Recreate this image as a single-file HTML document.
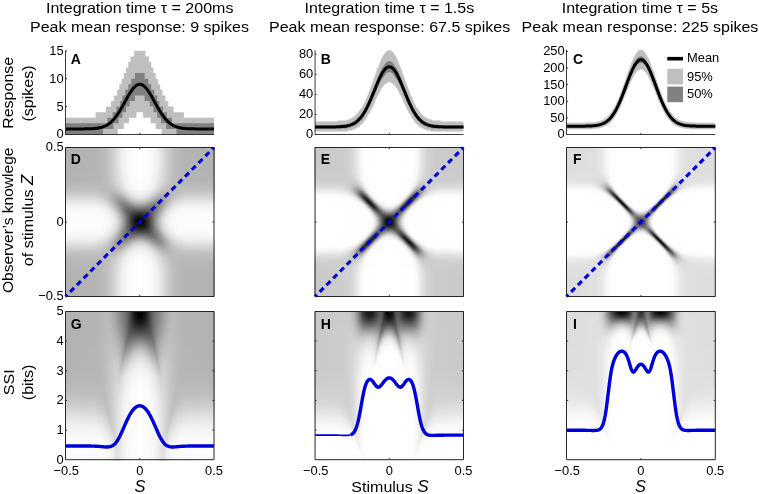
<!DOCTYPE html>
<html><head><meta charset="utf-8"><style>
html,body{margin:0;padding:0;background:#fff;width:759px;height:494px;overflow:hidden}
#root{position:relative;width:759px;height:494px;overflow:hidden}
i{position:absolute;left:0;width:100%;display:block;background:linear-gradient(90deg,var(--g)) left top/var(--hw) 100% no-repeat,linear-gradient(270deg,var(--g)) right top/var(--hw) 100% no-repeat}
svg{position:absolute;left:0;top:0;will-change:transform}
text{font-family:"Liberation Sans",sans-serif;fill:#000}
.m0_0{--g:#b2b2b2 0px,#b4b4b4 31.5px,#bcbcbc 40.5px,#cacaca 46.5px,#efefef 57.5px,#f9f9f9 63.5px,#fdfdfd 75px}
.m0_1{--g:#b3b3b3 0px,#b5b5b5 32.5px,#bcbcbc 40.5px,#c9c9c9 46.5px,#f0f0f0 58.5px,#fafafa 64.5px,#fdfdfd 75px}
.m0_2{--g:#b4b4b4 0px,#b6b6b6 33.5px,#bdbdbd 41.5px,#cbcbcb 47.5px,#efefef 58.5px,#f9f9f9 64.5px,#fdfdfd 75px}
.m0_3{--g:#b4b4b4 0px,#b6b6b6 33.5px,#bdbdbd 41.5px,#cacaca 47.5px,#eeeeee 58.5px,#f9f9f9 64.5px,#fdfdfd 75px}
.m0_4{--g:#b5b5b5 0px,#b7b7b7 34.5px,#bebebe 42.5px,#cccccc 48.5px,#eeeeee 58.5px,#f9f9f9 64.5px,#fdfdfd 75px}
.m0_5{--g:#b6b6b6 0px,#b8b8b8 35.5px,#bfbfbf 43.5px,#cecece 49.5px,#efefef 59.5px,#f9f9f9 65.5px,#fcfcfc 75px}
.m0_6{--g:#b7b7b7 0px,#b9b9b9 36.5px,#c0c0c0 44.5px,#d0d0d0 50.5px,#eeeeee 59.5px,#f9f9f9 65.5px,#fcfcfc 75px}
.m0_7{--g:#b7b7b7 0px,#b9b9b9 37.5px,#c0c0c0 44.5px,#cecece 50.5px,#ededed 59.5px,#f8f8f8 65.5px,#fcfcfc 75px}
.m0_8{--g:#b8b8b8 0px,#bababa 39.5px,#c2c2c2 46.5px,#d4d4d4 52.5px,#efefef 60.5px,#f9f9f9 66.5px,#fcfcfc 75px}
.m0_9{--g:#bababa 0px,#bbbbbb 41.5px,#c3c3c3 47.5px,#d5d5d5 53.5px,#ededed 60.5px,#f8f8f8 66.5px,#fbfbfb 75px}
.m0_10{--g:#bbbbbb 0px,#bcbcbc 42.5px,#c3c3c3 48.5px,#d7d7d7 54.5px,#eeeeee 61.5px,#f8f8f8 67.5px,#fbfbfb 75px}
.m0_11{--g:#bdbdbd 0px,#bcbcbc 44.5px,#c4c4c4 49.5px,#d8d8d8 55.5px,#ededed 61.5px,#f7f7f7 67.5px,#fafafa 75px}
.m0_12{--g:#bebebe 0px,#bcbcbc 37.5px,#bcbcbc 46.5px,#c6c6c6 51.5px,#eaeaea 61.5px,#f6f6f6 67.5px,#fafafa 75px}
.m0_13{--g:#c0c0c0 0px,#bebebe 34.5px,#bbbbbb 46.5px,#c3c3c3 51.5px,#ebebeb 62.5px,#f6f6f6 68.5px,#f9f9f9 75px}
.m0_14{--g:#c2c2c2 0px,#c0c0c0 33.5px,#b9b9b9 46.5px,#bdbdbd 50.5px,#cdcdcd 55.5px,#e8e8e8 62.5px,#f3f3f3 67.5px,#f7f7f7 75px}
.m0_15{--g:#c5c5c5 0px,#c3c3c3 31.5px,#b7b7b7 47.5px,#bbbbbb 51.5px,#cccccc 56.5px,#e8e8e8 63.5px,#f2f2f2 68.5px,#f6f6f6 75px}
.m0_16{--g:#c8c8c8 0px,#c5c5c5 31.5px,#bcbcbc 41.5px,#b5b5b5 48.5px,#b9b9b9 52.5px,#cccccc 57.5px,#e4e4e4 63.5px,#f0f0f0 68.5px,#f4f4f4 75px}
.m0_17{--g:#cbcbcb 0px,#c8c8c8 30.5px,#c0c0c0 39.5px,#b2b2b2 48.5px,#b5b5b5 52.5px,#c2c2c2 56.5px,#e0e0e0 63.5px,#ededed 68.5px,#f2f2f2 75px}
.m0_18{--g:#cecece 0px,#cbcbcb 30.5px,#c3c3c3 38.5px,#afafaf 49.5px,#b0b0b0 52.5px,#bcbcbc 56.5px,#dfdfdf 64.5px,#ececec 69.5px,#f0f0f0 75px}
.m0_19{--g:#d1d1d1 0px,#cfcfcf 29.5px,#c7c7c7 37.5px,#b5b5b5 45.5px,#ababab 50.5px,#acacac 53.5px,#b5b5b5 56.5px,#dadada 64.5px,#e8e8e8 69.5px,#ececec 75px}
.m0_20{--g:#d4d4d4 0px,#d2d2d2 29.5px,#cacaca 37.5px,#b9b9b9 44.5px,#a8a8a8 50.5px,#a7a7a7 53.5px,#aeaeae 56.5px,#d8d8d8 65.5px,#e5e5e5 70.5px,#e9e9e9 75px}
.m0_21{--g:#d8d8d8 0px,#d6d6d6 29.5px,#cdcdcd 37.5px,#bebebe 43.5px,#a5a5a5 50.5px,#a2a2a2 53.5px,#a7a7a7 56.5px,#bebebe 61.5px,#d5d5d5 66.5px,#e2e2e2 71.5px,#e4e4e4 75px}
.m0_22{--g:#dcdcdc 0px,#d9d9d9 29.5px,#d1d1d1 37.5px,#c3c3c3 42.5px,#a1a1a1 51.5px,#9d9d9d 54.5px,#a3a3a3 57.5px,#cecece 66.5px,#dadada 70.5px,#dfdfdf 75px}
.m0_23{--g:#dfdfdf 0px,#dddddd 29.5px,#d6d6d6 36.5px,#cacaca 41.5px,#b0b0b0 47.5px,#9f9f9f 51.5px,#999999 54.5px,#9c9c9c 57.5px,#aeaeae 61.5px,#cbcbcb 67.5px,#d5d5d5 71.5px,#d8d8d8 75px}
.m0_24{--g:#e3e3e3 0px,#e0e0e0 29.5px,#dadada 36.5px,#cdcdcd 41.5px,#b8b8b8 46.5px,#9a9a9a 52.5px,#949494 55.5px,#989898 58.5px,#aaaaaa 62.5px,#c2c2c2 67.5px,#cecece 71.5px,#d1d1d1 75px}
.m0_25{--g:#e6e6e6 0px,#e4e4e4 29.5px,#dcdcdc 37.5px,#cecece 42.5px,#b5b5b5 47.5px,#999999 52.5px,#909090 55.5px,#919191 58.5px,#a1a1a1 62.5px,#bdbdbd 68.5px,#c7c7c7 72.5px,#c9c9c9 75px}
.m0_26{--g:#e9e9e9 0px,#e7e7e7 29.5px,#dfdfdf 37.5px,#d2d2d2 42.5px,#bebebe 46.5px,#949494 53.5px,#8b8b8b 56.5px,#8d8d8d 59.5px,#9c9c9c 63.5px,#b6b6b6 69.5px,#bfbfbf 73.5px,#bfbfbf 75px}
.m0_27{--g:#ececec 0px,#eaeaea 30.5px,#e3e3e3 37.5px,#d6d6d6 42.5px,#c3c3c3 46.5px,#949494 53.5px,#888888 56.5px,#868686 59.5px,#8e8e8e 62.5px,#acacac 69.5px,#b4b4b4 73.5px,#b5b5b5 75px}
.m0_28{--g:#efefef 0px,#ededed 30.5px,#e6e6e6 37.5px,#dadada 42.5px,#c7c7c7 46.5px,#909090 54.5px,#838383 57.5px,#828282 60.5px,#8d8d8d 64.5px,#a4a4a4 70.5px,#aaaaaa 75px}
.m0_29{--g:#f1f1f1 0px,#efefef 31.5px,#e8e8e8 38.5px,#dadada 43.5px,#c6c6c6 47.5px,#8b8b8b 55.5px,#7e7e7e 58.5px,#7d7d7d 61.5px,#878787 65.5px,#9a9a9a 71.5px,#9e9e9e 75px}
.m0_30{--g:#f4f4f4 0px,#f1f1f1 31.5px,#ebebeb 38.5px,#dedede 43.5px,#cacaca 47.5px,#a5a5a5 52.5px,#878787 56.5px,#7a7a7a 59.5px,#777777 62.5px,#838383 67.5px,#8f8f8f 72.5px,#919191 75px}
.m0_31{--g:#f5f5f5 0px,#f3f3f3 32.5px,#ececec 39.5px,#dedede 44.5px,#c9c9c9 48.5px,#a1a1a1 53.5px,#828282 57.5px,#757575 60.5px,#727272 63.5px,#7d7d7d 69.5px,#848484 75px}
.m0_32{--g:#f7f7f7 0px,#f5f5f5 32.5px,#efefef 39.5px,#e2e2e2 44.5px,#cecece 48.5px,#aeaeae 52.5px,#848484 57.5px,#737373 60.5px,#6b6b6b 63.5px,#6e6e6e 67.5px,#767676 75px}
.m0_33{--g:#f8f8f8 0px,#f6f6f6 33.5px,#efefef 40.5px,#e5e5e5 44.5px,#d2d2d2 48.5px,#b4b4b4 52.5px,#7f7f7f 58.5px,#6d6d6d 61.5px,#656565 64.5px,#646464 68.5px,#696969 75px}
.m0_34{--g:#f9f9f9 0px,#f7f7f7 33.5px,#f0f0f0 41.5px,#e5e5e5 45.5px,#d7d7d7 48.5px,#c1c1c1 51.5px,#797979 59.5px,#676767 62.5px,#5d5d5d 65.5px,#5a5a5a 70.5px,#5b5b5b 75px}
.m0_35{--g:#fafafa 0px,#f8f8f8 34.5px,#f2f2f2 41.5px,#e8e8e8 45.5px,#dbdbdb 48.5px,#c6c6c6 51.5px,#989898 56.5px,#737373 60.5px,#5f5f5f 63.5px,#545454 66.5px,#4e4e4e 71.5px,#4e4e4e 75px}
.m0_36{--g:#fbfbfb 0px,#f9f9f9 35.5px,#f2f2f2 42.5px,#e7e7e7 46.5px,#d9d9d9 49.5px,#c3c3c3 52.5px,#929292 57.5px,#6c6c6c 61.5px,#575757 64.5px,#4a4a4a 67.5px,#434343 71.5px,#414141 75px}
.m0_37{--g:#fcfcfc 0px,#fafafa 35.5px,#f3f3f3 42.5px,#eaeaea 46.5px,#dcdcdc 49.5px,#c7c7c7 52.5px,#a1a1a1 56.5px,#6d6d6d 61.5px,#545454 64.5px,#434343 67.5px,#383838 71.5px,#353535 75px}
.m0_38{--g:#fcfcfc 0px,#fafafa 36.5px,#f3f3f3 43.5px,#e8e8e8 47.5px,#d9d9d9 50.5px,#c3c3c3 53.5px,#9a9a9a 57.5px,#646464 62.5px,#4a4a4a 65.5px,#383838 68.5px,#2e2e2e 71.5px,#2a2a2a 75px}
.m0_39{--g:#fcfcfc 0px,#fbfbfb 36.5px,#f4f4f4 43.5px,#eaeaea 47.5px,#dcdcdc 50.5px,#c7c7c7 53.5px,#9e9e9e 57.5px,#5a5a5a 63.5px,#404040 66.5px,#2d2d2d 69.5px,#232323 72.5px,#202020 75px}
.m0_40{--g:#fdfdfd 0px,#fbfbfb 37.5px,#f4f4f4 44.5px,#e8e8e8 48.5px,#d9d9d9 51.5px,#c1c1c1 54.5px,#969696 58.5px,#505050 64.5px,#343434 67.5px,#222222 70.5px,#191919 73.5px,#181818 75px}
.m0_41{--g:#fdfdfd 0px,#fbfbfb 37.5px,#f5f5f5 44.5px,#eaeaea 48.5px,#dbdbdb 51.5px,#c4c4c4 54.5px,#a4a4a4 57.5px,#4f4f4f 64.5px,#313131 67.5px,#1c1c1c 70.5px,#111111 73.5px,#101010 75px}
.m0_42{--g:#fdfdfd 0px,#fbfbfb 38.5px,#f3f3f3 45.5px,#e7e7e7 49.5px,#d6d6d6 52.5px,#bcbcbc 55.5px,#8e8e8e 59.5px,#434343 65.5px,#262626 68.5px,#121212 71.5px,#0b0b0b 73.5px,#0a0a0a 75px}
.m0_43{--g:#fdfdfd 0px,#fbfbfb 38.5px,#f4f4f4 45.5px,#e8e8e8 49.5px,#d7d7d7 52.5px,#bebebe 55.5px,#9d9d9d 58.5px,#424242 65.5px,#232323 68.5px,#0e0e0e 71.5px,#070707 73.5px,#050505 75px}
.m0_44{--g:#fdfdfd 0px,#fbfbfb 38.5px,#f4f4f4 45.5px,#e9e9e9 49.5px,#d8d8d8 52.5px,#bfbfbf 55.5px,#9e9e9e 58.5px,#424242 65.5px,#212121 68.5px,#111111 70.5px,#040404 73.5px,#020202 75px}
.m0_45{--g:#fdfdfd 0px,#fbfbfb 38.5px,#f5f5f5 45.5px,#e9e9e9 49.5px,#d9d9d9 52.5px,#c0c0c0 55.5px,#9e9e9e 58.5px,#424242 65.5px,#212121 68.5px,#101010 70.5px,#050505 72.5px,#010101 75px}
.m1_0{--g:#c9c9c9 0px,#cccccc 29.5px,#d3d3d3 36.5px,#e1e1e1 41.5px,#f8f8f8 47.5px,#fefefe 51.5px,#ffffff 75px}
.m1_1{--g:#cacaca 0px,#cccccc 29.5px,#d3d3d3 36.5px,#e0e0e0 41.5px,#f8f8f8 47.5px,#fefefe 51.5px,#ffffff 75px}
.m1_2{--g:#cacaca 0px,#cccccc 30.5px,#d4d4d4 37.5px,#e3e3e3 42.5px,#f7f7f7 47.5px,#fefefe 51.5px,#ffffff 75px}
.m1_3{--g:#cbcbcb 0px,#cdcdcd 31.5px,#d3d3d3 37.5px,#e2e2e2 42.5px,#f9f9f9 48.5px,#ffffff 52.5px,#ffffff 75px}
.m1_4{--g:#cbcbcb 0px,#cdcdcd 32.5px,#d4d4d4 38.5px,#e0e0e0 42.5px,#f9f9f9 48.5px,#fefefe 52.5px,#ffffff 75px}
.m1_5{--g:#cccccc 0px,#cecece 33.5px,#d5d5d5 39.5px,#e3e3e3 43.5px,#f8f8f8 48.5px,#fefefe 52.5px,#ffffff 75px}
.m1_6{--g:#cccccc 0px,#cecece 34.5px,#d4d4d4 39.5px,#e2e2e2 43.5px,#f8f8f8 48.5px,#fefefe 51.5px,#ffffff 75px}
.m1_7{--g:#cdcdcd 0px,#cecece 35.5px,#d5d5d5 40.5px,#e5e5e5 44.5px,#f7f7f7 48.5px,#fdfdfd 51.5px,#ffffff 75px}
.m1_8{--g:#cecece 0px,#cecece 36.5px,#d3d3d3 40.5px,#e2e2e2 44.5px,#f6f6f6 48.5px,#fdfdfd 51.5px,#ffffff 71.5px,#ffffff 75px}
.m1_9{--g:#cfcfcf 0px,#cecece 38.5px,#d7d7d7 42.5px,#f8f8f8 49.5px,#fefefe 52.5px,#ffffff 75px}
.m1_10{--g:#d0d0d0 0px,#cecece 31.5px,#cdcdcd 39.5px,#d4d4d4 42.5px,#e8e8e8 46.5px,#f7f7f7 49.5px,#fefefe 52.5px,#ffffff 75px}
.m1_11{--g:#d2d2d2 0px,#cfcfcf 29.5px,#cbcbcb 39.5px,#d0d0d0 42.5px,#dedede 45.5px,#f5f5f5 49.5px,#fdfdfd 52.5px,#ffffff 75px}
.m1_12{--g:#d3d3d3 0px,#d1d1d1 28.5px,#c8c8c8 40.5px,#cfcfcf 43.5px,#e0e0e0 46.5px,#f3f3f3 49.5px,#fdfdfd 52.5px,#ffffff 62.5px,#ffffff 75px}
.m1_13{--g:#d6d6d6 0px,#d3d3d3 27.5px,#c9c9c9 36.5px,#c4c4c4 40.5px,#c9c9c9 43.5px,#d3d3d3 45.5px,#f0f0f0 49.5px,#fafafa 51.5px,#fefefe 54.5px,#ffffff 75px}
.m1_14{--g:#d8d8d8 0px,#d6d6d6 26.5px,#cfcfcf 33.5px,#bfbfbf 41.5px,#c2c2c2 43.5px,#cbcbcb 45.5px,#f3f3f3 50.5px,#fbfbfb 52.5px,#ffffff 56.5px,#ffffff 75px}
.m1_15{--g:#dbdbdb 0px,#d9d9d9 25.5px,#d2d2d2 32.5px,#c2c2c2 38.5px,#bababa 41.5px,#bababa 43.5px,#c2c2c2 45.5px,#dddddd 48.5px,#efefef 50.5px,#f9f9f9 52.5px,#fefefe 55.5px,#ffffff 75px}
.m1_16{--g:#dedede 0px,#dcdcdc 25.5px,#d4d4d4 32.5px,#c5c5c5 37.5px,#b2b2b2 42.5px,#b2b2b2 44.5px,#b7b7b7 45.5px,#c8c8c8 47.5px,#e9e9e9 50.5px,#f7f7f7 52.5px,#fdfdfd 54.5px,#ffffff 66.5px,#ffffff 75px}
.m1_17{--g:#e2e2e2 0px,#dfdfdf 25.5px,#d9d9d9 31.5px,#cecece 35.5px,#bababa 39.5px,#aaaaaa 42.5px,#a7a7a7 44.5px,#aaaaaa 45.5px,#b1b1b1 46.5px,#c7c7c7 48.5px,#e1e1e1 50.5px,#f4f4f4 52.5px,#fcfcfc 54.5px,#ffffff 59.5px,#ffffff 75px}
.m1_18{--g:#e6e6e6 0px,#e3e3e3 25.5px,#dddddd 31.5px,#d1d1d1 35.5px,#c1c1c1 38.5px,#9e9e9e 43.5px,#9b9b9b 44.5px,#9c9c9c 45.5px,#a1a1a1 46.5px,#ababab 47.5px,#e4e4e4 51.5px,#eeeeee 52.5px,#f6f6f6 53.5px,#fdfdfd 55.5px,#ffffff 63.5px,#ffffff 75px}
.m1_19{--g:#eaeaea 0px,#e7e7e7 25.5px,#e1e1e1 31.5px,#d5d5d5 35.5px,#c3c3c3 38.5px,#969696 43.5px,#909090 44.5px,#8e8e8e 45.5px,#909090 46.5px,#989898 47.5px,#a5a5a5 48.5px,#d9d9d9 51.5px,#e6e6e6 52.5px,#f1f1f1 53.5px,#fbfbfb 55.5px,#ffffff 59.5px,#ffffff 75px}
.m1_20{--g:#eeeeee 0px,#ececec 25.5px,#e5e5e5 31.5px,#dadada 35.5px,#c7c7c7 38.5px,#a9a9a9 41.5px,#868686 44.5px,#808080 45.5px,#7f7f7f 46.5px,#848484 47.5px,#909090 48.5px,#a1a1a1 49.5px,#cacaca 51.5px,#dbdbdb 52.5px,#e9e9e9 53.5px,#f3f3f3 54.5px,#fcfcfc 56.5px,#ffffff 61.5px,#ffffff 75px}
.m1_21{--g:#f2f2f2 0px,#efefef 26.5px,#e9e9e9 32.5px,#dfdfdf 35.5px,#cdcdcd 38.5px,#b9b9b9 40.5px,#818181 44.5px,#767676 45.5px,#707070 46.5px,#707070 47.5px,#797979 48.5px,#898989 49.5px,#cbcbcb 52.5px,#dedede 53.5px,#ebebeb 54.5px,#f4f4f4 55.5px,#fcfcfc 57.5px,#ffffff 64.5px,#ffffff 75px}
.m1_22{--g:#f5f5f5 0px,#f3f3f3 27.5px,#ececec 33.5px,#e1e1e1 36.5px,#d5d5d5 38.5px,#c1c1c1 40.5px,#a4a4a4 42.5px,#717171 45.5px,#656565 46.5px,#5f5f5f 47.5px,#636363 48.5px,#6f6f6f 49.5px,#838383 50.5px,#b7b7b7 52.5px,#cecece 53.5px,#e0e0e0 54.5px,#ededed 55.5px,#f6f6f6 56.5px,#fdfdfd 58.5px,#ffffff 69.5px,#ffffff 75px}
.m1_23{--g:#f8f8f8 0px,#f6f6f6 28.5px,#efefef 34.5px,#e3e3e3 37.5px,#d5d5d5 39.5px,#bebebe 41.5px,#9b9b9b 43.5px,#737373 45.5px,#616161 46.5px,#545454 47.5px,#505050 48.5px,#565656 49.5px,#676767 50.5px,#808080 51.5px,#b9b9b9 53.5px,#d0d0d0 54.5px,#e3e3e3 55.5px,#efefef 56.5px,#f7f7f7 57.5px,#fdfdfd 59.5px,#ffffff 75px}
.m1_24{--g:#fbfbfb 0px,#f9f9f9 29.5px,#f1f1f1 35.5px,#e6e6e6 38.5px,#d6d6d6 40.5px,#cacaca 41.5px,#bbbbbb 42.5px,#a9a9a9 43.5px,#666666 46.5px,#525252 47.5px,#464646 48.5px,#434343 49.5px,#4c4c4c 50.5px,#616161 51.5px,#7d7d7d 52.5px,#bababa 54.5px,#d2d2d2 55.5px,#e5e5e5 56.5px,#f0f0f0 57.5px,#f7f7f7 58.5px,#fdfdfd 60.5px,#ffffff 75px}
.m1_25{--g:#fcfcfc 0px,#fafafa 31.5px,#f4f4f4 36.5px,#e8e8e8 39.5px,#d7d7d7 41.5px,#cacaca 42.5px,#bababa 43.5px,#a6a6a6 44.5px,#5a5a5a 47.5px,#454545 48.5px,#393939 49.5px,#373737 50.5px,#454545 51.5px,#5d5d5d 52.5px,#bcbcbc 55.5px,#d5d5d5 56.5px,#e6e6e6 57.5px,#f1f1f1 58.5px,#f8f8f8 59.5px,#fdfdfd 61.5px,#ffffff 75px}
.m1_26{--g:#fefefe 0px,#fcfcfc 32.5px,#f6f6f6 37.5px,#f0f0f0 39.5px,#e3e3e3 41.5px,#d9d9d9 42.5px,#cbcbcb 43.5px,#bababa 44.5px,#a3a3a3 45.5px,#505050 48.5px,#3a3a3a 49.5px,#2d2d2d 50.5px,#2f2f2f 51.5px,#3e3e3e 52.5px,#595959 53.5px,#9f9f9f 55.5px,#bebebe 56.5px,#d6d6d6 57.5px,#e7e7e7 58.5px,#f2f2f2 59.5px,#fcfcfc 61.5px,#ffffff 66.5px,#ffffff 75px}
.m1_27{--g:#fefefe 0px,#fdfdfd 34.5px,#f8f8f8 38.5px,#ededed 41.5px,#e6e6e6 42.5px,#dbdbdb 43.5px,#cdcdcd 44.5px,#bababa 45.5px,#a2a2a2 46.5px,#494949 49.5px,#313131 50.5px,#262626 51.5px,#282828 52.5px,#393939 53.5px,#585858 54.5px,#9f9f9f 56.5px,#bebebe 57.5px,#d6d6d6 58.5px,#e7e7e7 59.5px,#f2f2f2 60.5px,#f8f8f8 61.5px,#fdfdfd 63.5px,#ffffff 75px}
.m1_28{--g:#ffffff 0px,#fdfdfd 36.5px,#f8f8f8 40.5px,#f0f0f0 42.5px,#e8e8e8 43.5px,#dedede 44.5px,#cfcfcf 45.5px,#bbbbbb 46.5px,#a2a2a2 47.5px,#424242 50.5px,#2b2b2b 51.5px,#1f1f1f 52.5px,#222222 53.5px,#373737 54.5px,#565656 55.5px,#a0a0a0 57.5px,#bfbfbf 58.5px,#d7d7d7 59.5px,#e7e7e7 60.5px,#f2f2f2 61.5px,#f8f8f8 62.5px,#fefefe 65.5px,#ffffff 75px}
.m1_29{--g:#ffffff 0px,#fdfdfd 38.5px,#f6f6f6 42.5px,#ebebeb 44.5px,#e1e1e1 45.5px,#d1d1d1 46.5px,#bdbdbd 47.5px,#a2a2a2 48.5px,#3e3e3e 51.5px,#252525 52.5px,#191919 53.5px,#1f1f1f 54.5px,#353535 55.5px,#555555 56.5px,#a0a0a0 58.5px,#c0c0c0 59.5px,#d7d7d7 60.5px,#e7e7e7 61.5px,#f1f1f1 62.5px,#fbfbfb 64.5px,#ffffff 69.5px,#ffffff 75px}
.m1_30{--g:#ffffff 0px,#fdfdfd 40.5px,#f8f8f8 43.5px,#ededed 45.5px,#e3e3e3 46.5px,#d4d4d4 47.5px,#bebebe 48.5px,#a3a3a3 49.5px,#828282 50.5px,#3b3b3b 52.5px,#222222 53.5px,#181818 54.5px,#1e1e1e 55.5px,#343434 56.5px,#565656 57.5px,#a0a0a0 59.5px,#bfbfbf 60.5px,#d6d6d6 61.5px,#e6e6e6 62.5px,#f0f0f0 63.5px,#fafafa 65.5px,#fefefe 69.5px,#ffffff 75px}
.m1_31{--g:#ffffff 0px,#fefefe 41.5px,#f9f9f9 44.5px,#efefef 46.5px,#e5e5e5 47.5px,#d6d6d6 48.5px,#c0c0c0 49.5px,#a4a4a4 50.5px,#393939 53.5px,#202020 54.5px,#161616 55.5px,#1d1d1d 56.5px,#353535 57.5px,#575757 58.5px,#a0a0a0 60.5px,#bebebe 61.5px,#d5d5d5 62.5px,#e4e4e4 63.5px,#efefef 64.5px,#f9f9f9 66.5px,#fefefe 70.5px,#ffffff 75px}
.m1_32{--g:#ffffff 0px,#fdfdfd 43.5px,#f7f7f7 46.5px,#f1f1f1 47.5px,#e7e7e7 48.5px,#d8d8d8 49.5px,#c2c2c2 50.5px,#a4a4a4 51.5px,#5b5b5b 53.5px,#383838 54.5px,#1f1f1f 55.5px,#161616 56.5px,#1f1f1f 57.5px,#363636 58.5px,#585858 59.5px,#a0a0a0 61.5px,#bdbdbd 62.5px,#d3d3d3 63.5px,#e2e2e2 64.5px,#ededed 65.5px,#f8f8f8 67.5px,#fdfdfd 71.5px,#fefefe 75px}
.m1_33{--g:#ffffff 0px,#fefefe 44.5px,#f8f8f8 47.5px,#f2f2f2 48.5px,#e8e8e8 49.5px,#d9d9d9 50.5px,#c2c2c2 51.5px,#a5a5a5 52.5px,#5b5b5b 54.5px,#393939 55.5px,#212121 56.5px,#191919 57.5px,#222222 58.5px,#3a3a3a 59.5px,#9f9f9f 62.5px,#bbbbbb 63.5px,#d0d0d0 64.5px,#dfdfdf 65.5px,#eaeaea 66.5px,#f5f5f5 68.5px,#fbfbfb 71.5px,#fcfcfc 75px}
.m1_34{--g:#ffffff 0px,#fefefe 45.5px,#f8f8f8 48.5px,#f2f2f2 49.5px,#e9e9e9 50.5px,#d9d9d9 51.5px,#c3c3c3 52.5px,#a5a5a5 53.5px,#5b5b5b 55.5px,#3a3a3a 56.5px,#242424 57.5px,#1d1d1d 58.5px,#272727 59.5px,#3e3e3e 60.5px,#9f9f9f 63.5px,#b9b9b9 64.5px,#cdcdcd 65.5px,#dcdcdc 66.5px,#e6e6e6 67.5px,#f2f2f2 69.5px,#f9f9f9 72.5px,#fafafa 75px}
.m1_35{--g:#ffffff 0px,#fdfdfd 47.5px,#f9f9f9 49.5px,#f3f3f3 50.5px,#e9e9e9 51.5px,#dadada 52.5px,#c3c3c3 53.5px,#a5a5a5 54.5px,#5c5c5c 56.5px,#3d3d3d 57.5px,#292929 58.5px,#232323 59.5px,#2e2e2e 60.5px,#454545 61.5px,#9e9e9e 64.5px,#b6b6b6 65.5px,#c9c9c9 66.5px,#d8d8d8 67.5px,#e2e2e2 68.5px,#eeeeee 70.5px,#f5f5f5 73.5px,#f5f5f5 75px}
.m1_36{--g:#ffffff 0px,#fdfdfd 48.5px,#f9f9f9 50.5px,#f3f3f3 51.5px,#e9e9e9 52.5px,#d9d9d9 53.5px,#c2c2c2 54.5px,#a4a4a4 55.5px,#5f5f5f 57.5px,#424242 58.5px,#303030 59.5px,#2d2d2d 60.5px,#373737 61.5px,#4c4c4c 62.5px,#9d9d9d 65.5px,#b3b3b3 66.5px,#c5c5c5 67.5px,#d2d2d2 68.5px,#e3e3e3 70.5px,#ebebeb 72.5px,#ededed 75px}
.m1_37{--g:#ffffff 0px,#fefefe 49.5px,#f9f9f9 51.5px,#f3f3f3 52.5px,#e9e9e9 53.5px,#d8d8d8 54.5px,#c1c1c1 55.5px,#a4a4a4 56.5px,#616161 58.5px,#474747 59.5px,#383838 60.5px,#363636 61.5px,#404040 62.5px,#535353 63.5px,#9b9b9b 66.5px,#afafaf 67.5px,#bfbfbf 68.5px,#cbcbcb 69.5px,#dadada 71.5px,#e1e1e1 73.5px,#e3e3e3 75px}
.m1_38{--g:#ffffff 0px,#fefefe 50.5px,#f8f8f8 52.5px,#f2f2f2 53.5px,#e7e7e7 54.5px,#d7d7d7 55.5px,#c0c0c0 56.5px,#656565 59.5px,#4e4e4e 60.5px,#414141 61.5px,#404040 62.5px,#4a4a4a 63.5px,#5b5b5b 64.5px,#989898 67.5px,#a9a9a9 68.5px,#b7b7b7 69.5px,#c1c1c1 70.5px,#cfcfcf 72.5px,#d4d4d4 75px}
.m1_39{--g:#ffffff 0px,#fefefe 50.5px,#fcfcfc 52.5px,#f8f8f8 53.5px,#f1f1f1 54.5px,#e6e6e6 55.5px,#d5d5d5 56.5px,#bdbdbd 57.5px,#696969 60.5px,#555555 61.5px,#4b4b4b 62.5px,#4b4b4b 63.5px,#525252 64.5px,#606060 65.5px,#939393 68.5px,#acacac 70.5px,#bbbbbb 72.5px,#c1c1c1 75px}
.m1_40{--g:#ffffff 0px,#fefefe 51.5px,#fbfbfb 53.5px,#f7f7f7 54.5px,#f0f0f0 55.5px,#e4e4e4 56.5px,#d2d2d2 57.5px,#bbbbbb 58.5px,#868686 60.5px,#6d6d6d 61.5px,#5c5c5c 62.5px,#535353 63.5px,#525252 64.5px,#585858 65.5px,#717171 67.5px,#8b8b8b 69.5px,#9f9f9f 71.5px,#aaaaaa 73.5px,#acacac 75px}
.m1_41{--g:#ffffff 0px,#fefefe 52.5px,#fafafa 54.5px,#f6f6f6 55.5px,#eeeeee 56.5px,#e1e1e1 57.5px,#cfcfcf 58.5px,#b9b9b9 59.5px,#868686 61.5px,#717171 62.5px,#626262 63.5px,#595959 64.5px,#585858 65.5px,#5c5c5c 66.5px,#6d6d6d 68.5px,#888888 71.5px,#939393 73.5px,#959595 75px}
.m1_42{--g:#ffffff 0px,#fefefe 53.5px,#f9f9f9 55.5px,#f4f4f4 56.5px,#ebebeb 57.5px,#dddddd 58.5px,#cbcbcb 59.5px,#868686 62.5px,#737373 63.5px,#646464 64.5px,#5c5c5c 65.5px,#5a5a5a 66.5px,#5b5b5b 67.5px,#777777 72.5px,#7c7c7c 75px}
.m1_43{--g:#ffffff 0px,#fefefe 53.5px,#fcfcfc 55.5px,#f8f8f8 56.5px,#f1f1f1 57.5px,#e7e7e7 58.5px,#d9d9d9 59.5px,#c6c6c6 60.5px,#848484 63.5px,#727272 64.5px,#646464 65.5px,#5c5c5c 66.5px,#575757 67.5px,#585858 69.5px,#636363 73.5px,#646464 75px}
.m1_44{--g:#ffffff 0px,#fefefe 54.5px,#fafafa 56.5px,#f6f6f6 57.5px,#eeeeee 58.5px,#e3e3e3 59.5px,#d3d3d3 60.5px,#aaaaaa 62.5px,#808080 64.5px,#6e6e6e 65.5px,#606060 66.5px,#575757 67.5px,#515151 68.5px,#4c4c4c 70.5px,#4d4d4d 75px}
.m1_45{--g:#ffffff 0px,#fefefe 55.5px,#f8f8f8 57.5px,#f3f3f3 58.5px,#eaeaea 59.5px,#dddddd 60.5px,#cccccc 61.5px,#787878 65.5px,#676767 66.5px,#585858 67.5px,#4d4d4d 68.5px,#404040 70.5px,#393939 73.5px,#393939 75px}
.m1_46{--g:#ffffff 0px,#fefefe 55.5px,#fafafa 57.5px,#f6f6f6 58.5px,#eeeeee 59.5px,#e3e3e3 60.5px,#d5d5d5 61.5px,#aeaeae 63.5px,#6d6d6d 66.5px,#5b5b5b 67.5px,#4c4c4c 68.5px,#373737 70.5px,#2b2b2b 72.5px,#272727 75px}
.m1_47{--g:#ffffff 0px,#fefefe 55.5px,#fbfbfb 57.5px,#f2f2f2 59.5px,#e8e8e8 60.5px,#dbdbdb 61.5px,#cacaca 62.5px,#a0a0a0 64.5px,#5f5f5f 67.5px,#3d3d3d 69.5px,#303030 70.5px,#1f1f1f 72.5px,#181818 75px}
.m1_48{--g:#ffffff 0px,#fefefe 56.5px,#f9f9f9 58.5px,#f4f4f4 59.5px,#ebebeb 60.5px,#dfdfdf 61.5px,#d0d0d0 62.5px,#a7a7a7 64.5px,#616161 67.5px,#3b3b3b 69.5px,#2b2b2b 70.5px,#1f1f1f 71.5px,#161616 72.5px,#101010 73.5px,#0d0d0d 75px}
.m1_49{--g:#ffffff 0px,#fefefe 56.5px,#fafafa 58.5px,#f5f5f5 59.5px,#ededed 60.5px,#e2e2e2 61.5px,#d3d3d3 62.5px,#ababab 64.5px,#4e4e4e 68.5px,#282828 70.5px,#1a1a1a 71.5px,#101010 72.5px,#080808 73.5px,#050505 75px}
.m1_50{--g:#ffffff 0px,#fefefe 56.5px,#fafafa 58.5px,#f5f5f5 59.5px,#eeeeee 60.5px,#e3e3e3 61.5px,#d5d5d5 62.5px,#c2c2c2 63.5px,#969696 65.5px,#4e4e4e 68.5px,#272727 70.5px,#181818 71.5px,#0d0d0d 72.5px,#050505 73.5px,#010101 75px}
.m2_0{--g:#dcdcdc 0px,#dfdfdf 28.5px,#e7e7e7 35.5px,#fdfdfd 43.5px,#ffffff 51.5px,#ffffff 75px}
.m2_1{--g:#dddddd 0px,#dfdfdf 29.5px,#e6e6e6 35.5px,#fcfcfc 43.5px,#ffffff 49.5px,#ffffff 75px}
.m2_2{--g:#dddddd 0px,#e0e0e0 30.5px,#e7e7e7 36.5px,#fcfcfc 43.5px,#ffffff 48.5px,#ffffff 75px}
.m2_3{--g:#dedede 0px,#e0e0e0 31.5px,#e6e6e6 36.5px,#fbfbfb 43.5px,#ffffff 48.5px,#ffffff 75px}
.m2_4{--g:#dedede 0px,#e0e0e0 32.5px,#e7e7e7 37.5px,#fbfbfb 43.5px,#ffffff 47.5px,#ffffff 75px}
.m2_5{--g:#dfdfdf 0px,#e0e0e0 33.5px,#e6e6e6 37.5px,#fdfdfd 44.5px,#ffffff 53.5px,#ffffff 75px}
.m2_6{--g:#dfdfdf 0px,#e0e0e0 34.5px,#e7e7e7 38.5px,#fcfcfc 44.5px,#ffffff 50.5px,#ffffff 75px}
.m2_7{--g:#e0e0e0 0px,#e0e0e0 35.5px,#e5e5e5 38.5px,#fcfcfc 44.5px,#ffffff 49.5px,#ffffff 75px}
.m2_8{--g:#e1e1e1 0px,#dfdfdf 30.5px,#dfdfdf 36.5px,#e6e6e6 39.5px,#fbfbfb 44.5px,#ffffff 48.5px,#ffffff 75px}
.m2_9{--g:#e2e2e2 0px,#e0e0e0 28.5px,#dcdcdc 36.5px,#e2e2e2 39.5px,#fafafa 44.5px,#ffffff 47.5px,#ffffff 75px}
.m2_10{--g:#e4e4e4 0px,#e1e1e1 26.5px,#dadada 37.5px,#dedede 39.5px,#f9f9f9 44.5px,#ffffff 47.5px,#ffffff 75px}
.m2_11{--g:#e5e5e5 0px,#e3e3e3 25.5px,#dbdbdb 33.5px,#d6d6d6 37.5px,#d9d9d9 39.5px,#e3e3e3 41.5px,#f7f7f7 44.5px,#fdfdfd 46.5px,#ffffff 67.5px,#ffffff 75px}
.m2_12{--g:#e7e7e7 0px,#e5e5e5 25.5px,#dcdcdc 32.5px,#d2d2d2 37.5px,#d3d3d3 39.5px,#dcdcdc 41.5px,#f4f4f4 44.5px,#fdfdfd 46.5px,#ffffff 51.5px,#ffffff 75px}
.m2_13{--g:#e9e9e9 0px,#e7e7e7 24.5px,#e1e1e1 30.5px,#d0d0d0 36.5px,#cbcbcb 38.5px,#cdcdcd 40.5px,#d3d3d3 41.5px,#efefef 44.5px,#fbfbfb 46.5px,#ffffff 49.5px,#ffffff 75px}
.m2_14{--g:#ececec 0px,#eaeaea 24.5px,#e3e3e3 30.5px,#d6d6d6 34.5px,#c4c4c4 38.5px,#c2c2c2 39.5px,#c3c3c3 40.5px,#c8c8c8 41.5px,#dcdcdc 43.5px,#f2f2f2 45.5px,#f9f9f9 46.5px,#fefefe 48.5px,#ffffff 75px}
.m2_15{--g:#efefef 0px,#ededed 24.5px,#e5e5e5 30.5px,#dcdcdc 33.5px,#cbcbcb 36.5px,#b9b9b9 39.5px,#b7b7b7 40.5px,#bababa 41.5px,#c2c2c2 42.5px,#ebebeb 45.5px,#f5f5f5 46.5px,#fbfbfb 47.5px,#ffffff 50.5px,#ffffff 75px}
.m2_16{--g:#f2f2f2 0px,#f0f0f0 24.5px,#e9e9e9 30.5px,#dfdfdf 33.5px,#cbcbcb 36.5px,#b1b1b1 39.5px,#acacac 40.5px,#ababab 41.5px,#b1b1b1 42.5px,#bebebe 43.5px,#e0e0e0 45.5px,#efefef 46.5px,#f8f8f8 47.5px,#fefefe 49.5px,#ffffff 75px}
.m2_17{--g:#f5f5f5 0px,#f3f3f3 24.5px,#ededed 30.5px,#e3e3e3 33.5px,#d7d7d7 35.5px,#c4c4c4 37.5px,#a2a2a2 40.5px,#9c9c9c 41.5px,#9e9e9e 42.5px,#a8a8a8 43.5px,#bbbbbb 44.5px,#e4e4e4 46.5px,#f3f3f3 47.5px,#fafafa 48.5px,#ffffff 50.5px,#ffffff 75px}
.m2_18{--g:#f8f8f8 0px,#f6f6f6 25.5px,#efefef 31.5px,#e3e3e3 34.5px,#d4d4d4 36.5px,#bbbbbb 38.5px,#9c9c9c 40.5px,#909090 41.5px,#8b8b8b 42.5px,#919191 43.5px,#a1a1a1 44.5px,#d4d4d4 46.5px,#e9e9e9 47.5px,#f6f6f6 48.5px,#fcfcfc 49.5px,#ffffff 52.5px,#ffffff 75px}
.m2_19{--g:#fbfbfb 0px,#f8f8f8 27.5px,#f2f2f2 32.5px,#e4e4e4 35.5px,#d1d1d1 37.5px,#c4c4c4 38.5px,#8c8c8c 41.5px,#7f7f7f 42.5px,#7b7b7b 43.5px,#858585 44.5px,#9d9d9d 45.5px,#d8d8d8 47.5px,#ececec 48.5px,#f8f8f8 49.5px,#fdfdfd 50.5px,#ffffff 57.5px,#ffffff 75px}
.m2_20{--g:#fdfdfd 0px,#fbfbfb 28.5px,#f4f4f4 33.5px,#ededed 35.5px,#dddddd 37.5px,#d0d0d0 38.5px,#bfbfbf 39.5px,#7c7c7c 42.5px,#6d6d6d 43.5px,#6b6b6b 44.5px,#7d7d7d 45.5px,#9b9b9b 46.5px,#bebebe 47.5px,#dcdcdc 48.5px,#f0f0f0 49.5px,#fafafa 50.5px,#ffffff 52.5px,#ffffff 75px}
.m2_21{--g:#fefefe 0px,#fcfcfc 30.5px,#f7f7f7 34.5px,#f0f0f0 36.5px,#e9e9e9 37.5px,#dfdfdf 38.5px,#d0d0d0 39.5px,#bdbdbd 40.5px,#a4a4a4 41.5px,#6d6d6d 43.5px,#5c5c5c 44.5px,#5f5f5f 45.5px,#767676 46.5px,#c2c2c2 48.5px,#e1e1e1 49.5px,#f4f4f4 50.5px,#fbfbfb 51.5px,#ffffff 53.5px,#ffffff 75px}
.m2_22{--g:#ffffff 0px,#fdfdfd 32.5px,#f7f7f7 36.5px,#ececec 38.5px,#e2e2e2 39.5px,#d2d2d2 40.5px,#bdbdbd 41.5px,#a0a0a0 42.5px,#606060 44.5px,#505050 45.5px,#545454 46.5px,#707070 47.5px,#c6c6c6 49.5px,#e5e5e5 50.5px,#f5f5f5 51.5px,#fcfcfc 52.5px,#ffffff 55.5px,#ffffff 75px}
.m2_23{--g:#ffffff 0px,#fdfdfd 34.5px,#f9f9f9 37.5px,#f0f0f0 39.5px,#e6e6e6 40.5px,#d6d6d6 41.5px,#bebebe 42.5px,#9e9e9e 43.5px,#787878 44.5px,#565656 45.5px,#434343 46.5px,#494949 47.5px,#6c6c6c 48.5px,#9d9d9d 49.5px,#cacaca 50.5px,#e8e8e8 51.5px,#f7f7f7 52.5px,#fdfdfd 53.5px,#ffffff 61.5px,#ffffff 75px}
.m2_24{--g:#ffffff 0px,#fefefe 36.5px,#f8f8f8 39.5px,#f3f3f3 40.5px,#eaeaea 41.5px,#dadada 42.5px,#c1c1c1 43.5px,#9e9e9e 44.5px,#737373 45.5px,#4b4b4b 46.5px,#353535 47.5px,#414141 48.5px,#696969 49.5px,#9f9f9f 50.5px,#cecece 51.5px,#ebebeb 52.5px,#f9f9f9 53.5px,#fdfdfd 54.5px,#ffffff 75px}
.m2_25{--g:#ffffff 0px,#fefefe 38.5px,#fafafa 40.5px,#f6f6f6 41.5px,#ededed 42.5px,#dedede 43.5px,#c5c5c5 44.5px,#9e9e9e 45.5px,#434343 47.5px,#2e2e2e 48.5px,#3a3a3a 49.5px,#666666 50.5px,#a0a0a0 51.5px,#d0d0d0 52.5px,#ededed 53.5px,#f9f9f9 54.5px,#fefefe 55.5px,#ffffff 75px}
.m2_26{--g:#ffffff 0px,#fefefe 40.5px,#f8f8f8 42.5px,#f1f1f1 43.5px,#e3e3e3 44.5px,#c8c8c8 45.5px,#a0a0a0 46.5px,#6d6d6d 47.5px,#3d3d3d 48.5px,#232323 49.5px,#313131 50.5px,#656565 51.5px,#a3a3a3 52.5px,#d4d4d4 53.5px,#efefef 54.5px,#fafafa 55.5px,#fefefe 56.5px,#ffffff 75px}
.m2_27{--g:#ffffff 0px,#fefefe 41.5px,#fafafa 43.5px,#f4f4f4 44.5px,#e6e6e6 45.5px,#cccccc 46.5px,#a3a3a3 47.5px,#353535 49.5px,#191919 50.5px,#2d2d2d 51.5px,#656565 52.5px,#a6a6a6 53.5px,#d6d6d6 54.5px,#f1f1f1 55.5px,#fbfbfb 56.5px,#ffffff 58.5px,#ffffff 75px}
.m2_28{--g:#ffffff 0px,#fefefe 43.5px,#fcfcfc 44.5px,#f6f6f6 45.5px,#e9e9e9 46.5px,#d0d0d0 47.5px,#a4a4a4 48.5px,#303030 50.5px,#161616 51.5px,#2a2a2a 52.5px,#636363 53.5px,#a6a6a6 54.5px,#d7d7d7 55.5px,#f1f1f1 56.5px,#fbfbfb 57.5px,#ffffff 59.5px,#ffffff 75px}
.m2_29{--g:#ffffff 0px,#fefefe 44.5px,#fcfcfc 45.5px,#f8f8f8 46.5px,#ededed 47.5px,#d3d3d3 48.5px,#a7a7a7 49.5px,#2c2c2c 51.5px,#0e0e0e 52.5px,#242424 53.5px,#636363 54.5px,#a8a8a8 55.5px,#dadada 56.5px,#f2f2f2 57.5px,#fbfbfb 58.5px,#ffffff 60.5px,#ffffff 75px}
.m2_30{--g:#ffffff 0px,#fefefe 45.5px,#fafafa 47.5px,#eeeeee 48.5px,#d6d6d6 49.5px,#a9a9a9 50.5px,#272727 52.5px,#080808 53.5px,#232323 54.5px,#646464 55.5px,#aaaaaa 56.5px,#d9d9d9 57.5px,#f2f2f2 58.5px,#fcfcfc 59.5px,#ffffff 61.5px,#ffffff 75px}
.m2_31{--g:#ffffff 0px,#fefefe 47.5px,#fafafa 48.5px,#f0f0f0 49.5px,#d8d8d8 50.5px,#a9a9a9 51.5px,#262626 53.5px,#0a0a0a 54.5px,#222222 55.5px,#636363 56.5px,#a8a8a8 57.5px,#d9d9d9 58.5px,#f2f2f2 59.5px,#fbfbfb 60.5px,#ffffff 62.5px,#ffffff 75px}
.m2_32{--g:#ffffff 0px,#fefefe 48.5px,#fbfbfb 49.5px,#f2f2f2 50.5px,#d9d9d9 51.5px,#acacac 52.5px,#252525 54.5px,#050505 55.5px,#202020 56.5px,#a9a9a9 58.5px,#d9d9d9 59.5px,#f1f1f1 60.5px,#fbfbfb 61.5px,#ffffff 63.5px,#ffffff 75px}
.m2_33{--g:#ffffff 0px,#fefefe 49.5px,#fcfcfc 50.5px,#f2f2f2 51.5px,#dbdbdb 52.5px,#adadad 53.5px,#232323 55.5px,#050505 56.5px,#222222 57.5px,#a9a9a9 59.5px,#d7d7d7 60.5px,#f0f0f0 61.5px,#fafafa 62.5px,#ffffff 64.5px,#ffffff 75px}
.m2_34{--g:#ffffff 0px,#fefefe 50.5px,#fbfbfb 51.5px,#f2f2f2 52.5px,#dbdbdb 53.5px,#ababab 54.5px,#252525 56.5px,#0b0b0b 57.5px,#252525 58.5px,#a6a6a6 60.5px,#d6d6d6 61.5px,#eeeeee 62.5px,#f9f9f9 63.5px,#fdfdfd 64.5px,#ffffff 75px}
.m2_35{--g:#ffffff 0px,#fefefe 51.5px,#fcfcfc 52.5px,#f3f3f3 53.5px,#dbdbdb 54.5px,#acacac 55.5px,#686868 56.5px,#272727 57.5px,#0a0a0a 58.5px,#252525 59.5px,#a6a6a6 61.5px,#d4d4d4 62.5px,#ededed 63.5px,#f8f8f8 64.5px,#fdfdfd 65.5px,#ffffff 72.5px,#ffffff 75px}
.m2_36{--g:#ffffff 0px,#fefefe 52.5px,#fcfcfc 53.5px,#f2f2f2 54.5px,#dbdbdb 55.5px,#ababab 56.5px,#676767 57.5px,#282828 58.5px,#101010 59.5px,#2c2c2c 60.5px,#a3a3a3 62.5px,#d0d0d0 63.5px,#eaeaea 64.5px,#f6f6f6 65.5px,#fcfcfc 66.5px,#ffffff 70.5px,#ffffff 75px}
.m2_37{--g:#ffffff 0px,#fefefe 53.5px,#fbfbfb 54.5px,#f2f2f2 55.5px,#d9d9d9 56.5px,#a9a9a9 57.5px,#676767 58.5px,#2d2d2d 59.5px,#1a1a1a 60.5px,#323232 61.5px,#a1a1a1 63.5px,#cccccc 64.5px,#e6e6e6 65.5px,#f3f3f3 66.5px,#fafafa 67.5px,#ffffff 70.5px,#ffffff 75px}
.m2_38{--g:#ffffff 0px,#fefefe 54.5px,#fbfbfb 55.5px,#f1f1f1 56.5px,#d7d7d7 57.5px,#a8a8a8 58.5px,#696969 59.5px,#333333 60.5px,#1f1f1f 61.5px,#373737 62.5px,#a0a0a0 64.5px,#c8c8c8 65.5px,#e2e2e2 66.5px,#f1f1f1 67.5px,#f8f8f8 68.5px,#fdfdfd 70.5px,#ffffff 75px}
.m2_39{--g:#ffffff 0px,#fefefe 55.5px,#fbfbfb 56.5px,#efefef 57.5px,#d5d5d5 58.5px,#a6a6a6 59.5px,#6a6a6a 60.5px,#393939 61.5px,#2b2b2b 62.5px,#424242 63.5px,#9f9f9f 65.5px,#c4c4c4 66.5px,#dedede 67.5px,#ececec 68.5px,#f4f4f4 69.5px,#fbfbfb 71.5px,#fdfdfd 75px}
.m2_40{--g:#ffffff 0px,#fefefe 56.5px,#f9f9f9 57.5px,#ededed 58.5px,#d1d1d1 59.5px,#a3a3a3 60.5px,#6c6c6c 61.5px,#434343 62.5px,#3a3a3a 63.5px,#4e4e4e 64.5px,#9e9e9e 66.5px,#c0c0c0 67.5px,#d7d7d7 68.5px,#e6e6e6 69.5px,#efefef 70.5px,#f7f7f7 72.5px,#f9f9f9 75px}
.m2_41{--g:#ffffff 0px,#ffffff 56.5px,#fdfdfd 57.5px,#f9f9f9 58.5px,#ebebeb 59.5px,#cecece 60.5px,#a1a1a1 61.5px,#717171 62.5px,#4e4e4e 63.5px,#464646 64.5px,#5a5a5a 65.5px,#9f9f9f 67.5px,#bcbcbc 68.5px,#d1d1d1 69.5px,#dfdfdf 70.5px,#e8e8e8 71.5px,#f1f1f1 73.5px,#f2f2f2 75px}
.m2_42{--g:#ffffff 0px,#ffffff 57.5px,#fdfdfd 58.5px,#f7f7f7 59.5px,#e7e7e7 60.5px,#c9c9c9 61.5px,#767676 63.5px,#5b5b5b 64.5px,#585858 65.5px,#696969 66.5px,#9f9f9f 68.5px,#b7b7b7 69.5px,#c9c9c9 70.5px,#d5d5d5 71.5px,#dddddd 72.5px,#e2e2e2 73.5px,#e4e4e4 75px}
.m2_43{--g:#ffffff 0px,#fefefe 58.5px,#fcfcfc 59.5px,#f4f4f4 60.5px,#e3e3e3 61.5px,#c5c5c5 62.5px,#9f9f9f 63.5px,#7d7d7d 64.5px,#696969 65.5px,#686868 66.5px,#747474 67.5px,#9e9e9e 69.5px,#b0b0b0 70.5px,#bebebe 71.5px,#c7c7c7 72.5px,#cecece 73.5px,#d0d0d0 75px}
.m2_44{--g:#ffffff 0px,#fefefe 59.5px,#fafafa 60.5px,#f1f1f1 61.5px,#dedede 62.5px,#c1c1c1 63.5px,#a0a0a0 64.5px,#848484 65.5px,#747474 66.5px,#727272 67.5px,#7b7b7b 68.5px,#a5a5a5 71.5px,#afafaf 72.5px,#b5b5b5 73.5px,#b8b8b8 75px}
.m2_45{--g:#ffffff 0px,#ffffff 59.5px,#fdfdfd 60.5px,#f8f8f8 61.5px,#ededed 62.5px,#d8d8d8 63.5px,#a0a0a0 65.5px,#898989 66.5px,#7b7b7b 67.5px,#797979 68.5px,#7d7d7d 69.5px,#959595 72.5px,#9b9b9b 73.5px,#9e9e9e 75px}
.m2_46{--g:#ffffff 0px,#fefefe 60.5px,#fbfbfb 61.5px,#f5f5f5 62.5px,#e7e7e7 63.5px,#d2d2d2 64.5px,#9e9e9e 66.5px,#8a8a8a 67.5px,#7d7d7d 68.5px,#787878 69.5px,#787878 70.5px,#838383 75px}
.m2_47{--g:#ffffff 0px,#ffffff 60.5px,#fdfdfd 61.5px,#f9f9f9 62.5px,#f0f0f0 63.5px,#e0e0e0 64.5px,#c9c9c9 65.5px,#989898 67.5px,#858585 68.5px,#787878 69.5px,#707070 70.5px,#6b6b6b 72.5px,#6b6b6b 75px}
.m2_48{--g:#ffffff 0px,#fefefe 61.5px,#fbfbfb 62.5px,#f4f4f4 63.5px,#e8e8e8 64.5px,#d5d5d5 65.5px,#8e8e8e 68.5px,#7b7b7b 69.5px,#6d6d6d 70.5px,#636363 71.5px,#585858 73.5px,#575757 75px}
.m2_49{--g:#ffffff 0px,#fefefe 61.5px,#fcfcfc 62.5px,#f7f7f7 63.5px,#eeeeee 64.5px,#dddddd 65.5px,#c8c8c8 66.5px,#7f7f7f 69.5px,#6b6b6b 70.5px,#5c5c5c 71.5px,#515151 72.5px,#4a4a4a 73.5px,#474747 75px}
.m2_50{--g:#ffffff 0px,#fefefe 61.5px,#f9f9f9 63.5px,#f1f1f1 64.5px,#e2e2e2 65.5px,#cecece 66.5px,#828282 69.5px,#6b6b6b 70.5px,#585858 71.5px,#4a4a4a 72.5px,#414141 73.5px,#3c3c3c 75px}
.m2_51{--g:#ffffff 0px,#ffffff 61.5px,#f9f9f9 63.5px,#f2f2f2 64.5px,#e4e4e4 65.5px,#d1d1d1 66.5px,#9e9e9e 68.5px,#6b6b6b 70.5px,#575757 71.5px,#474747 72.5px,#3c3c3c 73.5px,#373737 75px}
.b0_0{--g:#b2b2b2 0px,#b4b4b4 31.5px,#bbbbbb 41.5px,#b5b5b5 45.5px,#a2a2a2 50.5px,#727272 60.5px,#646464 62.5px,#4e4e4e 64.5px,#2b2b2b 67.5px,#101010 70.5px,#050505 72.5px,#010101 75px}
.b0_1{--g:#b2b2b2 0px,#b4b4b4 31.5px,#bbbbbb 41.5px,#b5b5b5 45.5px,#a3a3a3 50.5px,#727272 60.5px,#646464 62.5px,#4e4e4e 64.5px,#2b2b2b 67.5px,#111111 70.5px,#040404 73.5px,#020202 75px}
.b0_2{--g:#b2b2b2 0px,#b4b4b4 31.5px,#bbbbbb 41.5px,#b5b5b5 45.5px,#a3a3a3 50.5px,#727272 60.5px,#646464 62.5px,#4e4e4e 64.5px,#2c2c2c 67.5px,#121212 70.5px,#050505 73.5px,#040404 75px}
.b0_3{--g:#b2b2b2 0px,#b4b4b4 31.5px,#bbbbbb 41.5px,#b5b5b5 45.5px,#a3a3a3 50.5px,#727272 60.5px,#646464 62.5px,#4f4f4f 64.5px,#2d2d2d 67.5px,#141414 70.5px,#070707 73.5px,#050505 75px}
.b0_4{--g:#b2b2b2 0px,#b4b4b4 31.5px,#bbbbbb 41.5px,#b6b6b6 45.5px,#a3a3a3 50.5px,#737373 60.5px,#646464 62.5px,#2d2d2d 67.5px,#151515 70.5px,#090909 73.5px,#070707 75px}
.b0_5{--g:#b2b2b2 0px,#b4b4b4 31.5px,#bbbbbb 41.5px,#b6b6b6 45.5px,#a4a4a4 50.5px,#737373 60.5px,#656565 62.5px,#2e2e2e 67.5px,#171717 70.5px,#0b0b0b 73.5px,#0a0a0a 75px}
.b0_6{--g:#b2b2b2 0px,#b4b4b4 31.5px,#bbbbbb 41.5px,#b6b6b6 45.5px,#a4a4a4 50.5px,#737373 60.5px,#656565 62.5px,#303030 67.5px,#1a1a1a 70.5px,#0e0e0e 73.5px,#0d0d0d 75px}
.b0_7{--g:#b2b2b2 0px,#b4b4b4 31.5px,#bbbbbb 41.5px,#b6b6b6 45.5px,#a5a5a5 50.5px,#7a7a7a 59.5px,#656565 62.5px,#3a3a3a 66.5px,#222222 69.5px,#141414 72.5px,#101010 75px}
.b0_8{--g:#b2b2b2 0px,#b4b4b4 31.5px,#bbbbbb 41.5px,#b6b6b6 45.5px,#a5a5a5 50.5px,#7a7a7a 59.5px,#656565 62.5px,#3b3b3b 66.5px,#242424 69.5px,#171717 72.5px,#141414 75px}
.b0_9{--g:#b2b2b2 0px,#b4b4b4 31.5px,#bbbbbb 42.5px,#b4b4b4 46.5px,#a2a2a2 51.5px,#7b7b7b 59.5px,#666666 62.5px,#464646 65.5px,#2d2d2d 68.5px,#1e1e1e 71.5px,#181818 75px}
.b0_10{--g:#b2b2b2 0px,#b4b4b4 31.5px,#bbbbbb 42.5px,#b5b5b5 46.5px,#a2a2a2 51.5px,#7c7c7c 59.5px,#666666 62.5px,#474747 65.5px,#303030 68.5px,#222222 71.5px,#1c1c1c 75px}
.b0_11{--g:#b2b2b2 0px,#b4b4b4 31.5px,#bbbbbb 42.5px,#b5b5b5 46.5px,#a3a3a3 51.5px,#7d7d7d 59.5px,#666666 62.5px,#484848 65.5px,#333333 68.5px,#262626 71.5px,#212121 75px}
.b0_12{--g:#b2b2b2 0px,#b4b4b4 31.5px,#bbbbbb 42.5px,#b5b5b5 46.5px,#a4a4a4 51.5px,#7d7d7d 59.5px,#707070 61.5px,#494949 65.5px,#363636 68.5px,#2a2a2a 71.5px,#262626 75px}
.b0_13{--g:#b2b2b2 0px,#b4b4b4 31.5px,#bbbbbb 42.5px,#b6b6b6 46.5px,#a5a5a5 51.5px,#848484 58.5px,#707070 61.5px,#525252 64.5px,#3e3e3e 67.5px,#313131 70.5px,#2b2b2b 75px}
.b0_14{--g:#b2b2b2 0px,#b4b4b4 31.5px,#bcbcbc 42.5px,#b6b6b6 46.5px,#a6a6a6 51.5px,#858585 58.5px,#717171 61.5px,#535353 64.5px,#414141 67.5px,#363636 70.5px,#303030 75px}
.b0_15{--g:#b2b2b2 0px,#b4b4b4 31.5px,#bcbcbc 42.5px,#b7b7b7 46.5px,#a7a7a7 51.5px,#868686 58.5px,#717171 61.5px,#545454 64.5px,#444444 67.5px,#393939 71.5px,#363636 75px}
.b0_16{--g:#b2b2b2 0px,#b4b4b4 31.5px,#bcbcbc 42.5px,#b7b7b7 46.5px,#a7a7a7 51.5px,#878787 58.5px,#727272 61.5px,#5d5d5d 63.5px,#505050 65.5px,#444444 68.5px,#3d3d3d 72.5px,#3c3c3c 75px}
.b0_17{--g:#b2b2b2 0px,#b4b4b4 31.5px,#bcbcbc 42.5px,#b8b8b8 46.5px,#a9a9a9 51.5px,#888888 58.5px,#727272 61.5px,#5e5e5e 63.5px,#4e4e4e 66.5px,#444444 70.5px,#424242 75px}
.b0_18{--g:#b2b2b2 0px,#b4b4b4 31.5px,#bcbcbc 42.5px,#b8b8b8 46.5px,#aaaaaa 51.5px,#8f8f8f 57.5px,#7c7c7c 60.5px,#5e5e5e 63.5px,#515151 66.5px,#4a4a4a 70.5px,#484848 75px}
.b0_19{--g:#b2b2b2 0px,#b4b4b4 31.5px,#bcbcbc 43.5px,#b7b7b7 47.5px,#a7a7a7 52.5px,#8a8a8a 58.5px,#737373 61.5px,#5f5f5f 63.5px,#555555 66.5px,#4f4f4f 71.5px,#4f4f4f 75px}
.b0_20{--g:#b2b2b2 0px,#b4b4b4 31.5px,#bdbdbd 43.5px,#b8b8b8 47.5px,#a8a8a8 52.5px,#919191 57.5px,#7d7d7d 60.5px,#616161 63.5px,#585858 66.5px,#555555 72.5px,#555555 75px}
.b0_21{--g:#b2b2b2 0px,#b4b4b4 31.5px,#bdbdbd 43.5px,#b6b6b6 48.5px,#a1a1a1 54.5px,#8c8c8c 58.5px,#757575 61.5px,#6a6a6a 62.5px,#636363 63.5px,#5c5c5c 66.5px,#5c5c5c 75px}
.b0_22{--g:#b2b2b2 0px,#b4b4b4 31.5px,#bdbdbd 43.5px,#b7b7b7 48.5px,#a6a6a6 53.5px,#8e8e8e 58.5px,#7f7f7f 60.5px,#6a6a6a 62.5px,#656565 63.5px,#606060 66.5px,#636363 75px}
.b0_23{--g:#b2b2b2 0px,#b4b4b4 31.5px,#bdbdbd 43.5px,#b8b8b8 48.5px,#a8a8a8 53.5px,#959595 57.5px,#7f7f7f 60.5px,#6a6a6a 62.5px,#656565 64.5px,#666666 69.5px,#6a6a6a 75px}
.b0_24{--g:#b2b2b2 0px,#b4b4b4 31.5px,#bdbdbd 44.5px,#b6b6b6 49.5px,#a5a5a5 54.5px,#909090 58.5px,#808080 60.5px,#6b6b6b 62.5px,#686868 65.5px,#717171 75px}
.b0_25{--g:#b2b2b2 0px,#b4b4b4 31.5px,#bebebe 44.5px,#b7b7b7 49.5px,#a6a6a6 54.5px,#919191 58.5px,#818181 60.5px,#6d6d6d 62.5px,#6c6c6c 65.5px,#787878 75px}
.b0_26{--g:#b2b2b2 0px,#b4b4b4 31.5px,#bebebe 44.5px,#b8b8b8 49.5px,#a8a8a8 54.5px,#929292 58.5px,#818181 60.5px,#767676 61.5px,#6f6f6f 62.5px,#727272 66.5px,#7e7e7e 73.5px,#7e7e7e 75px}
.b0_27{--g:#b2b2b2 0px,#b4b4b4 31.5px,#bfbfbf 44.5px,#b9b9b9 49.5px,#a9a9a9 54.5px,#939393 58.5px,#828282 60.5px,#777777 61.5px,#727272 62.5px,#777777 66.5px,#838383 72.5px,#858585 75px}
.b0_28{--g:#b2b2b2 0px,#b4b4b4 31.5px,#bfbfbf 44.5px,#bababa 49.5px,#aaaaaa 54.5px,#9b9b9b 57.5px,#8c8c8c 59.5px,#777777 61.5px,#757575 62.5px,#7c7c7c 66.5px,#8a8a8a 72.5px,#8c8c8c 75px}
.b0_29{--g:#b2b2b2 0px,#b4b4b4 31.5px,#bfbfbf 45.5px,#b9b9b9 50.5px,#acacac 54.5px,#9c9c9c 57.5px,#8d8d8d 59.5px,#797979 61.5px,#797979 63.5px,#909090 72.5px,#929292 75px}
.b0_30{--g:#b2b2b2 0px,#b4b4b4 31.5px,#c0c0c0 45.5px,#bababa 50.5px,#adadad 54.5px,#9e9e9e 57.5px,#8e8e8e 59.5px,#7b7b7b 61.5px,#7d7d7d 63.5px,#959595 71.5px,#999999 75px}
.b0_31{--g:#b2b2b2 0px,#b4b4b4 31.5px,#bdbdbd 41.5px,#c0c0c0 46.5px,#b8b8b8 51.5px,#aaaaaa 55.5px,#989898 58.5px,#848484 60.5px,#7e7e7e 61.5px,#888888 65.5px,#9b9b9b 71.5px,#9f9f9f 75px}
.b0_32{--g:#b2b2b2 0px,#b4b4b4 31.5px,#bcbcbc 40.5px,#c0c0c0 46.5px,#bababa 51.5px,#ababab 55.5px,#989898 58.5px,#848484 60.5px,#808080 61.5px,#919191 66.5px,#a1a1a1 71.5px,#a5a5a5 75px}
.b0_33{--g:#b2b2b2 0px,#b4b4b4 31.5px,#bcbcbc 40.5px,#c1c1c1 46.5px,#bbbbbb 51.5px,#adadad 55.5px,#999999 58.5px,#868686 60.5px,#848484 61.5px,#a5a5a5 70.5px,#ababab 75px}
.b0_34{--g:#b2b2b2 0px,#b4b4b4 31.5px,#bcbcbc 40.5px,#c1c1c1 46.5px,#bebebe 50.5px,#b3b3b3 54.5px,#a2a2a2 57.5px,#888888 60.5px,#888888 61.5px,#ababab 70.5px,#b1b1b1 75px}
.b0_35{--g:#b2b2b2 0px,#b5b5b5 32.5px,#bfbfbf 42.5px,#c2c2c2 47.5px,#bdbdbd 51.5px,#afafaf 55.5px,#9b9b9b 58.5px,#898989 60.5px,#949494 63.5px,#adadad 69.5px,#b5b5b5 73.5px,#b6b6b6 75px}
.b0_36{--g:#b2b2b2 0px,#b5b5b5 32.5px,#bebebe 41.5px,#c3c3c3 47.5px,#bebebe 51.5px,#b5b5b5 54.5px,#a4a4a4 57.5px,#929292 59.5px,#8c8c8c 60.5px,#b2b2b2 69.5px,#bbbbbb 73.5px,#bbbbbb 75px}
.b0_37{--g:#b2b2b2 0px,#b5b5b5 32.5px,#bebebe 41.5px,#c3c3c3 47.5px,#bfbfbf 51.5px,#b6b6b6 54.5px,#a5a5a5 57.5px,#929292 59.5px,#909090 60.5px,#b8b8b8 69.5px,#c0c0c0 73.5px,#c1c1c1 75px}
.b0_38{--g:#b2b2b2 0px,#b5b5b5 32.5px,#bebebe 41.5px,#c4c4c4 47.5px,#c0c0c0 51.5px,#b8b8b8 54.5px,#adadad 56.5px,#9d9d9d 58.5px,#939393 59.5px,#989898 61.5px,#b9b9b9 68.5px,#c3c3c3 72.5px,#c5c5c5 75px}
.b0_39{--g:#b2b2b2 0px,#b5b5b5 32.5px,#bebebe 41.5px,#c4c4c4 47.5px,#c1c1c1 51.5px,#b9b9b9 54.5px,#aeaeae 56.5px,#959595 59.5px,#bebebe 68.5px,#c8c8c8 72.5px,#cacaca 75px}
.b0_40{--g:#b2b2b2 0px,#b5b5b5 32.5px,#bebebe 41.5px,#c5c5c5 48.5px,#c0c0c0 52.5px,#b5b5b5 55.5px,#a8a8a8 57.5px,#9e9e9e 58.5px,#999999 59.5px,#c3c3c3 68.5px,#cccccc 72.5px,#cecece 75px}
.b0_41{--g:#b2b2b2 0px,#b5b5b5 32.5px,#bebebe 41.5px,#c6c6c6 48.5px,#c2c2c2 52.5px,#b6b6b6 55.5px,#a8a8a8 57.5px,#9e9e9e 58.5px,#9c9c9c 59.5px,#c3c3c3 67.5px,#cfcfcf 71.5px,#d2d2d2 75px}
.b0_42{--g:#b2b2b2 0px,#b5b5b5 32.5px,#bcbcbc 40.5px,#c6c6c6 48.5px,#c3c3c3 52.5px,#b7b7b7 55.5px,#a9a9a9 57.5px,#9f9f9f 58.5px,#a1a1a1 59.5px,#c7c7c7 67.5px,#d3d3d3 71.5px,#d6d6d6 75px}
.b0_43{--g:#b2b2b2 0px,#b5b5b5 32.5px,#bcbcbc 40.5px,#c7c7c7 48.5px,#c4c4c4 52.5px,#b8b8b8 55.5px,#a2a2a2 58.5px,#aaaaaa 60.5px,#c8c8c8 66.5px,#d4d4d4 70.5px,#d9d9d9 75px}
.b0_44{--g:#b2b2b2 0px,#b5b5b5 32.5px,#bcbcbc 40.5px,#c7c7c7 48.5px,#c5c5c5 52.5px,#b9b9b9 55.5px,#aaaaaa 57.5px,#a5a5a5 58.5px,#cfcfcf 67.5px,#dadada 71.5px,#dcdcdc 75px}
.b0_45{--g:#b3b3b3 0px,#b5b5b5 32.5px,#bcbcbc 40.5px,#c8c8c8 48.5px,#c6c6c6 52.5px,#bababa 55.5px,#aaaaaa 57.5px,#a8a8a8 58.5px,#cfcfcf 66.5px,#dbdbdb 70.5px,#dfdfdf 75px}
.b0_46{--g:#b3b3b3 0px,#b5b5b5 32.5px,#bcbcbc 40.5px,#c9c9c9 48.5px,#c8c8c8 51.5px,#c0c0c0 54.5px,#b4b4b4 56.5px,#acacac 57.5px,#acacac 58.5px,#d3d3d3 66.5px,#dedede 70.5px,#e2e2e2 75px}
.b0_47{--g:#b3b3b3 0px,#b5b5b5 32.5px,#bcbcbc 40.5px,#cacaca 49.5px,#c8c8c8 52.5px,#c1c1c1 54.5px,#aeaeae 57.5px,#b5b5b5 59.5px,#d2d2d2 65.5px,#dfdfdf 69.5px,#e5e5e5 75px}
.b0_48{--g:#b3b3b3 0px,#b5b5b5 32.5px,#bcbcbc 40.5px,#cacaca 49.5px,#c9c9c9 52.5px,#c2c2c2 54.5px,#b0b0b0 57.5px,#d6d6d6 65.5px,#e3e3e3 70.5px,#e7e7e7 75px}
.b0_49{--g:#b3b3b3 0px,#b5b5b5 32.5px,#bcbcbc 40.5px,#cbcbcb 49.5px,#c9c9c9 52.5px,#c3c3c3 54.5px,#b6b6b6 56.5px,#b3b3b3 57.5px,#d9d9d9 65.5px,#e6e6e6 70.5px,#e9e9e9 75px}
.b0_50{--g:#b3b3b3 0px,#b5b5b5 32.5px,#bcbcbc 40.5px,#cccccc 49.5px,#cacaca 52.5px,#c4c4c4 54.5px,#b6b6b6 56.5px,#b7b7b7 57.5px,#dcdcdc 65.5px,#e8e8e8 70.5px,#ebebeb 75px}
.b0_51{--g:#b3b3b3 0px,#b5b5b5 32.5px,#bcbcbc 40.5px,#cccccc 49.5px,#cbcbcb 52.5px,#c5c5c5 54.5px,#b7b7b7 56.5px,#dedede 65.5px,#eaeaea 70.5px,#ededed 75px}
.b0_52{--g:#b3b3b3 0px,#b5b5b5 32.5px,#bcbcbc 40.5px,#cdcdcd 49.5px,#cccccc 52.5px,#c5c5c5 54.5px,#b9b9b9 56.5px,#dedede 64.5px,#eaeaea 69.5px,#efefef 75px}
.b0_53{--g:#b3b3b3 0px,#b5b5b5 32.5px,#bcbcbc 40.5px,#cdcdcd 49.5px,#cdcdcd 52.5px,#c6c6c6 54.5px,#bfbfbf 55.5px,#bdbdbd 56.5px,#e0e0e0 64.5px,#ececec 69.5px,#f0f0f0 75px}
.b0_54{--g:#b3b3b3 0px,#b5b5b5 32.5px,#bcbcbc 40.5px,#cfcfcf 50.5px,#cbcbcb 53.5px,#c0c0c0 55.5px,#c0c0c0 56.5px,#dfdfdf 63.5px,#ececec 68.5px,#f1f1f1 75px}
.b0_55{--g:#b3b3b3 0px,#b5b5b5 32.5px,#bcbcbc 40.5px,#cfcfcf 50.5px,#cccccc 53.5px,#c1c1c1 55.5px,#c7c7c7 57.5px,#e1e1e1 63.5px,#eeeeee 68.5px,#f3f3f3 75px}
.b0_56{--g:#b4b4b4 0px,#b6b6b6 33.5px,#bcbcbc 40.5px,#d0d0d0 50.5px,#cdcdcd 53.5px,#c3c3c3 55.5px,#d3d3d3 59.5px,#e6e6e6 64.5px,#f1f1f1 69.5px,#f4f4f4 75px}
.b0_57{--g:#b4b4b4 0px,#b6b6b6 33.5px,#bcbcbc 40.5px,#d0d0d0 50.5px,#d0d0d0 52.5px,#c5c5c5 55.5px,#e5e5e5 63.5px,#f0f0f0 68.5px,#f5f5f5 75px}
.b0_58{--g:#b4b4b4 0px,#b6b6b6 33.5px,#bcbcbc 40.5px,#d1d1d1 50.5px,#d0d0d0 52.5px,#cecece 53.5px,#c9c9c9 54.5px,#c7c7c7 55.5px,#e7e7e7 63.5px,#f2f2f2 68.5px,#f6f6f6 75px}
.b0_59{--g:#b4b4b4 0px,#b6b6b6 33.5px,#bcbcbc 40.5px,#d1d1d1 50.5px,#d1d1d1 52.5px,#c9c9c9 54.5px,#c9c9c9 55.5px,#e6e6e6 62.5px,#f1f1f1 67.5px,#f6f6f6 75px}
.b0_60{--g:#b4b4b4 0px,#b6b6b6 33.5px,#bcbcbc 40.5px,#d2d2d2 50.5px,#d2d2d2 52.5px,#cbcbcb 54.5px,#cbcbcb 55.5px,#e7e7e7 62.5px,#f2f2f2 67.5px,#f7f7f7 75px}
.b0_61{--g:#b4b4b4 0px,#b6b6b6 33.5px,#bcbcbc 40.5px,#d2d2d2 50.5px,#d2d2d2 52.5px,#cccccc 54.5px,#d6d6d6 57.5px,#ececec 63.5px,#f6f6f6 69.5px,#f8f8f8 75px}
.b0_62{--g:#b5b5b5 0px,#b7b7b7 34.5px,#bcbcbc 40.5px,#d2d2d2 50.5px,#d3d3d3 52.5px,#cccccc 54.5px,#eaeaea 62.5px,#f5f5f5 68.5px,#f8f8f8 75px}
.b0_63{--g:#b5b5b5 0px,#b7b7b7 34.5px,#bcbcbc 40.5px,#d4d4d4 51.5px,#d1d1d1 53.5px,#cecece 54.5px,#e8e8e8 61.5px,#f4f4f4 66.5px,#f9f9f9 75px}
.b0_64{--g:#b5b5b5 0px,#b7b7b7 34.5px,#bcbcbc 40.5px,#d4d4d4 51.5px,#d0d0d0 54.5px,#eaeaea 61.5px,#f6f6f6 67.5px,#f9f9f9 75px}
.b0_65{--g:#b6b6b6 0px,#b8b8b8 35.5px,#bebebe 41.5px,#d5d5d5 51.5px,#d1d1d1 54.5px,#ebebeb 61.5px,#f6f6f6 67.5px,#fafafa 75px}
.b0_66{--g:#b6b6b6 0px,#b8b8b8 35.5px,#bebebe 41.5px,#d5d5d5 51.5px,#d5d5d5 52.5px,#d2d2d2 53.5px,#d7d7d7 55.5px,#ececec 61.5px,#f7f7f7 67.5px,#fafafa 75px}
.b0_67{--g:#b6b6b6 0px,#b9b9b9 36.5px,#bebebe 41.5px,#d6d6d6 51.5px,#d5d5d5 52.5px,#d2d2d2 53.5px,#ededed 61.5px,#f7f7f7 67.5px,#fafafa 75px}
.b0_68{--g:#b7b7b7 0px,#b9b9b9 36.5px,#bebebe 41.5px,#d6d6d6 51.5px,#d6d6d6 52.5px,#d2d2d2 53.5px,#eeeeee 61.5px,#f8f8f8 67.5px,#fbfbfb 75px}
.b0_69{--g:#b7b7b7 0px,#b9b9b9 37.5px,#c0c0c0 42.5px,#d6d6d6 51.5px,#d3d3d3 53.5px,#ececec 60.5px,#f7f7f7 66.5px,#fbfbfb 75px}
.b0_70{--g:#b8b8b8 0px,#b9b9b9 37.5px,#c0c0c0 42.5px,#d7d7d7 51.5px,#d5d5d5 53.5px,#ededed 60.5px,#f8f8f8 66.5px,#fbfbfb 75px}
.b0_71{--g:#b8b8b8 0px,#bababa 38.5px,#c5c5c5 44.5px,#d7d7d7 51.5px,#d6d6d6 53.5px,#eeeeee 60.5px,#f8f8f8 66.5px,#fbfbfb 75px}
.b0_72{--g:#b9b9b9 0px,#bababa 38.5px,#c5c5c5 44.5px,#d7d7d7 51.5px,#d7d7d7 53.5px,#eeeeee 60.5px,#f8f8f8 66.5px,#fcfcfc 75px}
.b0_73{--g:#bababa 0px,#bbbbbb 39.5px,#cacaca 46.5px,#d8d8d8 51.5px,#d8d8d8 53.5px,#efefef 60.5px,#f9f9f9 66.5px,#fcfcfc 75px}
.b0_74{--g:#bbbbbb 0px,#bbbbbb 39.5px,#cacaca 46.5px,#d8d8d8 51.5px,#dadada 53.5px,#f0f0f0 60.5px,#f9f9f9 66.5px,#fcfcfc 75px}
.b0_75{--g:#bcbcbc 0px,#bbbbbb 39.5px,#c7c7c7 45.5px,#d9d9d9 51.5px,#dbdbdb 53.5px,#f1f1f1 60.5px,#fafafa 66.5px,#fcfcfc 75px}
.b0_76{--g:#bebebe 0px,#bcbcbc 37.5px,#bcbcbc 40.5px,#cdcdcd 47.5px,#d9d9d9 51.5px,#dddddd 53.5px,#f0f0f0 59.5px,#f9f9f9 65.5px,#fdfdfd 75px}
.b0_77{--g:#c0c0c0 0px,#bdbdbd 35.5px,#bcbcbc 40.5px,#cdcdcd 47.5px,#d9d9d9 51.5px,#dddddd 53.5px,#f0f0f0 59.5px,#fafafa 65.5px,#fdfdfd 75px}
.b0_78{--g:#c1c1c1 0px,#bebebe 34.5px,#bcbcbc 40.5px,#cdcdcd 47.5px,#d9d9d9 51.5px,#e1e1e1 54.5px,#f3f3f3 60.5px,#fbfbfb 67.5px,#fdfdfd 75px}
.b0_79{--g:#c2c2c2 0px,#bfbfbf 33.5px,#bcbcbc 40.5px,#cdcdcd 47.5px,#f3f3f3 60.5px,#fbfbfb 67.5px,#fdfdfd 75px}
.b0_80{--g:#c3c3c3 0px,#c1c1c1 32.5px,#bdbdbd 40.5px,#cacaca 46.5px,#f1f1f1 59.5px,#fafafa 65.5px,#fdfdfd 75px}
.b0_81{--g:#c4c4c4 0px,#c2c2c2 32.5px,#bdbdbd 40.5px,#cacaca 46.5px,#f1f1f1 59.5px,#fafafa 65.5px,#fdfdfd 75px}
.b0_82{--g:#c5c5c5 0px,#c3c3c3 31.5px,#bdbdbd 40.5px,#cacaca 46.5px,#f2f2f2 59.5px,#fafafa 65.5px,#fdfdfd 75px}
.b0_83{--g:#c7c7c7 0px,#c5c5c5 31.5px,#bdbdbd 40.5px,#c7c7c7 45.5px,#f2f2f2 59.5px,#fafafa 65.5px,#fdfdfd 75px}
.b0_84{--g:#c8c8c8 0px,#c6c6c6 30.5px,#bdbdbd 40.5px,#c7c7c7 45.5px,#f2f2f2 59.5px,#fbfbfb 66.5px,#fdfdfd 75px}
.b0_85{--g:#cacaca 0px,#c8c8c8 30.5px,#bfbfbf 39.5px,#bebebe 41.5px,#d1d1d1 48.5px,#f2f2f2 59.5px,#fbfbfb 66.5px,#fdfdfd 75px}
.b0_86{--g:#cbcbcb 0px,#c9c9c9 30.5px,#c0c0c0 39.5px,#bebebe 41.5px,#cdcdcd 47.5px,#f0f0f0 58.5px,#fafafa 64.5px,#fdfdfd 75px}
.b0_87{--g:#cdcdcd 0px,#cacaca 30.5px,#c1c1c1 39.5px,#bebebe 41.5px,#cdcdcd 47.5px,#f0f0f0 58.5px,#fafafa 64.5px,#fdfdfd 75px}
.b0_88{--g:#cecece 0px,#cccccc 29.5px,#c4c4c4 38.5px,#bebebe 41.5px,#cdcdcd 47.5px,#f0f0f0 58.5px,#fafafa 64.5px,#fdfdfd 75px}
.b0_89{--g:#d0d0d0 0px,#cecece 29.5px,#c7c7c7 37.5px,#bfbfbf 41.5px,#cacaca 46.5px,#f0f0f0 58.5px,#fafafa 64.5px,#fdfdfd 75px}
.b0_90{--g:#d2d2d2 0px,#d0d0d0 29.5px,#c8c8c8 37.5px,#c0c0c0 41.5px,#c2c2c2 43.5px,#e1e1e1 53.5px,#f3f3f3 59.5px,#fbfbfb 66.5px,#fdfdfd 75px}
.b0_91{--g:#d4d4d4 0px,#d1d1d1 29.5px,#c9c9c9 37.5px,#c0c0c0 42.5px,#d4d4d4 49.5px,#f0f0f0 58.5px,#fafafa 64.5px,#fdfdfd 75px}
.b0_92{--g:#d5d5d5 0px,#d3d3d3 29.5px,#cbcbcb 37.5px,#c0c0c0 42.5px,#d4d4d4 49.5px,#f1f1f1 58.5px,#fafafa 64.5px,#fdfdfd 75px}
.b0_93{--g:#d7d7d7 0px,#d5d5d5 29.5px,#cccccc 37.5px,#c1c1c1 42.5px,#cdcdcd 47.5px,#f1f1f1 58.5px,#fafafa 64.5px,#fdfdfd 75px}
.b0_94{--g:#d9d9d9 0px,#d7d7d7 29.5px,#cecece 37.5px,#c2c2c2 42.5px,#c5c5c5 44.5px,#f1f1f1 58.5px,#fafafa 64.5px,#fdfdfd 75px}
.b0_95{--g:#dbdbdb 0px,#d8d8d8 29.5px,#d0d0d0 37.5px,#c3c3c3 42.5px,#c2c2c2 43.5px,#dedede 52.5px,#f1f1f1 58.5px,#fafafa 64.5px,#fdfdfd 75px}
.b0_96{--g:#dddddd 0px,#dadada 29.5px,#d2d2d2 37.5px,#c3c3c3 43.5px,#d8d8d8 50.5px,#f1f1f1 58.5px,#fafafa 64.5px,#fdfdfd 75px}
.b0_97{--g:#dedede 0px,#dcdcdc 29.5px,#d5d5d5 36.5px,#c9c9c9 41.5px,#c3c3c3 43.5px,#d1d1d1 48.5px,#f1f1f1 58.5px,#fafafa 64.5px,#fdfdfd 75px}
.b0_98{--g:#e0e0e0 0px,#dedede 29.5px,#d7d7d7 36.5px,#cbcbcb 41.5px,#c4c4c4 43.5px,#cacaca 46.5px,#f1f1f1 58.5px,#fafafa 64.5px,#fdfdfd 75px}
.b0_99{--g:#e2e2e2 0px,#e0e0e0 29.5px,#d9d9d9 36.5px,#cdcdcd 41.5px,#c5c5c5 43.5px,#c5c5c5 44.5px,#f1f1f1 58.5px,#fafafa 64.5px,#fdfdfd 75px}
.b0_100{--g:#e4e4e4 0px,#e1e1e1 29.5px,#dbdbdb 36.5px,#cecece 41.5px,#c5c5c5 44.5px,#f1f1f1 58.5px,#fafafa 64.5px,#fdfdfd 75px}
.b0_101{--g:#e5e5e5 0px,#e3e3e3 29.5px,#dddddd 36.5px,#d0d0d0 41.5px,#c5c5c5 44.5px,#e2e2e2 53.5px,#f3f3f3 59.5px,#fcfcfc 66.5px,#fdfdfd 75px}
.b0_102{--g:#e7e7e7 0px,#e5e5e5 29.5px,#dddddd 37.5px,#cfcfcf 42.5px,#c6c6c6 44.5px,#cdcdcd 47.5px,#efefef 57.5px,#f9f9f9 63.5px,#fdfdfd 75px}
.b0_103{--g:#e9e9e9 0px,#e6e6e6 29.5px,#dedede 37.5px,#d1d1d1 42.5px,#c8c8c8 44.5px,#c7c7c7 45.5px,#efefef 57.5px,#f9f9f9 63.5px,#fdfdfd 75px}
.b0_104{--g:#eaeaea 0px,#e8e8e8 29.5px,#e0e0e0 37.5px,#d3d3d3 42.5px,#c7c7c7 45.5px,#efefef 57.5px,#f9f9f9 63.5px,#fdfdfd 75px}
.b0_105{--g:#ececec 0px,#e9e9e9 30.5px,#e2e2e2 37.5px,#d5d5d5 42.5px,#c8c8c8 45.5px,#dbdbdb 51.5px,#f1f1f1 58.5px,#fafafa 64.5px,#fdfdfd 75px}
.b0_106{--g:#ededed 0px,#ebebeb 30.5px,#e4e4e4 37.5px,#d7d7d7 42.5px,#cacaca 45.5px,#cacaca 46.5px,#efefef 57.5px,#f9f9f9 63.5px,#fdfdfd 75px}
.b0_107{--g:#eeeeee 0px,#ececec 30.5px,#e6e6e6 37.5px,#d9d9d9 42.5px,#cccccc 45.5px,#cacaca 46.5px,#efefef 57.5px,#f9f9f9 63.5px,#fdfdfd 75px}
.b0_108{--g:#f0f0f0 0px,#eeeeee 30.5px,#e6e6e6 38.5px,#d7d7d7 43.5px,#cbcbcb 46.5px,#f1f1f1 58.5px,#fafafa 64.5px,#fdfdfd 75px}
.b0_109{--g:#f1f1f1 0px,#efefef 30.5px,#e7e7e7 38.5px,#d9d9d9 43.5px,#cccccc 46.5px,#d4d4d4 49.5px,#efefef 57.5px,#f9f9f9 63.5px,#fdfdfd 75px}
.b0_110{--g:#f2f2f2 0px,#f0f0f0 31.5px,#e9e9e9 38.5px,#dbdbdb 43.5px,#cdcdcd 46.5px,#cdcdcd 47.5px,#efefef 57.5px,#f9f9f9 63.5px,#fdfdfd 75px}
.b0_111{--g:#f3f3f3 0px,#f1f1f1 31.5px,#eaeaea 38.5px,#dddddd 43.5px,#cfcfcf 46.5px,#cdcdcd 47.5px,#efefef 57.5px,#f9f9f9 63.5px,#fdfdfd 75px}
.b0_112{--g:#f4f4f4 0px,#f2f2f2 31.5px,#ececec 38.5px,#dfdfdf 43.5px,#cecece 47.5px,#efefef 57.5px,#f9f9f9 63.5px,#fdfdfd 75px}
.b0_113{--g:#f5f5f5 0px,#f3f3f3 32.5px,#ececec 39.5px,#e1e1e1 43.5px,#cecece 47.5px,#f1f1f1 58.5px,#fafafa 64.5px,#fdfdfd 75px}
.b0_114{--g:#f6f6f6 0px,#f4f4f4 32.5px,#ededed 39.5px,#dfdfdf 44.5px,#d1d1d1 47.5px,#d1d1d1 48.5px,#efefef 57.5px,#f9f9f9 63.5px,#fdfdfd 75px}
.b0_115{--g:#f7f7f7 0px,#f5f5f5 32.5px,#eeeeee 39.5px,#e1e1e1 44.5px,#d3d3d3 47.5px,#d1d1d1 48.5px,#efefef 57.5px,#f9f9f9 63.5px,#fdfdfd 75px}
.b0_116{--g:#f7f7f7 0px,#f5f5f5 32.5px,#eeeeee 40.5px,#e3e3e3 44.5px,#d1d1d1 48.5px,#efefef 57.5px,#f9f9f9 63.5px,#fdfdfd 75px}
.b0_117{--g:#f8f8f8 0px,#f6f6f6 33.5px,#efefef 40.5px,#e5e5e5 44.5px,#d3d3d3 48.5px,#d8d8d8 50.5px,#efefef 57.5px,#f9f9f9 63.5px,#fdfdfd 75px}
.b0_118{--g:#f9f9f9 0px,#f6f6f6 33.5px,#f0f0f0 40.5px,#e6e6e6 44.5px,#d4d4d4 48.5px,#d4d4d4 49.5px,#efefef 57.5px,#f9f9f9 63.5px,#fdfdfd 75px}
.b0_119{--g:#f9f9f9 0px,#f7f7f7 33.5px,#f1f1f1 40.5px,#e4e4e4 45.5px,#d6d6d6 48.5px,#d4d4d4 49.5px,#efefef 57.5px,#f9f9f9 63.5px,#fdfdfd 75px}
.b0_120{--g:#fafafa 0px,#f7f7f7 34.5px,#f1f1f1 41.5px,#e6e6e6 45.5px,#d5d5d5 49.5px,#f1f1f1 58.5px,#fafafa 64.5px,#fdfdfd 75px}
.b0_121{--g:#fafafa 0px,#f8f8f8 34.5px,#f2f2f2 41.5px,#e7e7e7 45.5px,#d6d6d6 49.5px,#f1f1f1 58.5px,#fafafa 64.5px,#fdfdfd 75px}
.b0_122{--g:#fbfbfb 0px,#f9f9f9 34.5px,#f2f2f2 41.5px,#e9e9e9 45.5px,#d6d6d6 49.5px,#dbdbdb 51.5px,#f1f1f1 58.5px,#fafafa 64.5px,#fdfdfd 75px}
.b0_123{--g:#fbfbfb 0px,#f9f9f9 35.5px,#f2f2f2 42.5px,#e7e7e7 46.5px,#d8d8d8 49.5px,#d8d8d8 50.5px,#efefef 57.5px,#f9f9f9 63.5px,#fdfdfd 75px}
.b0_124{--g:#fbfbfb 0px,#f9f9f9 35.5px,#f2f2f2 42.5px,#e8e8e8 46.5px,#dadada 49.5px,#d8d8d8 50.5px,#efefef 57.5px,#f9f9f9 63.5px,#fdfdfd 75px}
.b0_125{--g:#fcfcfc 0px,#fafafa 35.5px,#f3f3f3 42.5px,#e9e9e9 46.5px,#d8d8d8 50.5px,#efefef 57.5px,#f9f9f9 63.5px,#fdfdfd 75px}
.b0_126{--g:#fcfcfc 0px,#fafafa 36.5px,#f2f2f2 43.5px,#e7e7e7 47.5px,#d8d8d8 50.5px,#efefef 57.5px,#f9f9f9 63.5px,#fdfdfd 75px}
.b0_127{--g:#fcfcfc 0px,#fafafa 36.5px,#f3f3f3 43.5px,#e8e8e8 47.5px,#d9d9d9 50.5px,#f1f1f1 58.5px,#fafafa 64.5px,#fdfdfd 75px}
.b0_128{--g:#fcfcfc 0px,#fafafa 36.5px,#f4f4f4 43.5px,#e9e9e9 47.5px,#dadada 50.5px,#dfdfdf 52.5px,#f1f1f1 58.5px,#fafafa 64.5px,#fdfdfd 75px}
.b0_129{--g:#fcfcfc 0px,#fafafa 36.5px,#f4f4f4 43.5px,#eaeaea 47.5px,#dcdcdc 50.5px,#dbdbdb 51.5px,#f1f1f1 58.5px,#fafafa 64.5px,#fdfdfd 75px}
.b0_130{--g:#fdfdfd 0px,#fafafa 37.5px,#f3f3f3 44.5px,#e7e7e7 48.5px,#dddddd 50.5px,#dbdbdb 51.5px,#f1f1f1 58.5px,#fafafa 64.5px,#fdfdfd 75px}
.b0_131{--g:#fdfdfd 0px,#fbfbfb 37.5px,#f4f4f4 44.5px,#e8e8e8 48.5px,#dbdbdb 51.5px,#f1f1f1 58.5px,#fafafa 64.5px,#fdfdfd 75px}
.b0_132{--g:#fdfdfd 0px,#fbfbfb 37.5px,#f4f4f4 44.5px,#e9e9e9 48.5px,#dcdcdc 51.5px,#f1f1f1 58.5px,#fafafa 64.5px,#fdfdfd 75px}
.b0_133{--g:#fdfdfd 0px,#fbfbfb 37.5px,#f5f5f5 44.5px,#ebebeb 48.5px,#dddddd 51.5px,#f3f3f3 59.5px,#fcfcfc 66.5px,#fdfdfd 75px}
.b0_134{--g:#fdfdfd 0px,#fbfbfb 38.5px,#f4f4f4 45.5px,#e8e8e8 49.5px,#dedede 51.5px,#dfdfdf 52.5px,#f1f1f1 58.5px,#fafafa 64.5px,#fdfdfd 75px}
.b0_135{--g:#fdfdfd 0px,#fbfbfb 38.5px,#f4f4f4 45.5px,#e9e9e9 49.5px,#dfdfdf 51.5px,#dfdfdf 52.5px,#f1f1f1 58.5px,#fafafa 64.5px,#fdfdfd 75px}
.b1_0{--g:#c9c9c9 0px,#cbcbcb 28.5px,#cccccc 34.5px,#c5c5c5 37.5px,#bababa 39.5px,#a8a8a8 41.5px,#8f8f8f 43.5px,#434343 48.5px,#2d2d2d 50.5px,#1d1d1d 52.5px,#151515 54.5px,#141414 56.5px,#1c1c1c 58.5px,#2b2b2b 60.5px,#515151 64.5px,#575757 65.5px,#595959 66.5px,#565656 67.5px,#4b4b4b 68.5px,#272727 70.5px,#181818 71.5px,#0c0c0c 72.5px,#040404 73.5px,#010101 75px}
.b1_1{--g:#c9c9c9 0px,#cbcbcb 28.5px,#cccccc 34.5px,#c5c5c5 37.5px,#bababa 39.5px,#a8a8a8 41.5px,#8f8f8f 43.5px,#444444 48.5px,#2d2d2d 50.5px,#1f1f1f 52.5px,#171717 54.5px,#161616 56.5px,#1d1d1d 58.5px,#2b2b2b 60.5px,#515151 64.5px,#575757 65.5px,#595959 66.5px,#565656 67.5px,#4c4c4c 68.5px,#272727 70.5px,#181818 71.5px,#0d0d0d 72.5px,#050505 73.5px,#010101 75px}
.b1_2{--g:#c9c9c9 0px,#cbcbcb 28.5px,#cccccc 34.5px,#c5c5c5 37.5px,#bababa 39.5px,#a8a8a8 41.5px,#909090 43.5px,#454545 48.5px,#2e2e2e 50.5px,#202020 52.5px,#191919 54.5px,#181818 56.5px,#1e1e1e 58.5px,#2c2c2c 60.5px,#525252 64.5px,#585858 65.5px,#5a5a5a 66.5px,#575757 67.5px,#4c4c4c 68.5px,#282828 70.5px,#191919 71.5px,#0e0e0e 72.5px,#070707 73.5px,#030303 75px}
.b1_3{--g:#c9c9c9 0px,#cbcbcb 28.5px,#cccccc 34.5px,#c5c5c5 37.5px,#bababa 39.5px,#a9a9a9 41.5px,#909090 43.5px,#464646 48.5px,#313131 50.5px,#232323 52.5px,#1b1b1b 54.5px,#1a1a1a 56.5px,#212121 58.5px,#2f2f2f 60.5px,#535353 64.5px,#595959 65.5px,#5a5a5a 66.5px,#575757 67.5px,#4c4c4c 68.5px,#282828 70.5px,#1a1a1a 71.5px,#101010 72.5px,#090909 73.5px,#050505 75px}
.b1_4{--g:#c9c9c9 0px,#cbcbcb 28.5px,#cccccc 34.5px,#c5c5c5 37.5px,#bbbbbb 39.5px,#aaaaaa 41.5px,#919191 43.5px,#565656 47.5px,#3d3d3d 49.5px,#2c2c2c 51.5px,#222222 53.5px,#1e1e1e 55.5px,#212121 57.5px,#2b2b2b 59.5px,#444444 62.5px,#555555 64.5px,#5a5a5a 65.5px,#5b5b5b 66.5px,#575757 67.5px,#4c4c4c 68.5px,#2a2a2a 70.5px,#1d1d1d 71.5px,#131313 72.5px,#0c0c0c 73.5px,#090909 75px}
.b1_5{--g:#c9c9c9 0px,#cbcbcb 28.5px,#cdcdcd 34.5px,#c6c6c6 37.5px,#bbbbbb 39.5px,#aaaaaa 41.5px,#939393 43.5px,#4c4c4c 48.5px,#383838 50.5px,#2a2a2a 52.5px,#242424 54.5px,#232323 56.5px,#292929 58.5px,#3e3e3e 61.5px,#575757 64.5px,#5c5c5c 65.5px,#5c5c5c 66.5px,#585858 67.5px,#4c4c4c 68.5px,#2b2b2b 70.5px,#1f1f1f 71.5px,#161616 72.5px,#101010 73.5px,#0d0d0d 75px}
.b1_6{--g:#c9c9c9 0px,#cbcbcb 28.5px,#cdcdcd 34.5px,#c6c6c6 37.5px,#bcbcbc 39.5px,#ababab 41.5px,#878787 44.5px,#5c5c5c 47.5px,#454545 49.5px,#353535 51.5px,#2c2c2c 53.5px,#282828 55.5px,#2b2b2b 57.5px,#343434 59.5px,#5a5a5a 64.5px,#5e5e5e 65.5px,#5e5e5e 66.5px,#595959 67.5px,#4d4d4d 68.5px,#2d2d2d 70.5px,#222222 71.5px,#151515 73.5px,#121212 75px}
.b1_7{--g:#c9c9c9 0px,#cbcbcb 28.5px,#cdcdcd 34.5px,#c6c6c6 37.5px,#bcbcbc 39.5px,#acacac 41.5px,#898989 44.5px,#545454 48.5px,#424242 50.5px,#363636 52.5px,#303030 54.5px,#303030 56.5px,#353535 58.5px,#474747 61.5px,#5c5c5c 64.5px,#606060 65.5px,#606060 66.5px,#5a5a5a 67.5px,#4d4d4d 68.5px,#3d3d3d 69.5px,#303030 70.5px,#1f1f1f 72.5px,#181818 75px}
.b1_8{--g:#c9c9c9 0px,#cbcbcb 28.5px,#cdcdcd 34.5px,#c7c7c7 37.5px,#bdbdbd 39.5px,#aeaeae 41.5px,#8c8c8c 44.5px,#595959 48.5px,#474747 50.5px,#393939 53.5px,#363636 55.5px,#3c3c3c 58.5px,#464646 60.5px,#606060 64.5px,#626262 65.5px,#616161 66.5px,#5b5b5b 67.5px,#3e3e3e 69.5px,#333333 70.5px,#252525 72.5px,#202020 75px}
.b1_9{--g:#c9c9c9 0px,#cbcbcb 28.5px,#cdcdcd 34.5px,#c7c7c7 37.5px,#b7b7b7 40.5px,#a6a6a6 42.5px,#5f5f5f 48.5px,#4e4e4e 50.5px,#414141 53.5px,#3f3f3f 56.5px,#474747 59.5px,#636363 64.5px,#656565 65.5px,#636363 66.5px,#5c5c5c 67.5px,#404040 69.5px,#303030 71.5px,#292929 73.5px,#272727 75px}
.b1_10{--g:#c9c9c9 0px,#cbcbcb 28.5px,#cdcdcd 34.5px,#c7c7c7 37.5px,#b8b8b8 40.5px,#a8a8a8 42.5px,#6e6e6e 47.5px,#5c5c5c 49.5px,#505050 51.5px,#484848 54.5px,#494949 57.5px,#545454 60.5px,#676767 64.5px,#686868 65.5px,#656565 66.5px,#5d5d5d 67.5px,#434343 69.5px,#363636 71.5px,#303030 75px}
.b1_11{--g:#c9c9c9 0px,#cbcbcb 28.5px,#cdcdcd 34.5px,#c8c8c8 37.5px,#bababa 40.5px,#a0a0a0 43.5px,#747474 47.5px,#5c5c5c 50.5px,#525252 53.5px,#505050 56.5px,#575757 59.5px,#6b6b6b 64.5px,#6b6b6b 65.5px,#676767 66.5px,#5e5e5e 67.5px,#4f4f4f 68.5px,#464646 69.5px,#3d3d3d 71.5px,#3a3a3a 75px}
.b1_12{--g:#c9c9c9 0px,#cbcbcb 28.5px,#cdcdcd 34.5px,#c8c8c8 37.5px,#bbbbbb 40.5px,#a3a3a3 43.5px,#797979 47.5px,#696969 49.5px,#5c5c5c 52.5px,#595959 55.5px,#5f5f5f 59.5px,#6e6e6e 63.5px,#6e6e6e 65.5px,#6a6a6a 66.5px,#606060 67.5px,#505050 68.5px,#494949 69.5px,#444444 71.5px,#444444 75px}
.b1_13{--g:#c9c9c9 0px,#cbcbcb 28.5px,#cdcdcd 34.5px,#c9c9c9 37.5px,#bcbcbc 40.5px,#a5a5a5 43.5px,#7f7f7f 47.5px,#6c6c6c 50.5px,#636363 53.5px,#646464 57.5px,#737373 63.5px,#727272 65.5px,#6c6c6c 66.5px,#616161 67.5px,#515151 68.5px,#4c4c4c 70.5px,#4e4e4e 75px}
.b1_14{--g:#c9c9c9 0px,#cccccc 29.5px,#cdcdcd 35.5px,#c6c6c6 38.5px,#b8b8b8 41.5px,#969696 45.5px,#7e7e7e 48.5px,#737373 50.5px,#6d6d6d 53.5px,#6d6d6d 57.5px,#787878 63.5px,#757575 65.5px,#6e6e6e 66.5px,#535353 68.5px,#565656 71.5px,#5a5a5a 75px}
.b1_15{--g:#c9c9c9 0px,#cccccc 29.5px,#cdcdcd 35.5px,#c7c7c7 38.5px,#bababa 41.5px,#848484 48.5px,#797979 51.5px,#757575 55.5px,#7e7e7e 63.5px,#787878 65.5px,#707070 66.5px,#575757 68.5px,#646464 73.5px,#656565 75px}
.b1_16{--g:#c9c9c9 0px,#cccccc 29.5px,#cdcdcd 35.5px,#c8c8c8 38.5px,#bbbbbb 41.5px,#919191 47.5px,#838383 50.5px,#808080 53.5px,#818181 59.5px,#848484 62.5px,#818181 64.5px,#7c7c7c 65.5px,#727272 66.5px,#646464 67.5px,#5b5b5b 68.5px,#707070 73.5px,#717171 75px}
.b1_17{--g:#c9c9c9 0px,#cccccc 29.5px,#cecece 35.5px,#c9c9c9 38.5px,#bdbdbd 41.5px,#969696 47.5px,#8b8b8b 50.5px,#888888 55.5px,#8a8a8a 62.5px,#868686 64.5px,#7f7f7f 65.5px,#757575 66.5px,#646464 67.5px,#616161 68.5px,#797979 72.5px,#7e7e7e 75px}
.b1_18{--g:#c9c9c9 0px,#cccccc 29.5px,#cecece 35.5px,#c7c7c7 39.5px,#bababa 42.5px,#9c9c9c 47.5px,#959595 49.5px,#919191 52.5px,#919191 62.5px,#8a8a8a 64.5px,#828282 65.5px,#767676 66.5px,#656565 67.5px,#676767 68.5px,#7f7f7f 71.5px,#888888 73.5px,#8a8a8a 75px}
.b1_19{--g:#c9c9c9 0px,#cccccc 29.5px,#cdcdcd 36.5px,#c5c5c5 40.5px,#9e9e9e 48.5px,#9a9a9a 51.5px,#999999 60.5px,#979797 62.5px,#8e8e8e 64.5px,#858585 65.5px,#787878 66.5px,#666666 67.5px,#8a8a8a 71.5px,#949494 73.5px,#969696 75px}
.b1_20{--g:#c9c9c9 0px,#cccccc 29.5px,#cecece 36.5px,#c6c6c6 40.5px,#a5a5a5 48.5px,#a1a1a1 51.5px,#a2a2a2 59.5px,#9d9d9d 62.5px,#929292 64.5px,#888888 65.5px,#6c6c6c 67.5px,#8d8d8d 70.5px,#9c9c9c 72.5px,#a2a2a2 75px}
.b1_21{--g:#c9c9c9 0px,#cccccc 29.5px,#cecece 36.5px,#c8c8c8 40.5px,#adadad 47.5px,#a9a9a9 50.5px,#aaaaaa 58.5px,#a5a5a5 61.5px,#9d9d9d 63.5px,#969696 64.5px,#8b8b8b 65.5px,#7b7b7b 66.5px,#737373 67.5px,#989898 70.5px,#a7a7a7 72.5px,#aeaeae 75px}
.b1_22{--g:#c9c9c9 0px,#cccccc 29.5px,#cecece 36.5px,#c9c9c9 40.5px,#b3b3b3 47.5px,#afafaf 50.5px,#b2b2b2 57.5px,#aeaeae 60.5px,#a8a8a8 62.5px,#9a9a9a 64.5px,#8d8d8d 65.5px,#7c7c7c 66.5px,#7b7b7b 67.5px,#979797 69.5px,#acacac 71.5px,#b6b6b6 73.5px,#b8b8b8 75px}
.b1_23{--g:#c9c9c9 0px,#cccccc 29.5px,#cecece 37.5px,#c8c8c8 41.5px,#b7b7b7 47.5px,#b6b6b6 51.5px,#b9b9b9 57.5px,#b4b4b4 60.5px,#acacac 62.5px,#9d9d9d 64.5px,#909090 65.5px,#7f7f7f 66.5px,#848484 67.5px,#a3a3a3 69.5px,#aeaeae 70.5px,#bdbdbd 72.5px,#c3c3c3 75px}
.b1_24{--g:#c9c9c9 0px,#cccccc 29.5px,#cfcfcf 37.5px,#c7c7c7 42.5px,#bcbcbc 47.5px,#bcbcbc 51.5px,#c0c0c0 56.5px,#bababa 60.5px,#b1b1b1 62.5px,#aaaaaa 63.5px,#a0a0a0 64.5px,#848484 66.5px,#8f8f8f 67.5px,#aeaeae 69.5px,#b9b9b9 70.5px,#c7c7c7 72.5px,#cdcdcd 75px}
.b1_25{--g:#c9c9c9 0px,#cccccc 29.5px,#cfcfcf 37.5px,#c9c9c9 42.5px,#c1c1c1 47.5px,#c4c4c4 52.5px,#c5c5c5 57.5px,#c0c0c0 60.5px,#b6b6b6 62.5px,#a3a3a3 64.5px,#939393 65.5px,#8a8a8a 66.5px,#aaaaaa 68.5px,#b8b8b8 69.5px,#c3c3c3 70.5px,#d0d0d0 72.5px,#d5d5d5 75px}
.b1_26{--g:#c9c9c9 0px,#cccccc 29.5px,#cfcfcf 38.5px,#c5c5c5 47.5px,#cccccc 56.5px,#c5c5c5 60.5px,#bababa 62.5px,#b1b1b1 63.5px,#a5a5a5 64.5px,#959595 65.5px,#929292 66.5px,#a5a5a5 67.5px,#b6b6b6 68.5px,#c2c2c2 69.5px,#cccccc 70.5px,#d8d8d8 72.5px,#dddddd 75px}
.b1_27{--g:#c9c9c9 0px,#cccccc 29.5px,#d0d0d0 38.5px,#c9c9c9 48.5px,#d1d1d1 56.5px,#c9c9c9 60.5px,#bebebe 62.5px,#b4b4b4 63.5px,#a8a8a8 64.5px,#989898 65.5px,#9d9d9d 66.5px,#b1b1b1 67.5px,#c0c0c0 68.5px,#cccccc 69.5px,#dcdcdc 71.5px,#e3e3e3 73.5px,#e4e4e4 75px}
.b1_28{--g:#c9c9c9 0px,#cccccc 29.5px,#d1d1d1 39.5px,#cdcdcd 47.5px,#d6d6d6 55.5px,#d1d1d1 59.5px,#c8c8c8 61.5px,#c2c2c2 62.5px,#b8b8b8 63.5px,#9b9b9b 65.5px,#a9a9a9 66.5px,#bcbcbc 67.5px,#cacaca 68.5px,#dddddd 70.5px,#e6e6e6 72.5px,#e9e9e9 75px}
.b1_29{--g:#c9c9c9 0px,#cccccc 29.5px,#d1d1d1 40.5px,#d1d1d1 47.5px,#dadada 55.5px,#d5d5d5 59.5px,#cccccc 61.5px,#c5c5c5 62.5px,#bababa 63.5px,#ababab 64.5px,#a0a0a0 65.5px,#b5b5b5 66.5px,#c6c6c6 67.5px,#d3d3d3 68.5px,#e4e4e4 70.5px,#ededed 73.5px,#eeeeee 75px}
.b1_30{--g:#c9c9c9 0px,#cccccc 29.5px,#d2d2d2 41.5px,#d3d3d3 47.5px,#dedede 55.5px,#d9d9d9 59.5px,#cfcfcf 61.5px,#c8c8c8 62.5px,#bcbcbc 63.5px,#acacac 64.5px,#ababab 65.5px,#bfbfbf 66.5px,#cfcfcf 67.5px,#dbdbdb 68.5px,#e9e9e9 70.5px,#f1f1f1 73.5px,#f2f2f2 75px}
.b1_31{--g:#c9c9c9 0px,#cccccc 29.5px,#d3d3d3 42.5px,#d7d7d7 48.5px,#e0e0e0 54.5px,#dedede 58.5px,#d7d7d7 60.5px,#cacaca 62.5px,#bebebe 63.5px,#adadad 64.5px,#b4b4b4 65.5px,#c7c7c7 66.5px,#d6d6d6 67.5px,#e0e0e0 68.5px,#ededed 70.5px,#f4f4f4 73.5px,#f4f4f4 75px}
.b1_32{--g:#c9c9c9 0px,#cccccc 29.5px,#d8d8d8 47.5px,#e3e3e3 54.5px,#e1e1e1 58.5px,#dadada 60.5px,#cccccc 62.5px,#bfbfbf 63.5px,#adadad 64.5px,#cfcfcf 66.5px,#dcdcdc 67.5px,#e6e6e6 68.5px,#f0f0f0 70.5px,#f6f6f6 73.5px,#f7f7f7 75px}
.b1_33{--g:#c9c9c9 0px,#cccccc 29.5px,#dadada 47.5px,#e5e5e5 54.5px,#e3e3e3 58.5px,#dcdcdc 60.5px,#cdcdcd 62.5px,#b4b4b4 64.5px,#d6d6d6 66.5px,#e2e2e2 67.5px,#efefef 69.5px,#f7f7f7 72.5px,#f8f8f8 75px}
.b1_34{--g:#c9c9c9 0px,#cccccc 29.5px,#dbdbdb 46.5px,#e7e7e7 54.5px,#e7e7e7 57.5px,#e3e3e3 59.5px,#d8d8d8 61.5px,#cfcfcf 62.5px,#c1c1c1 63.5px,#bcbcbc 64.5px,#cecece 65.5px,#dddddd 66.5px,#e7e7e7 67.5px,#f3f3f3 69.5px,#f9f9f9 72.5px,#fafafa 75px}
.b1_35{--g:#c9c9c9 0px,#cccccc 29.5px,#dcdcdc 46.5px,#eaeaea 54.5px,#e7e7e7 58.5px,#e0e0e0 60.5px,#dadada 61.5px,#d0d0d0 62.5px,#c2c2c2 63.5px,#c4c4c4 64.5px,#d5d5d5 65.5px,#e2e2e2 66.5px,#ebebeb 67.5px,#f5f5f5 69.5px,#fbfbfb 73.5px,#fbfbfb 75px}
.b1_36{--g:#c9c9c9 0px,#cccccc 29.5px,#dcdcdc 45.5px,#ebebeb 54.5px,#e9e9e9 58.5px,#e2e2e2 60.5px,#dbdbdb 61.5px,#d1d1d1 62.5px,#c4c4c4 63.5px,#cccccc 64.5px,#dcdcdc 65.5px,#e7e7e7 66.5px,#f4f4f4 68.5px,#fbfbfb 71.5px,#fcfcfc 75px}
.b1_37{--g:#c9c9c9 0px,#cccccc 29.5px,#dadada 43.5px,#ececec 53.5px,#ececec 57.5px,#e8e8e8 59.5px,#dddddd 61.5px,#c9c9c9 63.5px,#d4d4d4 64.5px,#e2e2e2 65.5px,#ececec 66.5px,#f6f6f6 68.5px,#fcfcfc 72.5px,#fdfdfd 75px}
.b1_38{--g:#c9c9c9 0px,#cccccc 29.5px,#d8d8d8 41.5px,#eeeeee 53.5px,#eeeeee 57.5px,#e5e5e5 60.5px,#dedede 61.5px,#d3d3d3 62.5px,#cdcdcd 63.5px,#e7e7e7 65.5px,#f5f5f5 67.5px,#fcfcfc 70.5px,#fdfdfd 75px}
.b1_39{--g:#c9c9c9 0px,#cccccc 29.5px,#d7d7d7 40.5px,#f0f0f0 53.5px,#efefef 57.5px,#ebebeb 59.5px,#dfdfdf 61.5px,#d4d4d4 62.5px,#d1d1d1 63.5px,#e1e1e1 64.5px,#ececec 65.5px,#f7f7f7 67.5px,#fdfdfd 71.5px,#fefefe 75px}
.b1_40{--g:#c9c9c9 0px,#cccccc 29.5px,#d6d6d6 39.5px,#f1f1f1 53.5px,#f1f1f1 57.5px,#ececec 59.5px,#e0e0e0 61.5px,#d6d6d6 62.5px,#d9d9d9 63.5px,#e7e7e7 64.5px,#f0f0f0 65.5px,#f9f9f9 67.5px,#fefefe 71.5px,#fefefe 75px}
.b1_41{--g:#c9c9c9 0px,#cccccc 29.5px,#d6d6d6 39.5px,#f1f1f1 52.5px,#f3f3f3 56.5px,#ededed 59.5px,#e9e9e9 60.5px,#d7d7d7 62.5px,#dfdfdf 63.5px,#ebebeb 64.5px,#f3f3f3 65.5px,#fafafa 67.5px,#fefefe 73.5px,#fefefe 75px}
.b1_42{--g:#c9c9c9 0px,#cccccc 29.5px,#d5d5d5 38.5px,#ebebeb 48.5px,#f3f3f3 53.5px,#f3f3f3 57.5px,#eeeeee 59.5px,#eaeaea 60.5px,#d8d8d8 62.5px,#efefef 64.5px,#f9f9f9 66.5px,#fefefe 70.5px,#ffffff 75px}
.b1_43{--g:#c9c9c9 0px,#cccccc 29.5px,#d5d5d5 38.5px,#ececec 48.5px,#f4f4f4 53.5px,#f4f4f4 57.5px,#efefef 59.5px,#ebebeb 60.5px,#dddddd 62.5px,#eaeaea 63.5px,#f3f3f3 64.5px,#fbfbfb 66.5px,#fefefe 71.5px,#ffffff 75px}
.b1_44{--g:#c9c9c9 0px,#cccccc 29.5px,#d5d5d5 38.5px,#f3f3f3 51.5px,#f6f6f6 56.5px,#f0f0f0 59.5px,#ebebeb 60.5px,#e3e3e3 61.5px,#e3e3e3 62.5px,#eeeeee 63.5px,#f5f5f5 64.5px,#fcfcfc 66.5px,#ffffff 75px}
.b1_45{--g:#c9c9c9 0px,#cccccc 29.5px,#d4d4d4 37.5px,#e6e6e6 45.5px,#f4f4f4 51.5px,#f7f7f7 56.5px,#f1f1f1 59.5px,#ececec 60.5px,#e3e3e3 61.5px,#e8e8e8 62.5px,#f2f2f2 63.5px,#fbfbfb 65.5px,#ffffff 70.5px,#ffffff 75px}
.b1_46{--g:#cacaca 0px,#cccccc 29.5px,#d4d4d4 37.5px,#e7e7e7 45.5px,#f5f5f5 51.5px,#f7f7f7 56.5px,#f2f2f2 59.5px,#ececec 60.5px,#e4e4e4 61.5px,#f5f5f5 63.5px,#fcfcfc 65.5px,#ffffff 72.5px,#ffffff 75px}
.b1_47{--g:#cacaca 0px,#cccccc 29.5px,#d4d4d4 37.5px,#e8e8e8 45.5px,#f6f6f6 51.5px,#f8f8f8 56.5px,#f3f3f3 59.5px,#e8e8e8 61.5px,#f7f7f7 63.5px,#fdfdfd 65.5px,#ffffff 75px}
.b1_48{--g:#cacaca 0px,#cccccc 29.5px,#d4d4d4 37.5px,#e8e8e8 45.5px,#f6f6f6 51.5px,#f9f9f9 56.5px,#f3f3f3 59.5px,#ededed 60.5px,#ececec 61.5px,#f9f9f9 63.5px,#fefefe 66.5px,#ffffff 75px}
.b1_49{--g:#cacaca 0px,#cccccc 29.5px,#d4d4d4 37.5px,#e6e6e6 44.5px,#f5f5f5 50.5px,#f9f9f9 55.5px,#f7f7f7 58.5px,#eeeeee 60.5px,#efefef 61.5px,#f6f6f6 62.5px,#fdfdfd 64.5px,#ffffff 75px}
.b1_50{--g:#cacaca 0px,#cccccc 29.5px,#d4d4d4 37.5px,#e6e6e6 44.5px,#f6f6f6 50.5px,#fafafa 55.5px,#f7f7f7 58.5px,#efefef 60.5px,#fbfbfb 63.5px,#ffffff 68.5px,#ffffff 75px}
.b1_51{--g:#cacaca 0px,#cccccc 29.5px,#d3d3d3 36.5px,#e4e4e4 43.5px,#f5f5f5 49.5px,#fafafa 54.5px,#f8f8f8 58.5px,#f1f1f1 60.5px,#fcfcfc 63.5px,#ffffff 71.5px,#ffffff 75px}
.b1_52{--g:#cacaca 0px,#cccccc 29.5px,#d3d3d3 36.5px,#e1e1e1 42.5px,#f5f5f5 49.5px,#fbfbfb 54.5px,#f8f8f8 58.5px,#f2f2f2 60.5px,#fbfbfb 62.5px,#ffffff 66.5px,#ffffff 75px}
.b1_53{--g:#cacaca 0px,#cccccc 30.5px,#d5d5d5 37.5px,#e8e8e8 44.5px,#f8f8f8 50.5px,#fbfbfb 55.5px,#f8f8f8 58.5px,#f4f4f4 60.5px,#fcfcfc 62.5px,#ffffff 68.5px,#ffffff 75px}
.b1_54{--g:#cacaca 0px,#cccccc 30.5px,#d5d5d5 37.5px,#e8e8e8 44.5px,#f6f6f6 49.5px,#fbfbfb 54.5px,#f9f9f9 58.5px,#f6f6f6 59.5px,#f6f6f6 60.5px,#fdfdfd 62.5px,#ffffff 73.5px,#ffffff 75px}
.b1_55{--g:#cacaca 0px,#cccccc 30.5px,#d5d5d5 37.5px,#e5e5e5 43.5px,#f7f7f7 49.5px,#fcfcfc 54.5px,#f9f9f9 58.5px,#f6f6f6 59.5px,#fdfdfd 62.5px,#ffffff 75px}
.b1_56{--g:#cacaca 0px,#cccccc 30.5px,#d5d5d5 37.5px,#e5e5e5 43.5px,#f7f7f7 49.5px,#fcfcfc 54.5px,#f9f9f9 58.5px,#f6f6f6 59.5px,#fefefe 62.5px,#ffffff 75px}
.b1_57{--g:#cacaca 0px,#cccccc 30.5px,#d5d5d5 37.5px,#e6e6e6 43.5px,#f8f8f8 49.5px,#fcfcfc 54.5px,#fafafa 58.5px,#f7f7f7 59.5px,#fdfdfd 61.5px,#ffffff 75px}
.b1_58{--g:#cacaca 0px,#cccccc 30.5px,#d5d5d5 37.5px,#e6e6e6 43.5px,#f8f8f8 49.5px,#fdfdfd 54.5px,#fafafa 58.5px,#f8f8f8 59.5px,#fefefe 62.5px,#ffffff 75px}
.b1_59{--g:#cacaca 0px,#cccccc 30.5px,#d5d5d5 37.5px,#e6e6e6 43.5px,#f6f6f6 48.5px,#fdfdfd 53.5px,#fcfcfc 57.5px,#fafafa 59.5px,#ffffff 62.5px,#ffffff 75px}
.b1_60{--g:#cbcbcb 0px,#cdcdcd 31.5px,#d5d5d5 37.5px,#e7e7e7 43.5px,#f7f7f7 48.5px,#fdfdfd 53.5px,#fcfcfc 57.5px,#fafafa 58.5px,#ffffff 62.5px,#ffffff 75px}
.b1_61{--g:#cbcbcb 0px,#cdcdcd 31.5px,#d5d5d5 37.5px,#e7e7e7 43.5px,#f7f7f7 48.5px,#fdfdfd 53.5px,#fbfbfb 58.5px,#ffffff 63.5px,#ffffff 75px}
.b1_62{--g:#cbcbcb 0px,#cdcdcd 31.5px,#d5d5d5 37.5px,#e7e7e7 43.5px,#f8f8f8 48.5px,#fefefe 53.5px,#fefefe 59.5px,#ffffff 75px}
.b1_63{--g:#cccccc 0px,#cecece 32.5px,#d7d7d7 38.5px,#f9f9f9 48.5px,#fefefe 53.5px,#ffffff 75px}
.b1_64{--g:#cdcdcd 0px,#cecece 32.5px,#d8d8d8 38.5px,#f9f9f9 48.5px,#fefefe 53.5px,#ffffff 75px}
.b1_65{--g:#cfcfcf 0px,#cfcfcf 33.5px,#dadada 39.5px,#f7f7f7 47.5px,#fefefe 51.5px,#ffffff 75px}
.b1_66{--g:#d0d0d0 0px,#cfcfcf 33.5px,#dadada 39.5px,#f7f7f7 47.5px,#fefefe 51.5px,#ffffff 75px}
.b1_67{--g:#d1d1d1 0px,#cfcfcf 30.5px,#d0d0d0 34.5px,#dadada 39.5px,#f7f7f7 47.5px,#fefefe 51.5px,#ffffff 75px}
.b1_68{--g:#d2d2d2 0px,#d0d0d0 29.5px,#cfcfcf 33.5px,#dadada 39.5px,#f8f8f8 47.5px,#fefefe 51.5px,#ffffff 75px}
.b1_69{--g:#d3d3d3 0px,#d1d1d1 28.5px,#cfcfcf 33.5px,#dadada 39.5px,#f8f8f8 47.5px,#fefefe 51.5px,#ffffff 75px}
.b1_70{--g:#d5d5d5 0px,#d3d3d3 27.5px,#cfcfcf 33.5px,#dadada 39.5px,#f8f8f8 47.5px,#fefefe 51.5px,#ffffff 75px}
.b1_71{--g:#d7d7d7 0px,#d5d5d5 26.5px,#cfcfcf 33.5px,#d8d8d8 38.5px,#ededed 44.5px,#fafafa 48.5px,#ffffff 53.5px,#ffffff 75px}
.b1_72{--g:#d8d8d8 0px,#d6d6d6 26.5px,#cfcfcf 33.5px,#d8d8d8 38.5px,#ededed 44.5px,#fafafa 48.5px,#ffffff 53.5px,#ffffff 75px}
.b1_73{--g:#d9d9d9 0px,#d7d7d7 26.5px,#cfcfcf 33.5px,#d8d8d8 38.5px,#ededed 44.5px,#fafafa 48.5px,#ffffff 53.5px,#ffffff 75px}
.b1_74{--g:#dadada 0px,#d8d8d8 26.5px,#d0d0d0 34.5px,#dadada 39.5px,#f8f8f8 47.5px,#fefefe 51.5px,#ffffff 75px}
.b1_75{--g:#dbdbdb 0px,#d9d9d9 25.5px,#d2d2d2 32.5px,#d0d0d0 34.5px,#dadada 39.5px,#f8f8f8 47.5px,#fefefe 51.5px,#ffffff 75px}
.b1_76{--g:#dddddd 0px,#dadada 25.5px,#d3d3d3 32.5px,#d0d0d0 34.5px,#dadada 39.5px,#f8f8f8 47.5px,#fefefe 51.5px,#ffffff 75px}
.b1_77{--g:#dedede 0px,#dcdcdc 25.5px,#d4d4d4 32.5px,#d0d0d0 34.5px,#dadada 39.5px,#f8f8f8 47.5px,#fefefe 51.5px,#ffffff 75px}
.b1_78{--g:#dfdfdf 0px,#dddddd 25.5px,#d5d5d5 32.5px,#d1d1d1 34.5px,#dadada 39.5px,#f8f8f8 47.5px,#fefefe 51.5px,#ffffff 75px}
.b1_79{--g:#e1e1e1 0px,#dedede 25.5px,#d6d6d6 32.5px,#d1d1d1 34.5px,#d8d8d8 38.5px,#ededed 44.5px,#fafafa 48.5px,#ffffff 53.5px,#ffffff 75px}
.b1_80{--g:#e2e2e2 0px,#e0e0e0 25.5px,#d9d9d9 31.5px,#d2d2d2 34.5px,#d3d3d3 36.5px,#e1e1e1 41.5px,#f8f8f8 47.5px,#fefefe 51.5px,#ffffff 75px}
.b1_81{--g:#e3e3e3 0px,#e1e1e1 25.5px,#dadada 31.5px,#d2d2d2 35.5px,#dedede 40.5px,#f8f8f8 47.5px,#fefefe 51.5px,#ffffff 75px}
.b1_82{--g:#e5e5e5 0px,#e2e2e2 25.5px,#dcdcdc 31.5px,#d2d2d2 35.5px,#dedede 40.5px,#f8f8f8 47.5px,#fefefe 51.5px,#ffffff 75px}
.b1_83{--g:#e6e6e6 0px,#e4e4e4 25.5px,#dddddd 31.5px,#d2d2d2 35.5px,#dadada 39.5px,#f8f8f8 47.5px,#fefefe 51.5px,#ffffff 75px}
.b1_84{--g:#e8e8e8 0px,#e6e6e6 25.5px,#dfdfdf 31.5px,#d3d3d3 35.5px,#d8d8d8 38.5px,#ededed 44.5px,#fafafa 48.5px,#ffffff 53.5px,#ffffff 75px}
.b1_85{--g:#e9e9e9 0px,#e7e7e7 25.5px,#e0e0e0 31.5px,#d4d4d4 35.5px,#d3d3d3 36.5px,#e1e1e1 41.5px,#f8f8f8 47.5px,#fefefe 51.5px,#ffffff 75px}
.b1_86{--g:#ebebeb 0px,#e9e9e9 25.5px,#e2e2e2 31.5px,#d3d3d3 36.5px,#e1e1e1 41.5px,#f8f8f8 47.5px,#fefefe 51.5px,#ffffff 75px}
.b1_87{--g:#ededed 0px,#eaeaea 25.5px,#e4e4e4 31.5px,#d8d8d8 35.5px,#d4d4d4 36.5px,#dedede 40.5px,#f8f8f8 47.5px,#fefefe 51.5px,#ffffff 75px}
.b1_88{--g:#eeeeee 0px,#ececec 25.5px,#e6e6e6 31.5px,#dadada 35.5px,#d5d5d5 36.5px,#d8d8d8 38.5px,#ededed 44.5px,#fbfbfb 48.5px,#ffffff 53.5px,#ffffff 75px}
.b1_89{--g:#f0f0f0 0px,#eeeeee 25.5px,#e8e8e8 31.5px,#dcdcdc 35.5px,#d5d5d5 37.5px,#e5e5e5 42.5px,#f8f8f8 47.5px,#fefefe 51.5px,#ffffff 75px}
.b1_90{--g:#f1f1f1 0px,#efefef 26.5px,#e8e8e8 32.5px,#dedede 35.5px,#d6d6d6 37.5px,#e1e1e1 41.5px,#f8f8f8 47.5px,#fefefe 51.5px,#ffffff 75px}
.b1_91{--g:#f3f3f3 0px,#f0f0f0 26.5px,#eaeaea 32.5px,#e1e1e1 35.5px,#d7d7d7 37.5px,#dbdbdb 39.5px,#f8f8f8 47.5px,#fefefe 51.5px,#ffffff 75px}
.b1_92{--g:#f4f4f4 0px,#f2f2f2 26.5px,#ebebeb 32.5px,#e3e3e3 35.5px,#d9d9d9 37.5px,#d8d8d8 38.5px,#ededed 44.5px,#fbfbfb 48.5px,#ffffff 53.5px,#ffffff 75px}
.b1_93{--g:#f5f5f5 0px,#f3f3f3 27.5px,#ebebeb 33.5px,#e1e1e1 36.5px,#d8d8d8 38.5px,#e9e9e9 43.5px,#fbfbfb 48.5px,#ffffff 53.5px,#ffffff 75px}
.b1_94{--g:#f6f6f6 0px,#f4f4f4 27.5px,#ededed 33.5px,#e4e4e4 36.5px,#d9d9d9 38.5px,#e5e5e5 42.5px,#f8f8f8 47.5px,#fefefe 51.5px,#ffffff 75px}
.b1_95{--g:#f8f8f8 0px,#f6f6f6 27.5px,#efefef 33.5px,#e6e6e6 36.5px,#dbdbdb 38.5px,#dbdbdb 39.5px,#f8f8f8 47.5px,#fefefe 51.5px,#ffffff 75px}
.b1_96{--g:#f9f9f9 0px,#f6f6f6 28.5px,#efefef 34.5px,#e4e4e4 37.5px,#dbdbdb 39.5px,#f8f8f8 47.5px,#fefefe 51.5px,#ffffff 75px}
.b1_97{--g:#fafafa 0px,#f8f8f8 28.5px,#f1f1f1 34.5px,#e7e7e7 37.5px,#dbdbdb 39.5px,#f8f8f8 47.5px,#fefefe 51.5px,#ffffff 75px}
.b1_98{--g:#fafafa 0px,#f8f8f8 29.5px,#f3f3f3 34.5px,#eaeaea 37.5px,#dedede 39.5px,#dedede 40.5px,#f8f8f8 47.5px,#fefefe 51.5px,#ffffff 75px}
.b1_99{--g:#fbfbfb 0px,#f9f9f9 29.5px,#f3f3f3 35.5px,#e7e7e7 38.5px,#e1e1e1 39.5px,#dedede 40.5px,#f8f8f8 47.5px,#fefefe 51.5px,#ffffff 75px}
.b1_100{--g:#fcfcfc 0px,#fafafa 30.5px,#f4f4f4 35.5px,#eaeaea 38.5px,#dfdfdf 40.5px,#e5e5e5 42.5px,#f8f8f8 47.5px,#fefefe 51.5px,#ffffff 75px}
.b1_101{--g:#fcfcfc 0px,#fafafa 31.5px,#f4f4f4 36.5px,#e8e8e8 39.5px,#e1e1e1 40.5px,#e1e1e1 41.5px,#f8f8f8 47.5px,#fefefe 51.5px,#ffffff 75px}
.b1_102{--g:#fdfdfd 0px,#fbfbfb 31.5px,#f6f6f6 36.5px,#ebebeb 39.5px,#e4e4e4 40.5px,#e2e2e2 41.5px,#f8f8f8 47.5px,#fefefe 51.5px,#ffffff 75px}
.b1_103{--g:#fdfdfd 0px,#fbfbfb 32.5px,#f5f5f5 37.5px,#eeeeee 39.5px,#e2e2e2 41.5px,#f8f8f8 47.5px,#fefefe 51.5px,#ffffff 75px}
.b1_104{--g:#fefefe 0px,#fcfcfc 33.5px,#f7f7f7 37.5px,#ececec 40.5px,#e4e4e4 41.5px,#e5e5e5 42.5px,#f8f8f8 47.5px,#fefefe 51.5px,#ffffff 75px}
.b1_105{--g:#fefefe 0px,#fcfcfc 33.5px,#f6f6f6 38.5px,#efefef 40.5px,#e8e8e8 41.5px,#e5e5e5 42.5px,#f8f8f8 47.5px,#fefefe 51.5px,#ffffff 75px}
.b1_106{--g:#fefefe 0px,#fcfcfc 34.5px,#f8f8f8 38.5px,#f1f1f1 40.5px,#e6e6e6 42.5px,#fbfbfb 48.5px,#ffffff 53.5px,#ffffff 75px}
.b1_107{--g:#fefefe 0px,#fcfcfc 35.5px,#f7f7f7 39.5px,#e9e9e9 42.5px,#e9e9e9 43.5px,#fbfbfb 48.5px,#ffffff 53.5px,#ffffff 75px}
.b1_108{--g:#ffffff 0px,#fdfdfd 35.5px,#f9f9f9 39.5px,#f2f2f2 41.5px,#ececec 42.5px,#e9e9e9 43.5px,#fbfbfb 48.5px,#ffffff 53.5px,#ffffff 75px}
.b1_109{--g:#ffffff 0px,#fdfdfd 36.5px,#f8f8f8 40.5px,#ebebeb 43.5px,#fbfbfb 48.5px,#ffffff 53.5px,#ffffff 75px}
.b1_110{--g:#ffffff 0px,#fdfdfd 37.5px,#f7f7f7 41.5px,#ededed 43.5px,#ededed 44.5px,#fbfbfb 48.5px,#ffffff 53.5px,#ffffff 75px}
.b1_111{--g:#ffffff 0px,#fdfdfd 38.5px,#f8f8f8 41.5px,#f0f0f0 43.5px,#eeeeee 44.5px,#fbfbfb 48.5px,#ffffff 53.5px,#ffffff 75px}
.b1_112{--g:#ffffff 0px,#fdfdfd 38.5px,#f7f7f7 42.5px,#eeeeee 44.5px,#fbfbfb 48.5px,#ffffff 53.5px,#ffffff 75px}
.b1_113{--g:#ffffff 0px,#fdfdfd 39.5px,#f9f9f9 42.5px,#f0f0f0 44.5px,#fcfcfc 49.5px,#ffffff 57.5px,#ffffff 75px}
.b1_114{--g:#ffffff 0px,#fefefe 39.5px,#fafafa 42.5px,#f3f3f3 44.5px,#f1f1f1 45.5px,#fcfcfc 49.5px,#ffffff 57.5px,#ffffff 75px}
.b1_115{--g:#ffffff 0px,#fefefe 40.5px,#f9f9f9 43.5px,#f2f2f2 45.5px,#fcfcfc 49.5px,#ffffff 57.5px,#ffffff 75px}
.b1_116{--g:#ffffff 0px,#fdfdfd 41.5px,#f8f8f8 44.5px,#f4f4f4 45.5px,#fefefe 50.5px,#ffffff 75px}
.b1_117{--g:#ffffff 0px,#fefefe 41.5px,#f9f9f9 44.5px,#f6f6f6 45.5px,#f5f5f5 46.5px,#fefefe 50.5px,#ffffff 75px}
.b1_118{--g:#ffffff 0px,#fdfdfd 42.5px,#f6f6f6 46.5px,#fefefe 50.5px,#ffffff 75px}
.b1_119{--g:#ffffff 0px,#fefefe 42.5px,#f9f9f9 45.5px,#f7f7f7 46.5px,#fefefe 51.5px,#ffffff 75px}
.b1_120{--g:#ffffff 0px,#fefefe 43.5px,#f7f7f7 46.5px,#ffffff 52.5px,#ffffff 75px}
.b1_121{--g:#ffffff 0px,#fefefe 43.5px,#f8f8f8 47.5px,#fefefe 51.5px,#ffffff 75px}
.b1_122{--g:#ffffff 0px,#fefefe 44.5px,#f8f8f8 47.5px,#fefefe 51.5px,#ffffff 75px}
.b1_123{--g:#ffffff 0px,#fefefe 44.5px,#f9f9f9 47.5px,#ffffff 52.5px,#ffffff 75px}
.b1_124{--g:#ffffff 0px,#fefefe 45.5px,#fbfbfb 48.5px,#ffffff 53.5px,#ffffff 75px}
.b1_125{--g:#ffffff 0px,#fdfdfd 46.5px,#fbfbfb 48.5px,#ffffff 53.5px,#ffffff 75px}
.b1_126{--g:#ffffff 0px,#fefefe 46.5px,#fcfcfc 49.5px,#ffffff 57.5px,#ffffff 75px}
.b1_127{--g:#ffffff 0px,#fefefe 47.5px,#fefefe 50.5px,#ffffff 75px}
.b2_0{--g:#dcdcdc 0px,#dedede 31.5px,#d6d6d6 34.5px,#cbcbcb 36.5px,#b8b8b8 38.5px,#9c9c9c 40.5px,#6a6a6a 43.5px,#404040 46.5px,#1f1f1f 49.5px,#090909 52.5px,#020202 54.5px,#000000 56.5px,#060606 58.5px,#131313 60.5px,#272727 62.5px,#454545 64.5px,#656565 66.5px,#717171 67.5px,#787878 68.5px,#767676 69.5px,#6b6b6b 70.5px,#575757 71.5px,#474747 72.5px,#3b3b3b 73.5px,#363636 75px}
.b2_1{--g:#dcdcdc 0px,#dedede 31.5px,#d6d6d6 34.5px,#cbcbcb 36.5px,#b8b8b8 38.5px,#9c9c9c 40.5px,#5c5c5c 44.5px,#373737 47.5px,#1b1b1b 50.5px,#0a0a0a 53.5px,#070707 56.5px,#0b0b0b 58.5px,#171717 60.5px,#2b2b2b 62.5px,#464646 64.5px,#656565 66.5px,#717171 67.5px,#787878 68.5px,#777777 69.5px,#6b6b6b 70.5px,#575757 71.5px,#474747 72.5px,#3c3c3c 73.5px,#373737 75px}
.b2_2{--g:#dcdcdc 0px,#dedede 31.5px,#d6d6d6 34.5px,#cbcbcb 36.5px,#b8b8b8 38.5px,#9d9d9d 40.5px,#5d5d5d 44.5px,#393939 47.5px,#1f1f1f 50.5px,#101010 53.5px,#0b0b0b 55.5px,#0e0e0e 57.5px,#1b1b1b 60.5px,#2e2e2e 62.5px,#484848 64.5px,#666666 66.5px,#727272 67.5px,#797979 68.5px,#777777 69.5px,#6b6b6b 70.5px,#585858 71.5px,#484848 72.5px,#3e3e3e 73.5px,#393939 75px}
.b2_3{--g:#dcdcdc 0px,#dedede 31.5px,#d6d6d6 34.5px,#cccccc 36.5px,#b9b9b9 38.5px,#9e9e9e 40.5px,#6f6f6f 43.5px,#494949 46.5px,#2d2d2d 49.5px,#1a1a1a 52.5px,#131313 54.5px,#121212 56.5px,#171717 58.5px,#2a2a2a 61.5px,#404040 63.5px,#6a6a6a 66.5px,#757575 67.5px,#7a7a7a 68.5px,#787878 69.5px,#6b6b6b 70.5px,#585858 71.5px,#4a4a4a 72.5px,#414141 73.5px,#3c3c3c 75px}
.b2_4{--g:#dcdcdc 0px,#dedede 31.5px,#d7d7d7 34.5px,#cccccc 36.5px,#bababa 38.5px,#a0a0a0 40.5px,#656565 44.5px,#464646 47.5px,#303030 50.5px,#252525 53.5px,#232323 56.5px,#292929 59.5px,#353535 61.5px,#474747 63.5px,#6d6d6d 66.5px,#777777 67.5px,#7c7c7c 68.5px,#797979 69.5px,#6b6b6b 70.5px,#5a5a5a 71.5px,#4e4e4e 72.5px,#454545 73.5px,#414141 75px}
.b2_5{--g:#dcdcdc 0px,#dedede 31.5px,#d7d7d7 34.5px,#cdcdcd 36.5px,#bbbbbb 38.5px,#a2a2a2 40.5px,#6b6b6b 44.5px,#565656 46.5px,#414141 49.5px,#323232 53.5px,#2f2f2f 56.5px,#373737 59.5px,#3f3f3f 61.5px,#505050 63.5px,#727272 66.5px,#7a7a7a 67.5px,#7e7e7e 68.5px,#7a7a7a 69.5px,#5c5c5c 71.5px,#525252 72.5px,#4b4b4b 73.5px,#474747 75px}
.b2_6{--g:#dcdcdc 0px,#dfdfdf 28.5px,#dddddd 32.5px,#d3d3d3 35.5px,#c6c6c6 37.5px,#b2b2b2 39.5px,#7d7d7d 43.5px,#676767 45.5px,#585858 47.5px,#464646 51.5px,#404040 55.5px,#444444 59.5px,#525252 62.5px,#777777 66.5px,#7f7f7f 67.5px,#808080 68.5px,#7b7b7b 69.5px,#5f5f5f 71.5px,#565656 72.5px,#515151 73.5px,#4e4e4e 75px}
.b2_7{--g:#dcdcdc 0px,#dfdfdf 28.5px,#dddddd 32.5px,#d4d4d4 35.5px,#c7c7c7 37.5px,#b4b4b4 39.5px,#828282 43.5px,#707070 45.5px,#5f5f5f 48.5px,#575757 51.5px,#555555 57.5px,#5a5a5a 61.5px,#6d6d6d 64.5px,#838383 67.5px,#838383 68.5px,#7c7c7c 69.5px,#6d6d6d 70.5px,#636363 71.5px,#595959 73.5px,#575757 75px}
.b2_8{--g:#dcdcdc 0px,#dfdfdf 28.5px,#dddddd 32.5px,#d4d4d4 35.5px,#c8c8c8 37.5px,#b6b6b6 39.5px,#888888 43.5px,#787878 45.5px,#6f6f6f 47.5px,#666666 51.5px,#666666 58.5px,#6a6a6a 61.5px,#717171 63.5px,#838383 66.5px,#878787 67.5px,#868686 68.5px,#7d7d7d 69.5px,#6e6e6e 70.5px,#686868 71.5px,#626262 73.5px,#616161 75px}
.b2_9{--g:#dcdcdc 0px,#dfdfdf 28.5px,#dddddd 32.5px,#d5d5d5 35.5px,#c2c2c2 38.5px,#8f8f8f 43.5px,#828282 45.5px,#797979 48.5px,#797979 61.5px,#818181 64.5px,#8a8a8a 66.5px,#8c8c8c 67.5px,#898989 68.5px,#7f7f7f 69.5px,#717171 70.5px,#6c6c6c 72.5px,#6c6c6c 75px}
.b2_10{--g:#dcdcdc 0px,#dfdfdf 28.5px,#dddddd 32.5px,#d6d6d6 35.5px,#c4c4c4 38.5px,#979797 43.5px,#8c8c8c 45.5px,#888888 47.5px,#8b8b8b 53.5px,#8b8b8b 57.5px,#898989 62.5px,#8c8c8c 64.5px,#919191 66.5px,#919191 67.5px,#8c8c8c 68.5px,#747474 70.5px,#777777 75px}
.b2_11{--g:#dcdcdc 0px,#dfdfdf 28.5px,#dcdcdc 33.5px,#d2d2d2 36.5px,#bebebe 39.5px,#9e9e9e 43.5px,#959595 45.5px,#939393 47.5px,#9b9b9b 54.5px,#999999 59.5px,#959595 63.5px,#989898 66.5px,#969696 67.5px,#8f8f8f 68.5px,#818181 69.5px,#797979 70.5px,#848484 75px}
.b2_12{--g:#dcdcdc 0px,#dfdfdf 28.5px,#dcdcdc 33.5px,#d3d3d3 36.5px,#c1c1c1 39.5px,#a5a5a5 43.5px,#9e9e9e 45.5px,#a0a0a0 48.5px,#acacac 54.5px,#ababab 58.5px,#a2a2a2 63.5px,#9e9e9e 66.5px,#9b9b9b 67.5px,#929292 68.5px,#828282 69.5px,#7e7e7e 70.5px,#8f8f8f 73.5px,#919191 75px}
.b2_13{--g:#dcdcdc 0px,#dfdfdf 28.5px,#dddddd 33.5px,#d5d5d5 36.5px,#c4c4c4 39.5px,#acacac 43.5px,#a8a8a8 44.5px,#a8a8a8 46.5px,#b6b6b6 52.5px,#bababa 56.5px,#afafaf 62.5px,#a5a5a5 66.5px,#a0a0a0 67.5px,#959595 68.5px,#858585 69.5px,#868686 70.5px,#969696 72.5px,#9c9c9c 73.5px,#9e9e9e 75px}
.b2_14{--g:#dcdcdc 0px,#dfdfdf 28.5px,#dddddd 33.5px,#d6d6d6 36.5px,#c7c7c7 39.5px,#b6b6b6 42.5px,#b0b0b0 44.5px,#b4b4b4 47.5px,#c5c5c5 53.5px,#c6c6c6 57.5px,#b9b9b9 62.5px,#ababab 66.5px,#a4a4a4 67.5px,#898989 69.5px,#8f8f8f 70.5px,#a3a3a3 72.5px,#a9a9a9 73.5px,#acacac 75px}
.b2_15{--g:#dcdcdc 0px,#dfdfdf 28.5px,#dedede 33.5px,#d7d7d7 36.5px,#bcbcbc 42.5px,#b8b8b8 44.5px,#bebebe 47.5px,#cfcfcf 52.5px,#d3d3d3 55.5px,#d0d0d0 58.5px,#c3c3c3 62.5px,#b7b7b7 65.5px,#a8a8a8 67.5px,#999999 68.5px,#8f8f8f 69.5px,#b0b0b0 72.5px,#b6b6b6 73.5px,#b9b9b9 75px}
.b2_16{--g:#dcdcdc 0px,#dfdfdf 28.5px,#dedede 33.5px,#d5d5d5 37.5px,#c1c1c1 42.5px,#bfbfbf 44.5px,#c7c7c7 47.5px,#d5d5d5 51.5px,#dadada 54.5px,#d9d9d9 58.5px,#d1d1d1 61.5px,#c4c4c4 64.5px,#b7b7b7 66.5px,#acacac 67.5px,#9b9b9b 68.5px,#959595 69.5px,#b2b2b2 71.5px,#bcbcbc 72.5px,#c3c3c3 73.5px,#c6c6c6 75px}
.b2_17{--g:#dcdcdc 0px,#dfdfdf 28.5px,#dddddd 34.5px,#d3d3d3 38.5px,#c6c6c6 42.5px,#c5c5c5 44.5px,#dfdfdf 52.5px,#e2e2e2 56.5px,#dfdfdf 59.5px,#d4d4d4 62.5px,#cbcbcb 64.5px,#bbbbbb 66.5px,#afafaf 67.5px,#9e9e9e 68.5px,#9f9f9f 69.5px,#b1b1b1 70.5px,#bfbfbf 71.5px,#c9c9c9 72.5px,#cfcfcf 73.5px,#d2d2d2 75px}
.b2_18{--g:#dcdcdc 0px,#dfdfdf 28.5px,#dedede 34.5px,#d2d2d2 39.5px,#cbcbcb 42.5px,#cccccc 44.5px,#e4e4e4 51.5px,#eaeaea 55.5px,#e5e5e5 59.5px,#dbdbdb 62.5px,#cacaca 65.5px,#c0c0c0 66.5px,#a2a2a2 68.5px,#ababab 69.5px,#bebebe 70.5px,#cbcbcb 71.5px,#d4d4d4 72.5px,#dadada 73.5px,#dcdcdc 75px}
.b2_19{--g:#dcdcdc 0px,#dfdfdf 28.5px,#dedede 34.5px,#d0d0d0 42.5px,#d5d5d5 45.5px,#e8e8e8 50.5px,#eeeeee 54.5px,#ededed 58.5px,#e6e6e6 61.5px,#d7d7d7 64.5px,#cfcfcf 65.5px,#c4c4c4 66.5px,#a6a6a6 68.5px,#cacaca 70.5px,#d6d6d6 71.5px,#dedede 72.5px,#e5e5e5 75px}
.b2_20{--g:#dcdcdc 0px,#dfdfdf 28.5px,#dfdfdf 34.5px,#d4d4d4 42.5px,#dadada 45.5px,#ececec 50.5px,#f2f2f2 54.5px,#f1f1f1 58.5px,#eaeaea 61.5px,#dbdbdb 64.5px,#d3d3d3 65.5px,#c7c7c7 66.5px,#b7b7b7 67.5px,#afafaf 68.5px,#c6c6c6 69.5px,#d6d6d6 70.5px,#e0e0e0 71.5px,#ebebeb 73.5px,#ececec 75px}
.b2_21{--g:#dcdcdc 0px,#dfdfdf 28.5px,#dedede 35.5px,#d7d7d7 41.5px,#dcdcdc 44.5px,#f0f0f0 50.5px,#f6f6f6 55.5px,#f2f2f2 59.5px,#ebebeb 62.5px,#e0e0e0 64.5px,#d7d7d7 65.5px,#cacaca 66.5px,#b8b8b8 67.5px,#bebebe 68.5px,#d3d3d3 69.5px,#e1e1e1 70.5px,#e9e9e9 71.5px,#f1f1f1 73.5px,#f2f2f2 75px}
.b2_22{--g:#dcdcdc 0px,#dfdfdf 28.5px,#dfdfdf 35.5px,#dbdbdb 41.5px,#e0e0e0 44.5px,#f4f4f4 50.5px,#f8f8f8 55.5px,#f6f6f6 59.5px,#eeeeee 62.5px,#e4e4e4 64.5px,#dadada 65.5px,#cdcdcd 66.5px,#b9b9b9 67.5px,#dedede 69.5px,#e9e9e9 70.5px,#f4f4f4 72.5px,#f7f7f7 75px}
.b2_23{--g:#dcdcdc 0px,#dfdfdf 28.5px,#dfdfdf 36.5px,#dddddd 41.5px,#e4e4e4 44.5px,#f4f4f4 49.5px,#fafafa 54.5px,#f8f8f8 59.5px,#f1f1f1 62.5px,#e6e6e6 64.5px,#dddddd 65.5px,#cfcfcf 66.5px,#c5c5c5 67.5px,#d9d9d9 68.5px,#e8e8e8 69.5px,#f0f0f0 70.5px,#f8f8f8 72.5px,#fafafa 75px}
.b2_24{--g:#dcdcdc 0px,#dfdfdf 28.5px,#e0e0e0 37.5px,#e0e0e0 41.5px,#ebebeb 45.5px,#f6f6f6 49.5px,#fbfbfb 55.5px,#f8f8f8 60.5px,#f4f4f4 62.5px,#e9e9e9 64.5px,#dfdfdf 65.5px,#d0d0d0 66.5px,#d3d3d3 67.5px,#e5e5e5 68.5px,#efefef 69.5px,#f6f6f6 70.5px,#fcfcfc 73.5px,#fcfcfc 75px}
.b2_25{--g:#dcdcdc 0px,#dfdfdf 28.5px,#e3e3e3 41.5px,#f8f8f8 49.5px,#fcfcfc 55.5px,#fafafa 60.5px,#f2f2f2 63.5px,#ececec 64.5px,#e1e1e1 65.5px,#d4d4d4 66.5px,#dfdfdf 67.5px,#ededed 68.5px,#f5f5f5 69.5px,#fbfbfb 71.5px,#fdfdfd 75px}
.b2_26{--g:#dcdcdc 0px,#dfdfdf 28.5px,#e3e3e3 40.5px,#ededed 44.5px,#fafafa 49.5px,#fdfdfd 56.5px,#fafafa 61.5px,#f3f3f3 63.5px,#ededed 64.5px,#e3e3e3 65.5px,#dddddd 66.5px,#eaeaea 67.5px,#f4f4f4 68.5px,#fcfcfc 70.5px,#fefefe 75px}
.b2_27{--g:#dcdcdc 0px,#dfdfdf 28.5px,#e5e5e5 40.5px,#f2f2f2 45.5px,#fbfbfb 49.5px,#fdfdfd 57.5px,#fbfbfb 61.5px,#f5f5f5 63.5px,#efefef 64.5px,#e4e4e4 65.5px,#e4e4e4 66.5px,#f2f2f2 67.5px,#f8f8f8 68.5px,#fefefe 71.5px,#ffffff 75px}
.b2_28{--g:#dcdcdc 0px,#dfdfdf 28.5px,#e7e7e7 40.5px,#fbfbfb 48.5px,#fefefe 56.5px,#fcfcfc 61.5px,#f6f6f6 63.5px,#e7e7e7 65.5px,#eeeeee 66.5px,#f7f7f7 67.5px,#fdfdfd 69.5px,#ffffff 75px}
.b2_29{--g:#dcdcdc 0px,#dfdfdf 28.5px,#e6e6e6 39.5px,#fbfbfb 48.5px,#fefefe 57.5px,#fbfbfb 62.5px,#f1f1f1 64.5px,#eaeaea 65.5px,#f5f5f5 66.5px,#fbfbfb 67.5px,#ffffff 70.5px,#ffffff 75px}
.b2_30{--g:#dcdcdc 0px,#dfdfdf 28.5px,#e7e7e7 39.5px,#fbfbfb 47.5px,#fefefe 54.5px,#fdfdfd 61.5px,#f8f8f8 63.5px,#f2f2f2 64.5px,#f1f1f1 65.5px,#f9f9f9 66.5px,#fefefe 68.5px,#ffffff 75px}
.b2_31{--g:#dcdcdc 0px,#dfdfdf 28.5px,#e8e8e8 39.5px,#fbfbfb 47.5px,#ffffff 55.5px,#fdfdfd 61.5px,#f8f8f8 63.5px,#f2f2f2 64.5px,#fefefe 67.5px,#ffffff 75px}
.b2_32{--g:#dcdcdc 0px,#dfdfdf 28.5px,#e7e7e7 38.5px,#fcfcfc 47.5px,#ffffff 56.5px,#fcfcfc 62.5px,#f9f9f9 63.5px,#f2f2f2 64.5px,#fdfdfd 66.5px,#ffffff 72.5px,#ffffff 75px}
.b2_33{--g:#dcdcdc 0px,#dfdfdf 28.5px,#e8e8e8 38.5px,#fcfcfc 47.5px,#ffffff 58.5px,#fcfcfc 62.5px,#f5f5f5 64.5px,#fbfbfb 65.5px,#ffffff 68.5px,#ffffff 75px}
.b2_34{--g:#dcdcdc 0px,#dfdfdf 28.5px,#e8e8e8 38.5px,#fdfdfd 47.5px,#ffffff 59.5px,#fcfcfc 62.5px,#f9f9f9 64.5px,#fefefe 66.5px,#ffffff 75px}
.b2_35{--g:#dcdcdc 0px,#dfdfdf 28.5px,#e7e7e7 37.5px,#fdfdfd 47.5px,#fefefe 60.5px,#fdfdfd 62.5px,#f9f9f9 63.5px,#ffffff 67.5px,#ffffff 75px}
.b2_36{--g:#dcdcdc 0px,#dfdfdf 28.5px,#e7e7e7 37.5px,#fcfcfc 46.5px,#ffffff 56.5px,#fdfdfd 62.5px,#fafafa 63.5px,#ffffff 66.5px,#ffffff 75px}
.b2_37{--g:#dcdcdc 0px,#dfdfdf 28.5px,#e8e8e8 37.5px,#fcfcfc 46.5px,#ffffff 57.5px,#fdfdfd 62.5px,#fbfbfb 63.5px,#ffffff 67.5px,#ffffff 75px}
.b2_38{--g:#dddddd 0px,#dfdfdf 28.5px,#e8e8e8 37.5px,#fdfdfd 46.5px,#ffffff 59.5px,#fdfdfd 63.5px,#ffffff 68.5px,#ffffff 75px}
.b2_39{--g:#dddddd 0px,#dfdfdf 28.5px,#e7e7e7 36.5px,#fcfcfc 45.5px,#ffffff 53.5px,#ffffff 75px}
.b2_40{--g:#dddddd 0px,#dfdfdf 28.5px,#e7e7e7 36.5px,#fdfdfd 45.5px,#ffffff 58.5px,#ffffff 75px}
.b2_41{--g:#dddddd 0px,#dfdfdf 28.5px,#e6e6e6 35.5px,#fcfcfc 44.5px,#ffffff 52.5px,#ffffff 75px}
.b2_42{--g:#dddddd 0px,#dfdfdf 29.5px,#e9e9e9 36.5px,#fdfdfd 44.5px,#ffffff 57.5px,#ffffff 75px}
.b2_43{--g:#dedede 0px,#e0e0e0 30.5px,#e9e9e9 36.5px,#fcfcfc 43.5px,#ffffff 49.5px,#ffffff 75px}
.b2_44{--g:#dfdfdf 0px,#e0e0e0 30.5px,#e9e9e9 36.5px,#fcfcfc 43.5px,#ffffff 50.5px,#ffffff 75px}
.b2_45{--g:#e0e0e0 0px,#e0e0e0 30.5px,#e9e9e9 36.5px,#fcfcfc 43.5px,#ffffff 50.5px,#ffffff 75px}
.b2_46{--g:#e2e2e2 0px,#e0e0e0 30.5px,#e9e9e9 36.5px,#fcfcfc 43.5px,#ffffff 51.5px,#ffffff 75px}
.b2_47{--g:#e3e3e3 0px,#e0e0e0 27.5px,#e1e1e1 31.5px,#ececec 37.5px,#fdfdfd 43.5px,#ffffff 51.5px,#ffffff 75px}
.b2_48{--g:#e4e4e4 0px,#e2e2e2 26.5px,#e0e0e0 30.5px,#e9e9e9 36.5px,#fdfdfd 43.5px,#ffffff 51.5px,#ffffff 75px}
.b2_49{--g:#e5e5e5 0px,#e3e3e3 25.5px,#e0e0e0 30.5px,#e9e9e9 36.5px,#fdfdfd 43.5px,#ffffff 51.5px,#ffffff 75px}
.b2_50{--g:#e7e7e7 0px,#e4e4e4 25.5px,#e0e0e0 30.5px,#e9e9e9 36.5px,#fdfdfd 43.5px,#ffffff 51.5px,#ffffff 75px}
.b2_51{--g:#e8e8e8 0px,#e6e6e6 24.5px,#e1e1e1 31.5px,#ececec 37.5px,#fdfdfd 43.5px,#ffffff 51.5px,#ffffff 75px}
.b2_52{--g:#eaeaea 0px,#e8e8e8 24.5px,#e1e1e1 31.5px,#ececec 37.5px,#fdfdfd 43.5px,#ffffff 51.5px,#ffffff 75px}
.b2_53{--g:#ebebeb 0px,#e9e9e9 24.5px,#e1e1e1 31.5px,#e9e9e9 36.5px,#fdfdfd 43.5px,#ffffff 51.5px,#ffffff 75px}
.b2_54{--g:#ececec 0px,#eaeaea 24.5px,#e1e1e1 31.5px,#e9e9e9 36.5px,#fdfdfd 43.5px,#ffffff 51.5px,#ffffff 75px}
.b2_55{--g:#ededed 0px,#ebebeb 24.5px,#e4e4e4 30.5px,#e2e2e2 32.5px,#ececec 37.5px,#fdfdfd 43.5px,#ffffff 51.5px,#ffffff 75px}
.b2_56{--g:#eeeeee 0px,#ececec 24.5px,#e5e5e5 30.5px,#e2e2e2 32.5px,#ececec 37.5px,#fdfdfd 43.5px,#ffffff 51.5px,#ffffff 75px}
.b2_57{--g:#f0f0f0 0px,#ededed 24.5px,#e6e6e6 30.5px,#e2e2e2 32.5px,#ececec 37.5px,#fdfdfd 43.5px,#ffffff 51.5px,#ffffff 75px}
.b2_58{--g:#f1f1f1 0px,#eeeeee 24.5px,#e7e7e7 30.5px,#e2e2e2 32.5px,#ececec 37.5px,#fdfdfd 43.5px,#ffffff 51.5px,#ffffff 75px}
.b2_59{--g:#f2f2f2 0px,#efefef 24.5px,#e8e8e8 30.5px,#e3e3e3 32.5px,#ececec 37.5px,#fdfdfd 43.5px,#ffffff 51.5px,#ffffff 75px}
.b2_60{--g:#f3f3f3 0px,#f1f1f1 24.5px,#e9e9e9 30.5px,#e3e3e3 32.5px,#e7e7e7 35.5px,#fdfdfd 43.5px,#ffffff 51.5px,#ffffff 75px}
.b2_61{--g:#f4f4f4 0px,#f2f2f2 24.5px,#ebebeb 30.5px,#e3e3e3 33.5px,#efefef 38.5px,#fdfdfd 43.5px,#ffffff 51.5px,#ffffff 75px}
.b2_62{--g:#f5f5f5 0px,#f3f3f3 24.5px,#ececec 30.5px,#e4e4e4 33.5px,#efefef 38.5px,#fdfdfd 43.5px,#ffffff 51.5px,#ffffff 75px}
.b2_63{--g:#f6f6f6 0px,#f4f4f4 25.5px,#eeeeee 30.5px,#e5e5e5 33.5px,#e9e9e9 36.5px,#fdfdfd 43.5px,#ffffff 51.5px,#ffffff 75px}
.b2_64{--g:#f7f7f7 0px,#f5f5f5 25.5px,#efefef 30.5px,#e5e5e5 34.5px,#fdfdfd 43.5px,#ffffff 51.5px,#ffffff 75px}
.b2_65{--g:#f8f8f8 0px,#f6f6f6 25.5px,#efefef 31.5px,#e6e6e6 34.5px,#f2f2f2 39.5px,#fdfdfd 43.5px,#ffffff 51.5px,#ffffff 75px}
.b2_66{--g:#f9f9f9 0px,#f7f7f7 26.5px,#f1f1f1 31.5px,#e7e7e7 34.5px,#ececec 37.5px,#fdfdfd 43.5px,#ffffff 51.5px,#ffffff 75px}
.b2_67{--g:#fafafa 0px,#f8f8f8 26.5px,#f2f2f2 31.5px,#e8e8e8 34.5px,#e7e7e7 35.5px,#fdfdfd 43.5px,#ffffff 51.5px,#ffffff 75px}
.b2_68{--g:#fbfbfb 0px,#f9f9f9 27.5px,#f2f2f2 32.5px,#e7e7e7 35.5px,#fdfdfd 43.5px,#ffffff 51.5px,#ffffff 75px}
.b2_69{--g:#fcfcfc 0px,#fafafa 27.5px,#f4f4f4 32.5px,#e8e8e8 35.5px,#fdfdfd 43.5px,#ffffff 51.5px,#ffffff 75px}
.b2_70{--g:#fcfcfc 0px,#fafafa 28.5px,#f3f3f3 33.5px,#eaeaea 35.5px,#e9e9e9 36.5px,#fdfdfd 43.5px,#ffffff 51.5px,#ffffff 75px}
.b2_71{--g:#fdfdfd 0px,#fbfbfb 28.5px,#f5f5f5 33.5px,#e9e9e9 36.5px,#fdfdfd 43.5px,#ffffff 51.5px,#ffffff 75px}
.b2_72{--g:#fdfdfd 0px,#fbfbfb 29.5px,#f7f7f7 33.5px,#ebebeb 36.5px,#efefef 38.5px,#fdfdfd 43.5px,#ffffff 51.5px,#ffffff 75px}
.b2_73{--g:#fefefe 0px,#fcfcfc 30.5px,#f6f6f6 34.5px,#eeeeee 36.5px,#ececec 37.5px,#fdfdfd 43.5px,#ffffff 51.5px,#ffffff 75px}
.b2_74{--g:#fefefe 0px,#fcfcfc 30.5px,#f8f8f8 34.5px,#ededed 37.5px,#fdfdfd 43.5px,#ffffff 51.5px,#ffffff 75px}
.b2_75{--g:#fefefe 0px,#fcfcfc 31.5px,#f7f7f7 35.5px,#eeeeee 37.5px,#f2f2f2 39.5px,#fdfdfd 43.5px,#ffffff 51.5px,#ffffff 75px}
.b2_76{--g:#ffffff 0px,#fdfdfd 32.5px,#f6f6f6 36.5px,#efefef 38.5px,#fdfdfd 43.5px,#ffffff 51.5px,#ffffff 75px}
.b2_77{--g:#ffffff 0px,#fdfdfd 32.5px,#f8f8f8 36.5px,#efefef 38.5px,#fdfdfd 43.5px,#ffffff 51.5px,#ffffff 75px}
.b2_78{--g:#ffffff 0px,#fdfdfd 33.5px,#fafafa 36.5px,#f2f2f2 38.5px,#f5f5f5 40.5px,#fefefe 44.5px,#ffffff 75px}
.b2_79{--g:#ffffff 0px,#fdfdfd 34.5px,#f9f9f9 37.5px,#f2f2f2 39.5px,#fdfdfd 43.5px,#ffffff 51.5px,#ffffff 75px}
.b2_80{--g:#ffffff 0px,#fdfdfd 35.5px,#f7f7f7 38.5px,#f4f4f4 39.5px,#fefefe 44.5px,#ffffff 75px}
.b2_81{--g:#ffffff 0px,#fefefe 35.5px,#f9f9f9 38.5px,#f5f5f5 39.5px,#f5f5f5 40.5px,#fefefe 44.5px,#ffffff 75px}
.b2_82{--g:#ffffff 0px,#fefefe 36.5px,#f6f6f6 40.5px,#fefefe 44.5px,#ffffff 75px}
.b2_83{--g:#ffffff 0px,#fdfdfd 37.5px,#f7f7f7 40.5px,#ffffff 45.5px,#ffffff 75px}
.b2_84{--g:#ffffff 0px,#fefefe 37.5px,#f8f8f8 40.5px,#fbfbfb 42.5px,#ffffff 46.5px,#ffffff 75px}
.b2_85{--g:#ffffff 0px,#fefefe 38.5px,#f8f8f8 41.5px,#ffffff 45.5px,#ffffff 75px}
.b2_86{--g:#ffffff 0px,#fdfdfd 39.5px,#f9f9f9 41.5px,#ffffff 45.5px,#ffffff 75px}
.b2_87{--g:#ffffff 0px,#fefefe 39.5px,#fbfbfb 42.5px,#ffffff 46.5px,#ffffff 75px}
.b2_88{--g:#ffffff 0px,#fefefe 40.5px,#fbfbfb 42.5px,#ffffff 46.5px,#ffffff 75px}
.b2_89{--g:#ffffff 0px,#fefefe 41.5px,#fdfdfd 43.5px,#ffffff 51.5px,#ffffff 75px}
.b2_90{--g:#ffffff 0px,#fefefe 42.5px,#ffffff 75px}
.b2_91{--g:#ffffff 0px,#ffffff 75px}
.b2_92{--g:#ffffff 0px,#ffffff 75px}
.b2_93{--g:#ffffff 0px,#ffffff 75px}
</style></head><body><div id="root">
<div style="position:absolute;left:65px;top:147px;width:150px;height:150px;--hw:75px"><i class="m0_0" style="top:0px;height:25px"></i><i class="m0_0" style="top:125px;height:25px"></i><i class="m0_1" style="top:25px;height:4px"></i><i class="m0_1" style="top:121px;height:4px"></i><i class="m0_2" style="top:29px;height:2px"></i><i class="m0_2" style="top:119px;height:2px"></i><i class="m0_3" style="top:31px;height:2px"></i><i class="m0_3" style="top:117px;height:2px"></i><i class="m0_4" style="top:33px;height:1px"></i><i class="m0_4" style="top:116px;height:1px"></i><i class="m0_5" style="top:34px;height:1px"></i><i class="m0_5" style="top:115px;height:1px"></i><i class="m0_6" style="top:35px;height:1px"></i><i class="m0_6" style="top:114px;height:1px"></i><i class="m0_7" style="top:36px;height:1px"></i><i class="m0_7" style="top:113px;height:1px"></i><i class="m0_8" style="top:37px;height:1px"></i><i class="m0_8" style="top:112px;height:1px"></i><i class="m0_9" style="top:38px;height:1px"></i><i class="m0_9" style="top:111px;height:1px"></i><i class="m0_10" style="top:39px;height:1px"></i><i class="m0_10" style="top:110px;height:1px"></i><i class="m0_11" style="top:40px;height:1px"></i><i class="m0_11" style="top:109px;height:1px"></i><i class="m0_12" style="top:41px;height:1px"></i><i class="m0_12" style="top:108px;height:1px"></i><i class="m0_13" style="top:42px;height:1px"></i><i class="m0_13" style="top:107px;height:1px"></i><i class="m0_14" style="top:43px;height:1px"></i><i class="m0_14" style="top:106px;height:1px"></i><i class="m0_15" style="top:44px;height:1px"></i><i class="m0_15" style="top:105px;height:1px"></i><i class="m0_16" style="top:45px;height:1px"></i><i class="m0_16" style="top:104px;height:1px"></i><i class="m0_17" style="top:46px;height:1px"></i><i class="m0_17" style="top:103px;height:1px"></i><i class="m0_18" style="top:47px;height:1px"></i><i class="m0_18" style="top:102px;height:1px"></i><i class="m0_19" style="top:48px;height:1px"></i><i class="m0_19" style="top:101px;height:1px"></i><i class="m0_20" style="top:49px;height:1px"></i><i class="m0_20" style="top:100px;height:1px"></i><i class="m0_21" style="top:50px;height:1px"></i><i class="m0_21" style="top:99px;height:1px"></i><i class="m0_22" style="top:51px;height:1px"></i><i class="m0_22" style="top:98px;height:1px"></i><i class="m0_23" style="top:52px;height:1px"></i><i class="m0_23" style="top:97px;height:1px"></i><i class="m0_24" style="top:53px;height:1px"></i><i class="m0_24" style="top:96px;height:1px"></i><i class="m0_25" style="top:54px;height:1px"></i><i class="m0_25" style="top:95px;height:1px"></i><i class="m0_26" style="top:55px;height:1px"></i><i class="m0_26" style="top:94px;height:1px"></i><i class="m0_27" style="top:56px;height:1px"></i><i class="m0_27" style="top:93px;height:1px"></i><i class="m0_28" style="top:57px;height:1px"></i><i class="m0_28" style="top:92px;height:1px"></i><i class="m0_29" style="top:58px;height:1px"></i><i class="m0_29" style="top:91px;height:1px"></i><i class="m0_30" style="top:59px;height:1px"></i><i class="m0_30" style="top:90px;height:1px"></i><i class="m0_31" style="top:60px;height:1px"></i><i class="m0_31" style="top:89px;height:1px"></i><i class="m0_32" style="top:61px;height:1px"></i><i class="m0_32" style="top:88px;height:1px"></i><i class="m0_33" style="top:62px;height:1px"></i><i class="m0_33" style="top:87px;height:1px"></i><i class="m0_34" style="top:63px;height:1px"></i><i class="m0_34" style="top:86px;height:1px"></i><i class="m0_35" style="top:64px;height:1px"></i><i class="m0_35" style="top:85px;height:1px"></i><i class="m0_36" style="top:65px;height:1px"></i><i class="m0_36" style="top:84px;height:1px"></i><i class="m0_37" style="top:66px;height:1px"></i><i class="m0_37" style="top:83px;height:1px"></i><i class="m0_38" style="top:67px;height:1px"></i><i class="m0_38" style="top:82px;height:1px"></i><i class="m0_39" style="top:68px;height:1px"></i><i class="m0_39" style="top:81px;height:1px"></i><i class="m0_40" style="top:69px;height:1px"></i><i class="m0_40" style="top:80px;height:1px"></i><i class="m0_41" style="top:70px;height:1px"></i><i class="m0_41" style="top:79px;height:1px"></i><i class="m0_42" style="top:71px;height:1px"></i><i class="m0_42" style="top:78px;height:1px"></i><i class="m0_43" style="top:72px;height:1px"></i><i class="m0_43" style="top:77px;height:1px"></i><i class="m0_44" style="top:73px;height:1px"></i><i class="m0_44" style="top:76px;height:1px"></i><i class="m0_45" style="top:74px;height:1px"></i><i class="m0_45" style="top:75px;height:1px"></i></div>
<div style="position:absolute;left:314px;top:147px;width:150px;height:150px;--hw:75px"><i class="m1_0" style="top:0px;height:21px"></i><i class="m1_0" style="top:129px;height:21px"></i><i class="m1_1" style="top:21px;height:3px"></i><i class="m1_1" style="top:126px;height:3px"></i><i class="m1_2" style="top:24px;height:2px"></i><i class="m1_2" style="top:124px;height:2px"></i><i class="m1_3" style="top:26px;height:2px"></i><i class="m1_3" style="top:122px;height:2px"></i><i class="m1_4" style="top:28px;height:1px"></i><i class="m1_4" style="top:121px;height:1px"></i><i class="m1_5" style="top:29px;height:1px"></i><i class="m1_5" style="top:120px;height:1px"></i><i class="m1_6" style="top:30px;height:1px"></i><i class="m1_6" style="top:119px;height:1px"></i><i class="m1_7" style="top:31px;height:1px"></i><i class="m1_7" style="top:118px;height:1px"></i><i class="m1_8" style="top:32px;height:1px"></i><i class="m1_8" style="top:117px;height:1px"></i><i class="m1_9" style="top:33px;height:1px"></i><i class="m1_9" style="top:116px;height:1px"></i><i class="m1_10" style="top:34px;height:1px"></i><i class="m1_10" style="top:115px;height:1px"></i><i class="m1_11" style="top:35px;height:1px"></i><i class="m1_11" style="top:114px;height:1px"></i><i class="m1_12" style="top:36px;height:1px"></i><i class="m1_12" style="top:113px;height:1px"></i><i class="m1_13" style="top:37px;height:1px"></i><i class="m1_13" style="top:112px;height:1px"></i><i class="m1_14" style="top:38px;height:1px"></i><i class="m1_14" style="top:111px;height:1px"></i><i class="m1_15" style="top:39px;height:1px"></i><i class="m1_15" style="top:110px;height:1px"></i><i class="m1_16" style="top:40px;height:1px"></i><i class="m1_16" style="top:109px;height:1px"></i><i class="m1_17" style="top:41px;height:1px"></i><i class="m1_17" style="top:108px;height:1px"></i><i class="m1_18" style="top:42px;height:1px"></i><i class="m1_18" style="top:107px;height:1px"></i><i class="m1_19" style="top:43px;height:1px"></i><i class="m1_19" style="top:106px;height:1px"></i><i class="m1_20" style="top:44px;height:1px"></i><i class="m1_20" style="top:105px;height:1px"></i><i class="m1_21" style="top:45px;height:1px"></i><i class="m1_21" style="top:104px;height:1px"></i><i class="m1_22" style="top:46px;height:1px"></i><i class="m1_22" style="top:103px;height:1px"></i><i class="m1_23" style="top:47px;height:1px"></i><i class="m1_23" style="top:102px;height:1px"></i><i class="m1_24" style="top:48px;height:1px"></i><i class="m1_24" style="top:101px;height:1px"></i><i class="m1_25" style="top:49px;height:1px"></i><i class="m1_25" style="top:100px;height:1px"></i><i class="m1_26" style="top:50px;height:1px"></i><i class="m1_26" style="top:99px;height:1px"></i><i class="m1_27" style="top:51px;height:1px"></i><i class="m1_27" style="top:98px;height:1px"></i><i class="m1_28" style="top:52px;height:1px"></i><i class="m1_28" style="top:97px;height:1px"></i><i class="m1_29" style="top:53px;height:1px"></i><i class="m1_29" style="top:96px;height:1px"></i><i class="m1_30" style="top:54px;height:1px"></i><i class="m1_30" style="top:95px;height:1px"></i><i class="m1_31" style="top:55px;height:1px"></i><i class="m1_31" style="top:94px;height:1px"></i><i class="m1_32" style="top:56px;height:1px"></i><i class="m1_32" style="top:93px;height:1px"></i><i class="m1_33" style="top:57px;height:1px"></i><i class="m1_33" style="top:92px;height:1px"></i><i class="m1_34" style="top:58px;height:1px"></i><i class="m1_34" style="top:91px;height:1px"></i><i class="m1_35" style="top:59px;height:1px"></i><i class="m1_35" style="top:90px;height:1px"></i><i class="m1_36" style="top:60px;height:1px"></i><i class="m1_36" style="top:89px;height:1px"></i><i class="m1_37" style="top:61px;height:1px"></i><i class="m1_37" style="top:88px;height:1px"></i><i class="m1_38" style="top:62px;height:1px"></i><i class="m1_38" style="top:87px;height:1px"></i><i class="m1_39" style="top:63px;height:1px"></i><i class="m1_39" style="top:86px;height:1px"></i><i class="m1_40" style="top:64px;height:1px"></i><i class="m1_40" style="top:85px;height:1px"></i><i class="m1_41" style="top:65px;height:1px"></i><i class="m1_41" style="top:84px;height:1px"></i><i class="m1_42" style="top:66px;height:1px"></i><i class="m1_42" style="top:83px;height:1px"></i><i class="m1_43" style="top:67px;height:1px"></i><i class="m1_43" style="top:82px;height:1px"></i><i class="m1_44" style="top:68px;height:1px"></i><i class="m1_44" style="top:81px;height:1px"></i><i class="m1_45" style="top:69px;height:1px"></i><i class="m1_45" style="top:80px;height:1px"></i><i class="m1_46" style="top:70px;height:1px"></i><i class="m1_46" style="top:79px;height:1px"></i><i class="m1_47" style="top:71px;height:1px"></i><i class="m1_47" style="top:78px;height:1px"></i><i class="m1_48" style="top:72px;height:1px"></i><i class="m1_48" style="top:77px;height:1px"></i><i class="m1_49" style="top:73px;height:1px"></i><i class="m1_49" style="top:76px;height:1px"></i><i class="m1_50" style="top:74px;height:1px"></i><i class="m1_50" style="top:75px;height:1px"></i></div>
<div style="position:absolute;left:566px;top:147px;width:150px;height:150px;--hw:75px"><i class="m2_0" style="top:0px;height:21px"></i><i class="m2_0" style="top:129px;height:21px"></i><i class="m2_1" style="top:21px;height:3px"></i><i class="m2_1" style="top:126px;height:3px"></i><i class="m2_2" style="top:24px;height:2px"></i><i class="m2_2" style="top:124px;height:2px"></i><i class="m2_3" style="top:26px;height:1px"></i><i class="m2_3" style="top:123px;height:1px"></i><i class="m2_4" style="top:27px;height:1px"></i><i class="m2_4" style="top:122px;height:1px"></i><i class="m2_5" style="top:28px;height:1px"></i><i class="m2_5" style="top:121px;height:1px"></i><i class="m2_6" style="top:29px;height:1px"></i><i class="m2_6" style="top:120px;height:1px"></i><i class="m2_7" style="top:30px;height:1px"></i><i class="m2_7" style="top:119px;height:1px"></i><i class="m2_8" style="top:31px;height:1px"></i><i class="m2_8" style="top:118px;height:1px"></i><i class="m2_9" style="top:32px;height:1px"></i><i class="m2_9" style="top:117px;height:1px"></i><i class="m2_10" style="top:33px;height:1px"></i><i class="m2_10" style="top:116px;height:1px"></i><i class="m2_11" style="top:34px;height:1px"></i><i class="m2_11" style="top:115px;height:1px"></i><i class="m2_12" style="top:35px;height:1px"></i><i class="m2_12" style="top:114px;height:1px"></i><i class="m2_13" style="top:36px;height:1px"></i><i class="m2_13" style="top:113px;height:1px"></i><i class="m2_14" style="top:37px;height:1px"></i><i class="m2_14" style="top:112px;height:1px"></i><i class="m2_15" style="top:38px;height:1px"></i><i class="m2_15" style="top:111px;height:1px"></i><i class="m2_16" style="top:39px;height:1px"></i><i class="m2_16" style="top:110px;height:1px"></i><i class="m2_17" style="top:40px;height:1px"></i><i class="m2_17" style="top:109px;height:1px"></i><i class="m2_18" style="top:41px;height:1px"></i><i class="m2_18" style="top:108px;height:1px"></i><i class="m2_19" style="top:42px;height:1px"></i><i class="m2_19" style="top:107px;height:1px"></i><i class="m2_20" style="top:43px;height:1px"></i><i class="m2_20" style="top:106px;height:1px"></i><i class="m2_21" style="top:44px;height:1px"></i><i class="m2_21" style="top:105px;height:1px"></i><i class="m2_22" style="top:45px;height:1px"></i><i class="m2_22" style="top:104px;height:1px"></i><i class="m2_23" style="top:46px;height:1px"></i><i class="m2_23" style="top:103px;height:1px"></i><i class="m2_24" style="top:47px;height:1px"></i><i class="m2_24" style="top:102px;height:1px"></i><i class="m2_25" style="top:48px;height:1px"></i><i class="m2_25" style="top:101px;height:1px"></i><i class="m2_26" style="top:49px;height:1px"></i><i class="m2_26" style="top:100px;height:1px"></i><i class="m2_27" style="top:50px;height:1px"></i><i class="m2_27" style="top:99px;height:1px"></i><i class="m2_28" style="top:51px;height:1px"></i><i class="m2_28" style="top:98px;height:1px"></i><i class="m2_29" style="top:52px;height:1px"></i><i class="m2_29" style="top:97px;height:1px"></i><i class="m2_30" style="top:53px;height:1px"></i><i class="m2_30" style="top:96px;height:1px"></i><i class="m2_31" style="top:54px;height:1px"></i><i class="m2_31" style="top:95px;height:1px"></i><i class="m2_32" style="top:55px;height:1px"></i><i class="m2_32" style="top:94px;height:1px"></i><i class="m2_33" style="top:56px;height:1px"></i><i class="m2_33" style="top:93px;height:1px"></i><i class="m2_34" style="top:57px;height:1px"></i><i class="m2_34" style="top:92px;height:1px"></i><i class="m2_35" style="top:58px;height:1px"></i><i class="m2_35" style="top:91px;height:1px"></i><i class="m2_36" style="top:59px;height:1px"></i><i class="m2_36" style="top:90px;height:1px"></i><i class="m2_37" style="top:60px;height:1px"></i><i class="m2_37" style="top:89px;height:1px"></i><i class="m2_38" style="top:61px;height:1px"></i><i class="m2_38" style="top:88px;height:1px"></i><i class="m2_39" style="top:62px;height:1px"></i><i class="m2_39" style="top:87px;height:1px"></i><i class="m2_40" style="top:63px;height:1px"></i><i class="m2_40" style="top:86px;height:1px"></i><i class="m2_41" style="top:64px;height:1px"></i><i class="m2_41" style="top:85px;height:1px"></i><i class="m2_42" style="top:65px;height:1px"></i><i class="m2_42" style="top:84px;height:1px"></i><i class="m2_43" style="top:66px;height:1px"></i><i class="m2_43" style="top:83px;height:1px"></i><i class="m2_44" style="top:67px;height:1px"></i><i class="m2_44" style="top:82px;height:1px"></i><i class="m2_45" style="top:68px;height:1px"></i><i class="m2_45" style="top:81px;height:1px"></i><i class="m2_46" style="top:69px;height:1px"></i><i class="m2_46" style="top:80px;height:1px"></i><i class="m2_47" style="top:70px;height:1px"></i><i class="m2_47" style="top:79px;height:1px"></i><i class="m2_48" style="top:71px;height:1px"></i><i class="m2_48" style="top:78px;height:1px"></i><i class="m2_49" style="top:72px;height:1px"></i><i class="m2_49" style="top:77px;height:1px"></i><i class="m2_50" style="top:73px;height:1px"></i><i class="m2_50" style="top:76px;height:1px"></i><i class="m2_51" style="top:74px;height:1px"></i><i class="m2_51" style="top:75px;height:1px"></i></div>
<div style="position:absolute;left:65px;top:311px;width:150px;height:150px;--hw:75px"><i class="b0_0" style="top:0px;height:3px"></i><i class="b0_1" style="top:3px;height:1px"></i><i class="b0_2" style="top:4px;height:1px"></i><i class="b0_3" style="top:5px;height:1px"></i><i class="b0_4" style="top:6px;height:1px"></i><i class="b0_5" style="top:7px;height:1px"></i><i class="b0_6" style="top:8px;height:1px"></i><i class="b0_7" style="top:9px;height:1px"></i><i class="b0_8" style="top:10px;height:1px"></i><i class="b0_9" style="top:11px;height:1px"></i><i class="b0_10" style="top:12px;height:1px"></i><i class="b0_11" style="top:13px;height:1px"></i><i class="b0_12" style="top:14px;height:1px"></i><i class="b0_13" style="top:15px;height:1px"></i><i class="b0_14" style="top:16px;height:1px"></i><i class="b0_15" style="top:17px;height:1px"></i><i class="b0_16" style="top:18px;height:1px"></i><i class="b0_17" style="top:19px;height:1px"></i><i class="b0_18" style="top:20px;height:1px"></i><i class="b0_19" style="top:21px;height:1px"></i><i class="b0_20" style="top:22px;height:1px"></i><i class="b0_21" style="top:23px;height:1px"></i><i class="b0_22" style="top:24px;height:1px"></i><i class="b0_23" style="top:25px;height:1px"></i><i class="b0_24" style="top:26px;height:1px"></i><i class="b0_25" style="top:27px;height:1px"></i><i class="b0_26" style="top:28px;height:1px"></i><i class="b0_27" style="top:29px;height:1px"></i><i class="b0_28" style="top:30px;height:1px"></i><i class="b0_29" style="top:31px;height:1px"></i><i class="b0_30" style="top:32px;height:1px"></i><i class="b0_31" style="top:33px;height:1px"></i><i class="b0_32" style="top:34px;height:1px"></i><i class="b0_33" style="top:35px;height:1px"></i><i class="b0_34" style="top:36px;height:1px"></i><i class="b0_35" style="top:37px;height:1px"></i><i class="b0_36" style="top:38px;height:1px"></i><i class="b0_37" style="top:39px;height:1px"></i><i class="b0_38" style="top:40px;height:1px"></i><i class="b0_39" style="top:41px;height:1px"></i><i class="b0_40" style="top:42px;height:1px"></i><i class="b0_41" style="top:43px;height:1px"></i><i class="b0_42" style="top:44px;height:1px"></i><i class="b0_43" style="top:45px;height:1px"></i><i class="b0_44" style="top:46px;height:1px"></i><i class="b0_45" style="top:47px;height:1px"></i><i class="b0_46" style="top:48px;height:1px"></i><i class="b0_47" style="top:49px;height:1px"></i><i class="b0_48" style="top:50px;height:1px"></i><i class="b0_49" style="top:51px;height:1px"></i><i class="b0_50" style="top:52px;height:1px"></i><i class="b0_51" style="top:53px;height:1px"></i><i class="b0_52" style="top:54px;height:1px"></i><i class="b0_53" style="top:55px;height:1px"></i><i class="b0_54" style="top:56px;height:1px"></i><i class="b0_55" style="top:57px;height:1px"></i><i class="b0_56" style="top:58px;height:1px"></i><i class="b0_57" style="top:59px;height:1px"></i><i class="b0_58" style="top:60px;height:1px"></i><i class="b0_59" style="top:61px;height:1px"></i><i class="b0_60" style="top:62px;height:1px"></i><i class="b0_61" style="top:63px;height:1px"></i><i class="b0_62" style="top:64px;height:1px"></i><i class="b0_63" style="top:65px;height:1px"></i><i class="b0_64" style="top:66px;height:1px"></i><i class="b0_65" style="top:67px;height:1px"></i><i class="b0_66" style="top:68px;height:1px"></i><i class="b0_67" style="top:69px;height:1px"></i><i class="b0_68" style="top:70px;height:1px"></i><i class="b0_69" style="top:71px;height:1px"></i><i class="b0_70" style="top:72px;height:1px"></i><i class="b0_71" style="top:73px;height:1px"></i><i class="b0_72" style="top:74px;height:1px"></i><i class="b0_73" style="top:75px;height:2px"></i><i class="b0_74" style="top:77px;height:2px"></i><i class="b0_75" style="top:79px;height:2px"></i><i class="b0_76" style="top:81px;height:2px"></i><i class="b0_77" style="top:83px;height:1px"></i><i class="b0_78" style="top:84px;height:1px"></i><i class="b0_79" style="top:85px;height:1px"></i><i class="b0_80" style="top:86px;height:1px"></i><i class="b0_81" style="top:87px;height:1px"></i><i class="b0_82" style="top:88px;height:1px"></i><i class="b0_83" style="top:89px;height:1px"></i><i class="b0_84" style="top:90px;height:1px"></i><i class="b0_85" style="top:91px;height:1px"></i><i class="b0_86" style="top:92px;height:1px"></i><i class="b0_87" style="top:93px;height:1px"></i><i class="b0_88" style="top:94px;height:1px"></i><i class="b0_89" style="top:95px;height:1px"></i><i class="b0_90" style="top:96px;height:1px"></i><i class="b0_91" style="top:97px;height:1px"></i><i class="b0_92" style="top:98px;height:1px"></i><i class="b0_93" style="top:99px;height:1px"></i><i class="b0_94" style="top:100px;height:1px"></i><i class="b0_95" style="top:101px;height:1px"></i><i class="b0_96" style="top:102px;height:1px"></i><i class="b0_97" style="top:103px;height:1px"></i><i class="b0_98" style="top:104px;height:1px"></i><i class="b0_99" style="top:105px;height:1px"></i><i class="b0_100" style="top:106px;height:1px"></i><i class="b0_101" style="top:107px;height:1px"></i><i class="b0_102" style="top:108px;height:1px"></i><i class="b0_103" style="top:109px;height:1px"></i><i class="b0_104" style="top:110px;height:1px"></i><i class="b0_105" style="top:111px;height:1px"></i><i class="b0_106" style="top:112px;height:1px"></i><i class="b0_107" style="top:113px;height:1px"></i><i class="b0_108" style="top:114px;height:1px"></i><i class="b0_109" style="top:115px;height:1px"></i><i class="b0_110" style="top:116px;height:1px"></i><i class="b0_111" style="top:117px;height:1px"></i><i class="b0_112" style="top:118px;height:1px"></i><i class="b0_113" style="top:119px;height:1px"></i><i class="b0_114" style="top:120px;height:1px"></i><i class="b0_115" style="top:121px;height:1px"></i><i class="b0_116" style="top:122px;height:1px"></i><i class="b0_117" style="top:123px;height:1px"></i><i class="b0_118" style="top:124px;height:1px"></i><i class="b0_119" style="top:125px;height:1px"></i><i class="b0_120" style="top:126px;height:1px"></i><i class="b0_121" style="top:127px;height:1px"></i><i class="b0_122" style="top:128px;height:1px"></i><i class="b0_123" style="top:129px;height:1px"></i><i class="b0_124" style="top:130px;height:1px"></i><i class="b0_125" style="top:131px;height:1px"></i><i class="b0_126" style="top:132px;height:1px"></i><i class="b0_127" style="top:133px;height:1px"></i><i class="b0_128" style="top:134px;height:1px"></i><i class="b0_129" style="top:135px;height:1px"></i><i class="b0_130" style="top:136px;height:1px"></i><i class="b0_131" style="top:137px;height:1px"></i><i class="b0_132" style="top:138px;height:2px"></i><i class="b0_133" style="top:140px;height:2px"></i><i class="b0_134" style="top:142px;height:2px"></i><i class="b0_135" style="top:144px;height:6px"></i></div>
<div style="position:absolute;left:314px;top:311px;width:150px;height:150px;--hw:75px"><i class="b1_0" style="top:0px;height:1px"></i><i class="b1_1" style="top:1px;height:1px"></i><i class="b1_2" style="top:2px;height:1px"></i><i class="b1_3" style="top:3px;height:1px"></i><i class="b1_4" style="top:4px;height:1px"></i><i class="b1_5" style="top:5px;height:1px"></i><i class="b1_6" style="top:6px;height:1px"></i><i class="b1_7" style="top:7px;height:1px"></i><i class="b1_8" style="top:8px;height:1px"></i><i class="b1_9" style="top:9px;height:1px"></i><i class="b1_10" style="top:10px;height:1px"></i><i class="b1_11" style="top:11px;height:1px"></i><i class="b1_12" style="top:12px;height:1px"></i><i class="b1_13" style="top:13px;height:1px"></i><i class="b1_14" style="top:14px;height:1px"></i><i class="b1_15" style="top:15px;height:1px"></i><i class="b1_16" style="top:16px;height:1px"></i><i class="b1_17" style="top:17px;height:1px"></i><i class="b1_18" style="top:18px;height:1px"></i><i class="b1_19" style="top:19px;height:1px"></i><i class="b1_20" style="top:20px;height:1px"></i><i class="b1_21" style="top:21px;height:1px"></i><i class="b1_22" style="top:22px;height:1px"></i><i class="b1_23" style="top:23px;height:1px"></i><i class="b1_24" style="top:24px;height:1px"></i><i class="b1_25" style="top:25px;height:1px"></i><i class="b1_26" style="top:26px;height:1px"></i><i class="b1_27" style="top:27px;height:1px"></i><i class="b1_28" style="top:28px;height:1px"></i><i class="b1_29" style="top:29px;height:1px"></i><i class="b1_30" style="top:30px;height:1px"></i><i class="b1_31" style="top:31px;height:1px"></i><i class="b1_32" style="top:32px;height:1px"></i><i class="b1_33" style="top:33px;height:1px"></i><i class="b1_34" style="top:34px;height:1px"></i><i class="b1_35" style="top:35px;height:1px"></i><i class="b1_36" style="top:36px;height:1px"></i><i class="b1_37" style="top:37px;height:1px"></i><i class="b1_38" style="top:38px;height:1px"></i><i class="b1_39" style="top:39px;height:1px"></i><i class="b1_40" style="top:40px;height:1px"></i><i class="b1_41" style="top:41px;height:1px"></i><i class="b1_42" style="top:42px;height:1px"></i><i class="b1_43" style="top:43px;height:1px"></i><i class="b1_44" style="top:44px;height:1px"></i><i class="b1_45" style="top:45px;height:1px"></i><i class="b1_46" style="top:46px;height:1px"></i><i class="b1_47" style="top:47px;height:1px"></i><i class="b1_48" style="top:48px;height:1px"></i><i class="b1_49" style="top:49px;height:1px"></i><i class="b1_50" style="top:50px;height:1px"></i><i class="b1_51" style="top:51px;height:1px"></i><i class="b1_52" style="top:52px;height:1px"></i><i class="b1_53" style="top:53px;height:1px"></i><i class="b1_54" style="top:54px;height:1px"></i><i class="b1_55" style="top:55px;height:1px"></i><i class="b1_56" style="top:56px;height:1px"></i><i class="b1_57" style="top:57px;height:1px"></i><i class="b1_58" style="top:58px;height:1px"></i><i class="b1_59" style="top:59px;height:1px"></i><i class="b1_60" style="top:60px;height:2px"></i><i class="b1_61" style="top:62px;height:2px"></i><i class="b1_62" style="top:64px;height:3px"></i><i class="b1_63" style="top:67px;height:5px"></i><i class="b1_64" style="top:72px;height:4px"></i><i class="b1_65" style="top:76px;height:3px"></i><i class="b1_66" style="top:79px;height:2px"></i><i class="b1_67" style="top:81px;height:2px"></i><i class="b1_68" style="top:83px;height:2px"></i><i class="b1_69" style="top:85px;height:2px"></i><i class="b1_70" style="top:87px;height:2px"></i><i class="b1_71" style="top:89px;height:2px"></i><i class="b1_72" style="top:91px;height:1px"></i><i class="b1_73" style="top:92px;height:1px"></i><i class="b1_74" style="top:93px;height:1px"></i><i class="b1_75" style="top:94px;height:1px"></i><i class="b1_76" style="top:95px;height:1px"></i><i class="b1_77" style="top:96px;height:1px"></i><i class="b1_78" style="top:97px;height:1px"></i><i class="b1_79" style="top:98px;height:1px"></i><i class="b1_80" style="top:99px;height:1px"></i><i class="b1_81" style="top:100px;height:1px"></i><i class="b1_82" style="top:101px;height:1px"></i><i class="b1_83" style="top:102px;height:1px"></i><i class="b1_84" style="top:103px;height:1px"></i><i class="b1_85" style="top:104px;height:1px"></i><i class="b1_86" style="top:105px;height:1px"></i><i class="b1_87" style="top:106px;height:1px"></i><i class="b1_88" style="top:107px;height:1px"></i><i class="b1_89" style="top:108px;height:1px"></i><i class="b1_90" style="top:109px;height:1px"></i><i class="b1_91" style="top:110px;height:1px"></i><i class="b1_92" style="top:111px;height:1px"></i><i class="b1_93" style="top:112px;height:1px"></i><i class="b1_94" style="top:113px;height:1px"></i><i class="b1_95" style="top:114px;height:1px"></i><i class="b1_96" style="top:115px;height:1px"></i><i class="b1_97" style="top:116px;height:1px"></i><i class="b1_98" style="top:117px;height:1px"></i><i class="b1_99" style="top:118px;height:1px"></i><i class="b1_100" style="top:119px;height:1px"></i><i class="b1_101" style="top:120px;height:1px"></i><i class="b1_102" style="top:121px;height:1px"></i><i class="b1_103" style="top:122px;height:1px"></i><i class="b1_104" style="top:123px;height:1px"></i><i class="b1_105" style="top:124px;height:1px"></i><i class="b1_106" style="top:125px;height:1px"></i><i class="b1_107" style="top:126px;height:1px"></i><i class="b1_108" style="top:127px;height:1px"></i><i class="b1_109" style="top:128px;height:1px"></i><i class="b1_110" style="top:129px;height:1px"></i><i class="b1_111" style="top:130px;height:1px"></i><i class="b1_112" style="top:131px;height:1px"></i><i class="b1_113" style="top:132px;height:1px"></i><i class="b1_114" style="top:133px;height:1px"></i><i class="b1_115" style="top:134px;height:1px"></i><i class="b1_116" style="top:135px;height:1px"></i><i class="b1_117" style="top:136px;height:1px"></i><i class="b1_118" style="top:137px;height:1px"></i><i class="b1_119" style="top:138px;height:1px"></i><i class="b1_120" style="top:139px;height:1px"></i><i class="b1_121" style="top:140px;height:1px"></i><i class="b1_122" style="top:141px;height:1px"></i><i class="b1_123" style="top:142px;height:1px"></i><i class="b1_124" style="top:143px;height:1px"></i><i class="b1_125" style="top:144px;height:2px"></i><i class="b1_126" style="top:146px;height:2px"></i><i class="b1_127" style="top:148px;height:2px"></i></div>
<div style="position:absolute;left:566px;top:311px;width:150px;height:150px;--hw:75px"><i class="b2_0" style="top:0px;height:1px"></i><i class="b2_1" style="top:1px;height:1px"></i><i class="b2_2" style="top:2px;height:1px"></i><i class="b2_3" style="top:3px;height:1px"></i><i class="b2_4" style="top:4px;height:1px"></i><i class="b2_5" style="top:5px;height:1px"></i><i class="b2_6" style="top:6px;height:1px"></i><i class="b2_7" style="top:7px;height:1px"></i><i class="b2_8" style="top:8px;height:1px"></i><i class="b2_9" style="top:9px;height:1px"></i><i class="b2_10" style="top:10px;height:1px"></i><i class="b2_11" style="top:11px;height:1px"></i><i class="b2_12" style="top:12px;height:1px"></i><i class="b2_13" style="top:13px;height:1px"></i><i class="b2_14" style="top:14px;height:1px"></i><i class="b2_15" style="top:15px;height:1px"></i><i class="b2_16" style="top:16px;height:1px"></i><i class="b2_17" style="top:17px;height:1px"></i><i class="b2_18" style="top:18px;height:1px"></i><i class="b2_19" style="top:19px;height:1px"></i><i class="b2_20" style="top:20px;height:1px"></i><i class="b2_21" style="top:21px;height:1px"></i><i class="b2_22" style="top:22px;height:1px"></i><i class="b2_23" style="top:23px;height:1px"></i><i class="b2_24" style="top:24px;height:1px"></i><i class="b2_25" style="top:25px;height:1px"></i><i class="b2_26" style="top:26px;height:1px"></i><i class="b2_27" style="top:27px;height:1px"></i><i class="b2_28" style="top:28px;height:1px"></i><i class="b2_29" style="top:29px;height:1px"></i><i class="b2_30" style="top:30px;height:1px"></i><i class="b2_31" style="top:31px;height:1px"></i><i class="b2_32" style="top:32px;height:1px"></i><i class="b2_33" style="top:33px;height:1px"></i><i class="b2_34" style="top:34px;height:1px"></i><i class="b2_35" style="top:35px;height:1px"></i><i class="b2_36" style="top:36px;height:1px"></i><i class="b2_37" style="top:37px;height:1px"></i><i class="b2_38" style="top:38px;height:2px"></i><i class="b2_39" style="top:40px;height:3px"></i><i class="b2_40" style="top:43px;height:4px"></i><i class="b2_41" style="top:47px;height:5px"></i><i class="b2_42" style="top:52px;height:7px"></i><i class="b2_43" style="top:59px;height:8px"></i><i class="b2_44" style="top:67px;height:5px"></i><i class="b2_45" style="top:72px;height:4px"></i><i class="b2_46" style="top:76px;height:3px"></i><i class="b2_47" style="top:79px;height:3px"></i><i class="b2_48" style="top:82px;height:2px"></i><i class="b2_49" style="top:84px;height:2px"></i><i class="b2_50" style="top:86px;height:2px"></i><i class="b2_51" style="top:88px;height:2px"></i><i class="b2_52" style="top:90px;height:2px"></i><i class="b2_53" style="top:92px;height:1px"></i><i class="b2_54" style="top:93px;height:1px"></i><i class="b2_55" style="top:94px;height:1px"></i><i class="b2_56" style="top:95px;height:1px"></i><i class="b2_57" style="top:96px;height:1px"></i><i class="b2_58" style="top:97px;height:1px"></i><i class="b2_59" style="top:98px;height:1px"></i><i class="b2_60" style="top:99px;height:1px"></i><i class="b2_61" style="top:100px;height:1px"></i><i class="b2_62" style="top:101px;height:1px"></i><i class="b2_63" style="top:102px;height:1px"></i><i class="b2_64" style="top:103px;height:1px"></i><i class="b2_65" style="top:104px;height:1px"></i><i class="b2_66" style="top:105px;height:1px"></i><i class="b2_67" style="top:106px;height:1px"></i><i class="b2_68" style="top:107px;height:1px"></i><i class="b2_69" style="top:108px;height:1px"></i><i class="b2_70" style="top:109px;height:1px"></i><i class="b2_71" style="top:110px;height:1px"></i><i class="b2_72" style="top:111px;height:1px"></i><i class="b2_73" style="top:112px;height:1px"></i><i class="b2_74" style="top:113px;height:1px"></i><i class="b2_75" style="top:114px;height:1px"></i><i class="b2_76" style="top:115px;height:1px"></i><i class="b2_77" style="top:116px;height:1px"></i><i class="b2_78" style="top:117px;height:1px"></i><i class="b2_79" style="top:118px;height:1px"></i><i class="b2_80" style="top:119px;height:1px"></i><i class="b2_81" style="top:120px;height:1px"></i><i class="b2_82" style="top:121px;height:1px"></i><i class="b2_83" style="top:122px;height:1px"></i><i class="b2_84" style="top:123px;height:1px"></i><i class="b2_85" style="top:124px;height:1px"></i><i class="b2_86" style="top:125px;height:1px"></i><i class="b2_87" style="top:126px;height:1px"></i><i class="b2_88" style="top:127px;height:1px"></i><i class="b2_89" style="top:128px;height:2px"></i><i class="b2_90" style="top:130px;height:2px"></i><i class="b2_91" style="top:132px;height:2px"></i><i class="b2_92" style="top:134px;height:6px"></i><i class="b2_93" style="top:140px;height:10px"></i></div>
<svg width="759" height="494" viewBox="0 0 759 494">
<text transform="translate(139.70,12.70) scale(1.047,1)" font-size="15.3" text-anchor="middle">Integration time τ = 200ms</text>
<text transform="translate(139.50,31.70) scale(1.047,1)" font-size="15.3" text-anchor="middle">Peak mean response: 9 spikes</text>
<text transform="translate(389.40,12.70) scale(1.047,1)" font-size="15.3" text-anchor="middle">Integration time τ = 1.5s</text>
<text transform="translate(389.55,31.70) scale(1.047,1)" font-size="15.3" text-anchor="middle">Peak mean response: 67.5 spikes</text>
<text transform="translate(639.90,12.70) scale(1.047,1)" font-size="15.3" text-anchor="middle">Integration time τ = 5s</text>
<text transform="translate(640.00,31.70) scale(1.047,1)" font-size="15.3" text-anchor="middle">Peak mean response: 225 spikes</text>
<text transform="translate(13.30,92.80) rotate(-90) scale(1.047,1)" font-size="15.3" text-anchor="middle">Response</text>
<text transform="translate(32.50,93.50) rotate(-90) scale(1.047,1)" font-size="15.3" text-anchor="middle">(spikes)</text>
<text transform="translate(13.30,220.30) rotate(-90) scale(1.018,1)" font-size="15.3" text-anchor="middle">Observer’s knowlege</text>
<text transform="translate(32.50,220.40) rotate(-90) scale(1.047,1)" font-size="15.3" text-anchor="middle">of stimulus <tspan font-style="italic" font-size="16.4">Z</tspan></text>
<text transform="translate(13.50,382.30) rotate(-90) scale(1.047,1)" font-size="15.3" text-anchor="middle">SSI</text>
<text transform="translate(32.50,382.40) rotate(-90) scale(1.047,1)" font-size="15.3" text-anchor="middle">(bits)</text>
<text x="140.00" y="491.60" font-size="16.4" text-anchor="middle" font-style="italic">S</text>
<text transform="translate(390.00,491.90) scale(1.047,1)" font-size="15.3" text-anchor="middle">Stimulus <tspan font-style="italic" font-size="16.4">S</tspan></text>
<text x="640.40" y="491.60" font-size="16.4" text-anchor="middle" font-style="italic">S</text>
<path fill="#bfbfbf" d="M65.50 117.76 L65.87 117.76 L65.87 117.76 L66.61 117.76 L66.61 117.76 L67.36 117.76 L67.36 117.76 L68.10 117.76 L68.10 117.76 L68.84 117.76 L68.84 117.76 L69.58 117.76 L69.58 117.76 L70.33 117.76 L70.33 117.76 L71.07 117.76 L71.07 117.76 L71.81 117.76 L71.81 117.76 L72.55 117.76 L72.55 117.76 L73.30 117.76 L73.30 117.76 L74.04 117.76 L74.04 117.76 L74.78 117.76 L74.78 117.76 L75.52 117.76 L75.52 117.76 L76.27 117.76 L76.27 117.76 L77.01 117.76 L77.01 117.76 L77.75 117.76 L77.75 117.76 L78.49 117.76 L78.49 117.76 L79.24 117.76 L79.24 117.76 L79.98 117.76 L79.98 117.76 L80.72 117.76 L80.72 117.76 L81.46 117.76 L81.46 117.76 L82.21 117.76 L82.21 117.76 L82.95 117.76 L82.95 117.76 L83.69 117.76 L83.69 117.76 L84.43 117.76 L84.43 117.76 L85.18 117.76 L85.18 117.76 L85.92 117.76 L85.92 117.76 L86.66 117.76 L86.66 117.76 L87.40 117.76 L87.40 117.76 L88.15 117.76 L88.15 117.76 L88.89 117.76 L88.89 117.76 L89.63 117.76 L89.63 117.76 L90.37 117.76 L90.37 117.76 L91.12 117.76 L91.12 117.76 L91.86 117.76 L91.86 117.76 L92.60 117.76 L92.60 117.76 L93.34 117.76 L93.34 117.76 L94.09 117.76 L94.09 117.76 L94.83 117.76 L94.83 117.76 L95.57 117.76 L95.57 112.18 L96.31 112.18 L96.31 112.18 L97.06 112.18 L97.06 112.18 L97.80 112.18 L97.80 112.18 L98.54 112.18 L98.54 112.18 L99.28 112.18 L99.28 112.18 L100.03 112.18 L100.03 112.18 L100.77 112.18 L100.77 112.18 L101.51 112.18 L101.51 112.18 L102.25 112.18 L102.25 112.18 L103.00 112.18 L103.00 112.18 L103.74 112.18 L103.74 112.18 L104.48 112.18 L104.48 112.18 L105.22 112.18 L105.22 112.18 L105.97 112.18 L105.97 106.60 L106.71 106.60 L106.71 106.60 L107.45 106.60 L107.45 106.60 L108.19 106.60 L108.19 106.60 L108.94 106.60 L108.94 106.60 L109.68 106.60 L109.68 106.60 L110.42 106.60 L110.42 106.60 L111.16 106.60 L111.16 101.02 L111.91 101.02 L111.91 101.02 L112.65 101.02 L112.65 101.02 L113.39 101.02 L113.39 101.02 L114.13 101.02 L114.13 95.44 L114.88 95.44 L114.88 95.44 L115.62 95.44 L115.62 95.44 L116.36 95.44 L116.36 95.44 L117.10 95.44 L117.10 89.86 L117.85 89.86 L117.85 89.86 L118.59 89.86 L118.59 89.86 L119.33 89.86 L119.33 84.28 L120.07 84.28 L120.07 84.28 L120.82 84.28 L120.82 84.28 L121.56 84.28 L121.56 78.70 L122.30 78.70 L122.30 78.70 L123.04 78.70 L123.04 78.70 L123.79 78.70 L123.79 73.12 L124.53 73.12 L124.53 73.12 L125.27 73.12 L125.27 73.12 L126.01 73.12 L126.01 67.54 L126.76 67.54 L126.76 67.54 L127.50 67.54 L127.50 67.54 L128.24 67.54 L128.24 61.96 L128.98 61.96 L128.98 61.96 L129.73 61.96 L129.73 61.96 L130.47 61.96 L130.47 56.38 L131.21 56.38 L131.21 56.38 L131.95 56.38 L131.95 56.38 L132.70 56.38 L132.70 56.38 L133.44 56.38 L133.44 56.38 L134.18 56.38 L134.18 50.80 L134.92 50.80 L134.92 50.80 L135.67 50.80 L135.67 50.80 L136.41 50.80 L136.41 50.80 L137.15 50.80 L137.15 50.80 L137.89 50.80 L137.89 50.80 L138.64 50.80 L138.64 50.80 L139.38 50.80 L139.38 50.80 L140.12 50.80 L140.12 50.80 L140.86 50.80 L140.86 50.80 L141.61 50.80 L141.61 50.80 L142.35 50.80 L142.35 50.80 L143.09 50.80 L143.09 50.80 L143.83 50.80 L143.83 50.80 L144.58 50.80 L144.58 50.80 L145.32 50.80 L145.32 56.38 L146.06 56.38 L146.06 56.38 L146.80 56.38 L146.80 56.38 L147.55 56.38 L147.55 56.38 L148.29 56.38 L148.29 56.38 L149.03 56.38 L149.03 61.96 L149.77 61.96 L149.77 61.96 L150.52 61.96 L150.52 61.96 L151.26 61.96 L151.26 67.54 L152.00 67.54 L152.00 67.54 L152.74 67.54 L152.74 67.54 L153.49 67.54 L153.49 73.12 L154.23 73.12 L154.23 73.12 L154.97 73.12 L154.97 73.12 L155.71 73.12 L155.71 78.70 L156.46 78.70 L156.46 78.70 L157.20 78.70 L157.20 78.70 L157.94 78.70 L157.94 84.28 L158.68 84.28 L158.68 84.28 L159.43 84.28 L159.43 84.28 L160.17 84.28 L160.17 89.86 L160.91 89.86 L160.91 89.86 L161.65 89.86 L161.65 89.86 L162.40 89.86 L162.40 95.44 L163.14 95.44 L163.14 95.44 L163.88 95.44 L163.88 95.44 L164.62 95.44 L164.62 95.44 L165.37 95.44 L165.37 101.02 L166.11 101.02 L166.11 101.02 L166.85 101.02 L166.85 101.02 L167.59 101.02 L167.59 101.02 L168.34 101.02 L168.34 106.60 L169.08 106.60 L169.08 106.60 L169.82 106.60 L169.82 106.60 L170.56 106.60 L170.56 106.60 L171.31 106.60 L171.31 106.60 L172.05 106.60 L172.05 106.60 L172.79 106.60 L172.79 106.60 L173.53 106.60 L173.53 112.18 L174.28 112.18 L174.28 112.18 L175.02 112.18 L175.02 112.18 L175.76 112.18 L175.76 112.18 L176.50 112.18 L176.50 112.18 L177.25 112.18 L177.25 112.18 L177.99 112.18 L177.99 112.18 L178.73 112.18 L178.73 112.18 L179.47 112.18 L179.47 112.18 L180.22 112.18 L180.22 112.18 L180.96 112.18 L180.96 112.18 L181.70 112.18 L181.70 112.18 L182.44 112.18 L182.44 112.18 L183.19 112.18 L183.19 112.18 L183.93 112.18 L183.93 117.76 L184.67 117.76 L184.67 117.76 L185.41 117.76 L185.41 117.76 L186.16 117.76 L186.16 117.76 L186.90 117.76 L186.90 117.76 L187.64 117.76 L187.64 117.76 L188.38 117.76 L188.38 117.76 L189.13 117.76 L189.13 117.76 L189.87 117.76 L189.87 117.76 L190.61 117.76 L190.61 117.76 L191.35 117.76 L191.35 117.76 L192.10 117.76 L192.10 117.76 L192.84 117.76 L192.84 117.76 L193.58 117.76 L193.58 117.76 L194.32 117.76 L194.32 117.76 L195.07 117.76 L195.07 117.76 L195.81 117.76 L195.81 117.76 L196.55 117.76 L196.55 117.76 L197.29 117.76 L197.29 117.76 L198.04 117.76 L198.04 117.76 L198.78 117.76 L198.78 117.76 L199.52 117.76 L199.52 117.76 L200.26 117.76 L200.26 117.76 L201.01 117.76 L201.01 117.76 L201.75 117.76 L201.75 117.76 L202.49 117.76 L202.49 117.76 L203.23 117.76 L203.23 117.76 L203.98 117.76 L203.98 117.76 L204.72 117.76 L204.72 117.76 L205.46 117.76 L205.46 117.76 L206.20 117.76 L206.20 117.76 L206.95 117.76 L206.95 117.76 L207.69 117.76 L207.69 117.76 L208.43 117.76 L208.43 117.76 L209.17 117.76 L209.17 117.76 L209.92 117.76 L209.92 117.76 L210.66 117.76 L210.66 117.76 L211.40 117.76 L211.40 117.76 L212.14 117.76 L212.14 117.76 L212.89 117.76 L212.89 117.76 L213.63 117.76 L213.63 117.76 L214.00 117.76 L214.00 134.50 L213.63 134.50 L213.63 134.50 L212.89 134.50 L212.89 134.50 L212.14 134.50 L212.14 134.50 L211.40 134.50 L211.40 134.50 L210.66 134.50 L210.66 134.50 L209.92 134.50 L209.92 134.50 L209.17 134.50 L209.17 134.50 L208.43 134.50 L208.43 134.50 L207.69 134.50 L207.69 134.50 L206.95 134.50 L206.95 134.50 L206.20 134.50 L206.20 134.50 L205.46 134.50 L205.46 134.50 L204.72 134.50 L204.72 134.50 L203.98 134.50 L203.98 134.50 L203.23 134.50 L203.23 134.50 L202.49 134.50 L202.49 134.50 L201.75 134.50 L201.75 134.50 L201.01 134.50 L201.01 134.50 L200.26 134.50 L200.26 134.50 L199.52 134.50 L199.52 134.50 L198.78 134.50 L198.78 134.50 L198.04 134.50 L198.04 134.50 L197.29 134.50 L197.29 134.50 L196.55 134.50 L196.55 134.50 L195.81 134.50 L195.81 134.50 L195.07 134.50 L195.07 134.50 L194.32 134.50 L194.32 134.50 L193.58 134.50 L193.58 134.50 L192.84 134.50 L192.84 134.50 L192.10 134.50 L192.10 134.50 L191.35 134.50 L191.35 134.50 L190.61 134.50 L190.61 134.50 L189.87 134.50 L189.87 134.50 L189.13 134.50 L189.13 134.50 L188.38 134.50 L188.38 134.50 L187.64 134.50 L187.64 134.50 L186.90 134.50 L186.90 134.50 L186.16 134.50 L186.16 134.50 L185.41 134.50 L185.41 134.50 L184.67 134.50 L184.67 134.50 L183.93 134.50 L183.93 134.50 L183.19 134.50 L183.19 134.50 L182.44 134.50 L182.44 134.50 L181.70 134.50 L181.70 134.50 L180.96 134.50 L180.96 134.50 L180.22 134.50 L180.22 134.50 L179.47 134.50 L179.47 134.50 L178.73 134.50 L178.73 134.50 L177.99 134.50 L177.99 134.50 L177.25 134.50 L177.25 134.50 L176.50 134.50 L176.50 134.50 L175.76 134.50 L175.76 134.50 L175.02 134.50 L175.02 134.50 L174.28 134.50 L174.28 134.50 L173.53 134.50 L173.53 134.50 L172.79 134.50 L172.79 134.50 L172.05 134.50 L172.05 134.50 L171.31 134.50 L171.31 134.50 L170.56 134.50 L170.56 134.50 L169.82 134.50 L169.82 134.50 L169.08 134.50 L169.08 134.50 L168.34 134.50 L168.34 134.50 L167.59 134.50 L167.59 134.50 L166.85 134.50 L166.85 134.50 L166.11 134.50 L166.11 134.50 L165.37 134.50 L165.37 134.50 L164.62 134.50 L164.62 134.50 L163.88 134.50 L163.88 134.50 L163.14 134.50 L163.14 134.50 L162.40 134.50 L162.40 134.50 L161.65 134.50 L161.65 128.92 L160.91 128.92 L160.91 128.92 L160.17 128.92 L160.17 128.92 L159.43 128.92 L159.43 128.92 L158.68 128.92 L158.68 128.92 L157.94 128.92 L157.94 128.92 L157.20 128.92 L157.20 128.92 L156.46 128.92 L156.46 128.92 L155.71 128.92 L155.71 123.34 L154.97 123.34 L154.97 123.34 L154.23 123.34 L154.23 123.34 L153.49 123.34 L153.49 123.34 L152.74 123.34 L152.74 123.34 L152.00 123.34 L152.00 123.34 L151.26 123.34 L151.26 123.34 L150.52 123.34 L150.52 117.76 L149.77 117.76 L149.77 117.76 L149.03 117.76 L149.03 117.76 L148.29 117.76 L148.29 117.76 L147.55 117.76 L147.55 117.76 L146.80 117.76 L146.80 117.76 L146.06 117.76 L146.06 117.76 L145.32 117.76 L145.32 117.76 L144.58 117.76 L144.58 117.76 L143.83 117.76 L143.83 117.76 L143.09 117.76 L143.09 112.18 L142.35 112.18 L142.35 112.18 L141.61 112.18 L141.61 112.18 L140.86 112.18 L140.86 112.18 L140.12 112.18 L140.12 112.18 L139.38 112.18 L139.38 112.18 L138.64 112.18 L138.64 112.18 L137.89 112.18 L137.89 112.18 L137.15 112.18 L137.15 112.18 L136.41 112.18 L136.41 117.76 L135.67 117.76 L135.67 117.76 L134.92 117.76 L134.92 117.76 L134.18 117.76 L134.18 117.76 L133.44 117.76 L133.44 117.76 L132.70 117.76 L132.70 117.76 L131.95 117.76 L131.95 117.76 L131.21 117.76 L131.21 117.76 L130.47 117.76 L130.47 117.76 L129.73 117.76 L129.73 117.76 L128.98 117.76 L128.98 123.34 L128.24 123.34 L128.24 123.34 L127.50 123.34 L127.50 123.34 L126.76 123.34 L126.76 123.34 L126.01 123.34 L126.01 123.34 L125.27 123.34 L125.27 123.34 L124.53 123.34 L124.53 123.34 L123.79 123.34 L123.79 128.92 L123.04 128.92 L123.04 128.92 L122.30 128.92 L122.30 128.92 L121.56 128.92 L121.56 128.92 L120.82 128.92 L120.82 128.92 L120.07 128.92 L120.07 128.92 L119.33 128.92 L119.33 128.92 L118.59 128.92 L118.59 128.92 L117.85 128.92 L117.85 134.50 L117.10 134.50 L117.10 134.50 L116.36 134.50 L116.36 134.50 L115.62 134.50 L115.62 134.50 L114.88 134.50 L114.88 134.50 L114.13 134.50 L114.13 134.50 L113.39 134.50 L113.39 134.50 L112.65 134.50 L112.65 134.50 L111.91 134.50 L111.91 134.50 L111.16 134.50 L111.16 134.50 L110.42 134.50 L110.42 134.50 L109.68 134.50 L109.68 134.50 L108.94 134.50 L108.94 134.50 L108.19 134.50 L108.19 134.50 L107.45 134.50 L107.45 134.50 L106.71 134.50 L106.71 134.50 L105.97 134.50 L105.97 134.50 L105.22 134.50 L105.22 134.50 L104.48 134.50 L104.48 134.50 L103.74 134.50 L103.74 134.50 L103.00 134.50 L103.00 134.50 L102.25 134.50 L102.25 134.50 L101.51 134.50 L101.51 134.50 L100.77 134.50 L100.77 134.50 L100.03 134.50 L100.03 134.50 L99.28 134.50 L99.28 134.50 L98.54 134.50 L98.54 134.50 L97.80 134.50 L97.80 134.50 L97.06 134.50 L97.06 134.50 L96.31 134.50 L96.31 134.50 L95.57 134.50 L95.57 134.50 L94.83 134.50 L94.83 134.50 L94.09 134.50 L94.09 134.50 L93.34 134.50 L93.34 134.50 L92.60 134.50 L92.60 134.50 L91.86 134.50 L91.86 134.50 L91.12 134.50 L91.12 134.50 L90.37 134.50 L90.37 134.50 L89.63 134.50 L89.63 134.50 L88.89 134.50 L88.89 134.50 L88.15 134.50 L88.15 134.50 L87.40 134.50 L87.40 134.50 L86.66 134.50 L86.66 134.50 L85.92 134.50 L85.92 134.50 L85.18 134.50 L85.18 134.50 L84.43 134.50 L84.43 134.50 L83.69 134.50 L83.69 134.50 L82.95 134.50 L82.95 134.50 L82.21 134.50 L82.21 134.50 L81.46 134.50 L81.46 134.50 L80.72 134.50 L80.72 134.50 L79.98 134.50 L79.98 134.50 L79.24 134.50 L79.24 134.50 L78.49 134.50 L78.49 134.50 L77.75 134.50 L77.75 134.50 L77.01 134.50 L77.01 134.50 L76.27 134.50 L76.27 134.50 L75.52 134.50 L75.52 134.50 L74.78 134.50 L74.78 134.50 L74.04 134.50 L74.04 134.50 L73.30 134.50 L73.30 134.50 L72.55 134.50 L72.55 134.50 L71.81 134.50 L71.81 134.50 L71.07 134.50 L71.07 134.50 L70.33 134.50 L70.33 134.50 L69.58 134.50 L69.58 134.50 L68.84 134.50 L68.84 134.50 L68.10 134.50 L68.10 134.50 L67.36 134.50 L67.36 134.50 L66.61 134.50 L66.61 134.50 L65.87 134.50 L65.87 134.50 L65.50 134.50 Z"/>
<path fill="#808080" d="M65.50 123.34 L65.87 123.34 L65.87 123.34 L66.61 123.34 L66.61 123.34 L67.36 123.34 L67.36 123.34 L68.10 123.34 L68.10 123.34 L68.84 123.34 L68.84 123.34 L69.58 123.34 L69.58 123.34 L70.33 123.34 L70.33 123.34 L71.07 123.34 L71.07 123.34 L71.81 123.34 L71.81 123.34 L72.55 123.34 L72.55 123.34 L73.30 123.34 L73.30 123.34 L74.04 123.34 L74.04 123.34 L74.78 123.34 L74.78 123.34 L75.52 123.34 L75.52 123.34 L76.27 123.34 L76.27 123.34 L77.01 123.34 L77.01 123.34 L77.75 123.34 L77.75 123.34 L78.49 123.34 L78.49 123.34 L79.24 123.34 L79.24 123.34 L79.98 123.34 L79.98 123.34 L80.72 123.34 L80.72 123.34 L81.46 123.34 L81.46 123.34 L82.21 123.34 L82.21 123.34 L82.95 123.34 L82.95 123.34 L83.69 123.34 L83.69 123.34 L84.43 123.34 L84.43 123.34 L85.18 123.34 L85.18 123.34 L85.92 123.34 L85.92 123.34 L86.66 123.34 L86.66 123.34 L87.40 123.34 L87.40 123.34 L88.15 123.34 L88.15 123.34 L88.89 123.34 L88.89 123.34 L89.63 123.34 L89.63 123.34 L90.37 123.34 L90.37 123.34 L91.12 123.34 L91.12 123.34 L91.86 123.34 L91.86 123.34 L92.60 123.34 L92.60 123.34 L93.34 123.34 L93.34 123.34 L94.09 123.34 L94.09 123.34 L94.83 123.34 L94.83 123.34 L95.57 123.34 L95.57 123.34 L96.31 123.34 L96.31 123.34 L97.06 123.34 L97.06 123.34 L97.80 123.34 L97.80 123.34 L98.54 123.34 L98.54 123.34 L99.28 123.34 L99.28 123.34 L100.03 123.34 L100.03 123.34 L100.77 123.34 L100.77 123.34 L101.51 123.34 L101.51 123.34 L102.25 123.34 L102.25 123.34 L103.00 123.34 L103.00 123.34 L103.74 123.34 L103.74 123.34 L104.48 123.34 L104.48 123.34 L105.22 123.34 L105.22 123.34 L105.97 123.34 L105.97 123.34 L106.71 123.34 L106.71 123.34 L107.45 123.34 L107.45 117.76 L108.19 117.76 L108.19 117.76 L108.94 117.76 L108.94 117.76 L109.68 117.76 L109.68 117.76 L110.42 117.76 L110.42 117.76 L111.16 117.76 L111.16 117.76 L111.91 117.76 L111.91 117.76 L112.65 117.76 L112.65 112.18 L113.39 112.18 L113.39 112.18 L114.13 112.18 L114.13 112.18 L114.88 112.18 L114.88 112.18 L115.62 112.18 L115.62 112.18 L116.36 112.18 L116.36 106.60 L117.10 106.60 L117.10 106.60 L117.85 106.60 L117.85 106.60 L118.59 106.60 L118.59 106.60 L119.33 106.60 L119.33 106.60 L120.07 106.60 L120.07 101.02 L120.82 101.02 L120.82 101.02 L121.56 101.02 L121.56 101.02 L122.30 101.02 L122.30 95.44 L123.04 95.44 L123.04 95.44 L123.79 95.44 L123.79 95.44 L124.53 95.44 L124.53 95.44 L125.27 95.44 L125.27 89.86 L126.01 89.86 L126.01 89.86 L126.76 89.86 L126.76 89.86 L127.50 89.86 L127.50 89.86 L128.24 89.86 L128.24 84.28 L128.98 84.28 L128.98 84.28 L129.73 84.28 L129.73 84.28 L130.47 84.28 L130.47 84.28 L131.21 84.28 L131.21 78.70 L131.95 78.70 L131.95 78.70 L132.70 78.70 L132.70 78.70 L133.44 78.70 L133.44 78.70 L134.18 78.70 L134.18 78.70 L134.92 78.70 L134.92 73.12 L135.67 73.12 L135.67 73.12 L136.41 73.12 L136.41 73.12 L137.15 73.12 L137.15 73.12 L137.89 73.12 L137.89 73.12 L138.64 73.12 L138.64 73.12 L139.38 73.12 L139.38 73.12 L140.12 73.12 L140.12 73.12 L140.86 73.12 L140.86 73.12 L141.61 73.12 L141.61 73.12 L142.35 73.12 L142.35 73.12 L143.09 73.12 L143.09 73.12 L143.83 73.12 L143.83 73.12 L144.58 73.12 L144.58 78.70 L145.32 78.70 L145.32 78.70 L146.06 78.70 L146.06 78.70 L146.80 78.70 L146.80 78.70 L147.55 78.70 L147.55 78.70 L148.29 78.70 L148.29 84.28 L149.03 84.28 L149.03 84.28 L149.77 84.28 L149.77 84.28 L150.52 84.28 L150.52 84.28 L151.26 84.28 L151.26 89.86 L152.00 89.86 L152.00 89.86 L152.74 89.86 L152.74 89.86 L153.49 89.86 L153.49 89.86 L154.23 89.86 L154.23 95.44 L154.97 95.44 L154.97 95.44 L155.71 95.44 L155.71 95.44 L156.46 95.44 L156.46 95.44 L157.20 95.44 L157.20 101.02 L157.94 101.02 L157.94 101.02 L158.68 101.02 L158.68 101.02 L159.43 101.02 L159.43 106.60 L160.17 106.60 L160.17 106.60 L160.91 106.60 L160.91 106.60 L161.65 106.60 L161.65 106.60 L162.40 106.60 L162.40 106.60 L163.14 106.60 L163.14 112.18 L163.88 112.18 L163.88 112.18 L164.62 112.18 L164.62 112.18 L165.37 112.18 L165.37 112.18 L166.11 112.18 L166.11 112.18 L166.85 112.18 L166.85 117.76 L167.59 117.76 L167.59 117.76 L168.34 117.76 L168.34 117.76 L169.08 117.76 L169.08 117.76 L169.82 117.76 L169.82 117.76 L170.56 117.76 L170.56 117.76 L171.31 117.76 L171.31 117.76 L172.05 117.76 L172.05 123.34 L172.79 123.34 L172.79 123.34 L173.53 123.34 L173.53 123.34 L174.28 123.34 L174.28 123.34 L175.02 123.34 L175.02 123.34 L175.76 123.34 L175.76 123.34 L176.50 123.34 L176.50 123.34 L177.25 123.34 L177.25 123.34 L177.99 123.34 L177.99 123.34 L178.73 123.34 L178.73 123.34 L179.47 123.34 L179.47 123.34 L180.22 123.34 L180.22 123.34 L180.96 123.34 L180.96 123.34 L181.70 123.34 L181.70 123.34 L182.44 123.34 L182.44 123.34 L183.19 123.34 L183.19 123.34 L183.93 123.34 L183.93 123.34 L184.67 123.34 L184.67 123.34 L185.41 123.34 L185.41 123.34 L186.16 123.34 L186.16 123.34 L186.90 123.34 L186.90 123.34 L187.64 123.34 L187.64 123.34 L188.38 123.34 L188.38 123.34 L189.13 123.34 L189.13 123.34 L189.87 123.34 L189.87 123.34 L190.61 123.34 L190.61 123.34 L191.35 123.34 L191.35 123.34 L192.10 123.34 L192.10 123.34 L192.84 123.34 L192.84 123.34 L193.58 123.34 L193.58 123.34 L194.32 123.34 L194.32 123.34 L195.07 123.34 L195.07 123.34 L195.81 123.34 L195.81 123.34 L196.55 123.34 L196.55 123.34 L197.29 123.34 L197.29 123.34 L198.04 123.34 L198.04 123.34 L198.78 123.34 L198.78 123.34 L199.52 123.34 L199.52 123.34 L200.26 123.34 L200.26 123.34 L201.01 123.34 L201.01 123.34 L201.75 123.34 L201.75 123.34 L202.49 123.34 L202.49 123.34 L203.23 123.34 L203.23 123.34 L203.98 123.34 L203.98 123.34 L204.72 123.34 L204.72 123.34 L205.46 123.34 L205.46 123.34 L206.20 123.34 L206.20 123.34 L206.95 123.34 L206.95 123.34 L207.69 123.34 L207.69 123.34 L208.43 123.34 L208.43 123.34 L209.17 123.34 L209.17 123.34 L209.92 123.34 L209.92 123.34 L210.66 123.34 L210.66 123.34 L211.40 123.34 L211.40 123.34 L212.14 123.34 L212.14 123.34 L212.89 123.34 L212.89 123.34 L213.63 123.34 L213.63 123.34 L214.00 123.34 L214.00 134.50 L213.63 134.50 L213.63 134.50 L212.89 134.50 L212.89 134.50 L212.14 134.50 L212.14 134.50 L211.40 134.50 L211.40 134.50 L210.66 134.50 L210.66 134.50 L209.92 134.50 L209.92 134.50 L209.17 134.50 L209.17 134.50 L208.43 134.50 L208.43 134.50 L207.69 134.50 L207.69 134.50 L206.95 134.50 L206.95 134.50 L206.20 134.50 L206.20 134.50 L205.46 134.50 L205.46 134.50 L204.72 134.50 L204.72 134.50 L203.98 134.50 L203.98 134.50 L203.23 134.50 L203.23 134.50 L202.49 134.50 L202.49 134.50 L201.75 134.50 L201.75 134.50 L201.01 134.50 L201.01 134.50 L200.26 134.50 L200.26 134.50 L199.52 134.50 L199.52 134.50 L198.78 134.50 L198.78 134.50 L198.04 134.50 L198.04 134.50 L197.29 134.50 L197.29 134.50 L196.55 134.50 L196.55 134.50 L195.81 134.50 L195.81 134.50 L195.07 134.50 L195.07 134.50 L194.32 134.50 L194.32 134.50 L193.58 134.50 L193.58 134.50 L192.84 134.50 L192.84 134.50 L192.10 134.50 L192.10 134.50 L191.35 134.50 L191.35 134.50 L190.61 134.50 L190.61 134.50 L189.87 134.50 L189.87 134.50 L189.13 134.50 L189.13 134.50 L188.38 134.50 L188.38 134.50 L187.64 134.50 L187.64 134.50 L186.90 134.50 L186.90 134.50 L186.16 134.50 L186.16 134.50 L185.41 134.50 L185.41 134.50 L184.67 134.50 L184.67 134.50 L183.93 134.50 L183.93 134.50 L183.19 134.50 L183.19 134.50 L182.44 134.50 L182.44 134.50 L181.70 134.50 L181.70 134.50 L180.96 134.50 L180.96 134.50 L180.22 134.50 L180.22 134.50 L179.47 134.50 L179.47 134.50 L178.73 134.50 L178.73 134.50 L177.99 134.50 L177.99 134.50 L177.25 134.50 L177.25 134.50 L176.50 134.50 L176.50 128.92 L175.76 128.92 L175.76 128.92 L175.02 128.92 L175.02 128.92 L174.28 128.92 L174.28 128.92 L173.53 128.92 L173.53 128.92 L172.79 128.92 L172.79 128.92 L172.05 128.92 L172.05 128.92 L171.31 128.92 L171.31 128.92 L170.56 128.92 L170.56 128.92 L169.82 128.92 L169.82 128.92 L169.08 128.92 L169.08 128.92 L168.34 128.92 L168.34 128.92 L167.59 128.92 L167.59 128.92 L166.85 128.92 L166.85 128.92 L166.11 128.92 L166.11 123.34 L165.37 123.34 L165.37 123.34 L164.62 123.34 L164.62 123.34 L163.88 123.34 L163.88 123.34 L163.14 123.34 L163.14 123.34 L162.40 123.34 L162.40 123.34 L161.65 123.34 L161.65 123.34 L160.91 123.34 L160.91 117.76 L160.17 117.76 L160.17 117.76 L159.43 117.76 L159.43 117.76 L158.68 117.76 L158.68 117.76 L157.94 117.76 L157.94 117.76 L157.20 117.76 L157.20 112.18 L156.46 112.18 L156.46 112.18 L155.71 112.18 L155.71 112.18 L154.97 112.18 L154.97 112.18 L154.23 112.18 L154.23 112.18 L153.49 112.18 L153.49 106.60 L152.74 106.60 L152.74 106.60 L152.00 106.60 L152.00 106.60 L151.26 106.60 L151.26 106.60 L150.52 106.60 L150.52 106.60 L149.77 106.60 L149.77 101.02 L149.03 101.02 L149.03 101.02 L148.29 101.02 L148.29 101.02 L147.55 101.02 L147.55 101.02 L146.80 101.02 L146.80 101.02 L146.06 101.02 L146.06 101.02 L145.32 101.02 L145.32 101.02 L144.58 101.02 L144.58 95.44 L143.83 95.44 L143.83 95.44 L143.09 95.44 L143.09 95.44 L142.35 95.44 L142.35 95.44 L141.61 95.44 L141.61 95.44 L140.86 95.44 L140.86 95.44 L140.12 95.44 L140.12 95.44 L139.38 95.44 L139.38 95.44 L138.64 95.44 L138.64 95.44 L137.89 95.44 L137.89 95.44 L137.15 95.44 L137.15 95.44 L136.41 95.44 L136.41 95.44 L135.67 95.44 L135.67 95.44 L134.92 95.44 L134.92 101.02 L134.18 101.02 L134.18 101.02 L133.44 101.02 L133.44 101.02 L132.70 101.02 L132.70 101.02 L131.95 101.02 L131.95 101.02 L131.21 101.02 L131.21 101.02 L130.47 101.02 L130.47 101.02 L129.73 101.02 L129.73 106.60 L128.98 106.60 L128.98 106.60 L128.24 106.60 L128.24 106.60 L127.50 106.60 L127.50 106.60 L126.76 106.60 L126.76 106.60 L126.01 106.60 L126.01 112.18 L125.27 112.18 L125.27 112.18 L124.53 112.18 L124.53 112.18 L123.79 112.18 L123.79 112.18 L123.04 112.18 L123.04 112.18 L122.30 112.18 L122.30 117.76 L121.56 117.76 L121.56 117.76 L120.82 117.76 L120.82 117.76 L120.07 117.76 L120.07 117.76 L119.33 117.76 L119.33 117.76 L118.59 117.76 L118.59 123.34 L117.85 123.34 L117.85 123.34 L117.10 123.34 L117.10 123.34 L116.36 123.34 L116.36 123.34 L115.62 123.34 L115.62 123.34 L114.88 123.34 L114.88 123.34 L114.13 123.34 L114.13 123.34 L113.39 123.34 L113.39 128.92 L112.65 128.92 L112.65 128.92 L111.91 128.92 L111.91 128.92 L111.16 128.92 L111.16 128.92 L110.42 128.92 L110.42 128.92 L109.68 128.92 L109.68 128.92 L108.94 128.92 L108.94 128.92 L108.19 128.92 L108.19 128.92 L107.45 128.92 L107.45 128.92 L106.71 128.92 L106.71 128.92 L105.97 128.92 L105.97 128.92 L105.22 128.92 L105.22 128.92 L104.48 128.92 L104.48 128.92 L103.74 128.92 L103.74 128.92 L103.00 128.92 L103.00 134.50 L102.25 134.50 L102.25 134.50 L101.51 134.50 L101.51 134.50 L100.77 134.50 L100.77 134.50 L100.03 134.50 L100.03 134.50 L99.28 134.50 L99.28 134.50 L98.54 134.50 L98.54 134.50 L97.80 134.50 L97.80 134.50 L97.06 134.50 L97.06 134.50 L96.31 134.50 L96.31 134.50 L95.57 134.50 L95.57 134.50 L94.83 134.50 L94.83 134.50 L94.09 134.50 L94.09 134.50 L93.34 134.50 L93.34 134.50 L92.60 134.50 L92.60 134.50 L91.86 134.50 L91.86 134.50 L91.12 134.50 L91.12 134.50 L90.37 134.50 L90.37 134.50 L89.63 134.50 L89.63 134.50 L88.89 134.50 L88.89 134.50 L88.15 134.50 L88.15 134.50 L87.40 134.50 L87.40 134.50 L86.66 134.50 L86.66 134.50 L85.92 134.50 L85.92 134.50 L85.18 134.50 L85.18 134.50 L84.43 134.50 L84.43 134.50 L83.69 134.50 L83.69 134.50 L82.95 134.50 L82.95 134.50 L82.21 134.50 L82.21 134.50 L81.46 134.50 L81.46 134.50 L80.72 134.50 L80.72 134.50 L79.98 134.50 L79.98 134.50 L79.24 134.50 L79.24 134.50 L78.49 134.50 L78.49 134.50 L77.75 134.50 L77.75 134.50 L77.01 134.50 L77.01 134.50 L76.27 134.50 L76.27 134.50 L75.52 134.50 L75.52 134.50 L74.78 134.50 L74.78 134.50 L74.04 134.50 L74.04 134.50 L73.30 134.50 L73.30 134.50 L72.55 134.50 L72.55 134.50 L71.81 134.50 L71.81 134.50 L71.07 134.50 L71.07 134.50 L70.33 134.50 L70.33 134.50 L69.58 134.50 L69.58 134.50 L68.84 134.50 L68.84 134.50 L68.10 134.50 L68.10 134.50 L67.36 134.50 L67.36 134.50 L66.61 134.50 L66.61 134.50 L65.87 134.50 L65.87 134.50 L65.50 134.50 Z"/>
<path fill="none" stroke="#000" stroke-width="3.0" stroke-linejoin="round" d="M65.50 128.92 L66.24 128.92 L66.98 128.92 L67.73 128.92 L68.47 128.92 L69.21 128.92 L69.95 128.92 L70.70 128.92 L71.44 128.92 L72.18 128.92 L72.92 128.92 L73.67 128.92 L74.41 128.92 L75.15 128.92 L75.89 128.92 L76.64 128.91 L77.38 128.91 L78.12 128.91 L78.86 128.91 L79.61 128.91 L80.35 128.91 L81.09 128.90 L81.83 128.90 L82.58 128.89 L83.32 128.89 L84.06 128.88 L84.81 128.87 L85.55 128.86 L86.29 128.85 L87.03 128.84 L87.78 128.82 L88.52 128.80 L89.26 128.78 L90.00 128.76 L90.75 128.73 L91.49 128.69 L92.23 128.65 L92.97 128.61 L93.72 128.55 L94.46 128.49 L95.20 128.42 L95.94 128.34 L96.69 128.25 L97.43 128.15 L98.17 128.03 L98.91 127.90 L99.66 127.75 L100.40 127.59 L101.14 127.40 L101.88 127.19 L102.62 126.96 L103.37 126.70 L104.11 126.41 L104.85 126.10 L105.59 125.75 L106.34 125.37 L107.08 124.95 L107.82 124.49 L108.56 124.00 L109.31 123.46 L110.05 122.88 L110.79 122.25 L111.53 121.58 L112.28 120.86 L113.02 120.09 L113.76 119.27 L114.50 118.40 L115.25 117.48 L115.99 116.51 L116.73 115.49 L117.47 114.43 L118.22 113.32 L118.96 112.17 L119.70 110.97 L120.44 109.74 L121.19 108.48 L121.93 107.19 L122.67 105.88 L123.41 104.54 L124.16 103.20 L124.90 101.84 L125.64 100.49 L126.39 99.15 L127.13 97.81 L127.87 96.50 L128.61 95.22 L129.35 93.98 L130.10 92.78 L130.84 91.63 L131.58 90.55 L132.32 89.53 L133.07 88.58 L133.81 87.71 L134.55 86.93 L135.30 86.24 L136.04 85.65 L136.78 85.16 L137.52 84.78 L138.26 84.50 L139.01 84.34 L139.75 84.28 L140.49 84.34 L141.24 84.50 L141.98 84.78 L142.72 85.16 L143.46 85.65 L144.20 86.24 L144.95 86.93 L145.69 87.71 L146.43 88.58 L147.18 89.53 L147.92 90.55 L148.66 91.63 L149.40 92.78 L150.15 93.98 L150.89 95.22 L151.63 96.50 L152.37 97.81 L153.12 99.15 L153.86 100.49 L154.60 101.84 L155.34 103.20 L156.08 104.54 L156.83 105.88 L157.57 107.19 L158.31 108.48 L159.06 109.74 L159.80 110.97 L160.54 112.17 L161.28 113.32 L162.03 114.43 L162.77 115.49 L163.51 116.51 L164.25 117.48 L165.00 118.40 L165.74 119.27 L166.48 120.09 L167.22 120.86 L167.97 121.58 L168.71 122.25 L169.45 122.88 L170.19 123.46 L170.94 124.00 L171.68 124.49 L172.42 124.95 L173.16 125.37 L173.91 125.75 L174.65 126.10 L175.39 126.41 L176.13 126.70 L176.88 126.96 L177.62 127.19 L178.36 127.40 L179.10 127.59 L179.84 127.75 L180.59 127.90 L181.33 128.03 L182.07 128.15 L182.81 128.25 L183.56 128.34 L184.30 128.42 L185.04 128.49 L185.79 128.55 L186.53 128.61 L187.27 128.65 L188.01 128.69 L188.75 128.73 L189.50 128.76 L190.24 128.78 L190.98 128.80 L191.72 128.82 L192.47 128.84 L193.21 128.85 L193.95 128.86 L194.69 128.87 L195.44 128.88 L196.18 128.89 L196.92 128.89 L197.66 128.90 L198.41 128.90 L199.15 128.91 L199.89 128.91 L200.63 128.91 L201.38 128.91 L202.12 128.91 L202.86 128.91 L203.61 128.92 L204.35 128.92 L205.09 128.92 L205.83 128.92 L206.58 128.92 L207.32 128.92 L208.06 128.92 L208.80 128.92 L209.54 128.92 L210.29 128.92 L211.03 128.92 L211.77 128.92 L212.51 128.92 L213.26 128.92 L214.00 128.92"/>
<path fill="none" stroke="#262626" stroke-width="0.9" d="M65.50 50.80 V134.50 H214.00"/>
<text x="63.70" y="138.45" font-size="12.9" text-anchor="end">0</text>
<text x="63.70" y="110.55" font-size="12.9" text-anchor="end">5</text>
<text x="63.70" y="82.65" font-size="12.9" text-anchor="end">10</text>
<text x="63.70" y="54.75" font-size="12.9" text-anchor="end">15</text>
<path stroke="#262626" stroke-width="0.9" d="M65.50 134.50h1.6 M65.50 106.60h1.6 M65.50 78.70h1.6 M65.50 50.80h1.6 M139.75 134.50v-1.6"/>
<text x="70.70" y="64.20" font-size="14.0" text-anchor="start" font-weight="bold">A</text>
<path fill="#bfbfbf" d="M315.05 121.45 L315.42 121.45 L315.42 121.45 L316.16 121.45 L316.16 121.45 L316.91 121.45 L316.91 121.45 L317.65 121.45 L317.65 121.45 L318.39 121.45 L318.39 121.45 L319.13 121.45 L319.13 121.45 L319.87 121.45 L319.87 121.45 L320.62 121.45 L320.62 121.45 L321.36 121.45 L321.36 121.45 L322.10 121.45 L322.10 121.45 L322.84 121.45 L322.84 121.45 L323.59 121.45 L323.59 121.45 L324.33 121.45 L324.33 121.45 L325.07 121.45 L325.07 121.45 L325.81 121.45 L325.81 121.45 L326.55 121.45 L326.55 121.45 L327.30 121.45 L327.30 121.45 L328.04 121.45 L328.04 121.45 L328.78 121.45 L328.78 121.45 L329.52 121.45 L329.52 121.45 L330.27 121.45 L330.27 121.45 L331.01 121.45 L331.01 121.45 L331.75 121.45 L331.75 121.45 L332.49 121.45 L332.49 121.45 L333.24 121.45 L333.24 121.45 L333.98 121.45 L333.98 121.45 L334.72 121.45 L334.72 121.45 L335.46 121.45 L335.46 121.45 L336.20 121.45 L336.20 121.45 L336.95 121.45 L336.95 121.45 L337.69 121.45 L337.69 120.45 L338.43 120.45 L338.43 120.45 L339.17 120.45 L339.17 120.45 L339.92 120.45 L339.92 120.45 L340.66 120.45 L340.66 120.45 L341.40 120.45 L341.40 120.45 L342.14 120.45 L342.14 120.45 L342.88 120.45 L342.88 120.45 L343.63 120.45 L343.63 120.45 L344.37 120.45 L344.37 120.45 L345.11 120.45 L345.11 120.45 L345.85 120.45 L345.85 120.45 L346.60 120.45 L346.60 119.45 L347.34 119.45 L347.34 119.45 L348.08 119.45 L348.08 119.45 L348.82 119.45 L348.82 119.45 L349.56 119.45 L349.56 118.44 L350.31 118.44 L350.31 118.44 L351.05 118.44 L351.05 118.44 L351.79 118.44 L351.79 117.44 L352.53 117.44 L352.53 117.44 L353.28 117.44 L353.28 116.44 L354.02 116.44 L354.02 116.44 L354.76 116.44 L354.76 115.43 L355.50 115.43 L355.50 114.43 L356.24 114.43 L356.24 114.43 L356.99 114.43 L356.99 113.42 L357.73 113.42 L357.73 112.42 L358.47 112.42 L358.47 111.42 L359.21 111.42 L359.21 110.41 L359.96 110.41 L359.96 109.41 L360.70 109.41 L360.70 108.41 L361.44 108.41 L361.44 107.40 L362.18 107.40 L362.18 106.40 L362.93 106.40 L362.93 104.39 L363.67 104.39 L363.67 103.39 L364.41 103.39 L364.41 101.38 L365.15 101.38 L365.15 100.38 L365.89 100.38 L365.89 98.37 L366.64 98.37 L366.64 96.36 L367.38 96.36 L367.38 95.36 L368.12 95.36 L368.12 93.35 L368.86 93.35 L368.86 91.35 L369.61 91.35 L369.61 89.34 L370.35 89.34 L370.35 87.33 L371.09 87.33 L371.09 85.32 L371.83 85.32 L371.83 83.32 L372.57 83.32 L372.57 81.31 L373.32 81.31 L373.32 79.30 L374.06 79.30 L374.06 77.30 L374.80 77.30 L374.80 75.29 L375.54 75.29 L375.54 73.28 L376.29 73.28 L376.29 70.27 L377.03 70.27 L377.03 68.26 L377.77 68.26 L377.77 67.26 L378.51 67.26 L378.51 65.25 L379.25 65.25 L379.25 63.25 L380.00 63.25 L380.00 61.24 L380.74 61.24 L380.74 59.23 L381.48 59.23 L381.48 58.23 L382.22 58.23 L382.22 56.22 L382.97 56.22 L382.97 55.22 L383.71 55.22 L383.71 54.21 L384.45 54.21 L384.45 53.21 L385.19 53.21 L385.19 52.21 L385.93 52.21 L385.93 51.20 L386.68 51.20 L386.68 51.20 L387.42 51.20 L387.42 50.20 L388.16 50.20 L388.16 50.20 L388.90 50.20 L388.90 50.20 L389.65 50.20 L389.65 50.20 L390.39 50.20 L390.39 50.20 L391.13 50.20 L391.13 51.20 L391.87 51.20 L391.87 51.20 L392.62 51.20 L392.62 52.21 L393.36 52.21 L393.36 53.21 L394.10 53.21 L394.10 54.21 L394.84 54.21 L394.84 55.22 L395.58 55.22 L395.58 56.22 L396.33 56.22 L396.33 58.23 L397.07 58.23 L397.07 59.23 L397.81 59.23 L397.81 61.24 L398.55 61.24 L398.55 63.25 L399.30 63.25 L399.30 65.25 L400.04 65.25 L400.04 67.26 L400.78 67.26 L400.78 68.26 L401.52 68.26 L401.52 70.27 L402.26 70.27 L402.26 73.28 L403.01 73.28 L403.01 75.29 L403.75 75.29 L403.75 77.30 L404.49 77.30 L404.49 79.30 L405.23 79.30 L405.23 81.31 L405.98 81.31 L405.98 83.32 L406.72 83.32 L406.72 85.32 L407.46 85.32 L407.46 87.33 L408.20 87.33 L408.20 89.34 L408.94 89.34 L408.94 91.35 L409.69 91.35 L409.69 93.35 L410.43 93.35 L410.43 95.36 L411.17 95.36 L411.17 96.36 L411.91 96.36 L411.91 98.37 L412.66 98.37 L412.66 100.38 L413.40 100.38 L413.40 101.38 L414.14 101.38 L414.14 103.39 L414.88 103.39 L414.88 104.39 L415.62 104.39 L415.62 106.40 L416.37 106.40 L416.37 107.40 L417.11 107.40 L417.11 108.41 L417.85 108.41 L417.85 109.41 L418.59 109.41 L418.59 110.41 L419.34 110.41 L419.34 111.42 L420.08 111.42 L420.08 112.42 L420.82 112.42 L420.82 113.42 L421.56 113.42 L421.56 114.43 L422.31 114.43 L422.31 114.43 L423.05 114.43 L423.05 115.43 L423.79 115.43 L423.79 116.44 L424.53 116.44 L424.53 116.44 L425.27 116.44 L425.27 117.44 L426.02 117.44 L426.02 117.44 L426.76 117.44 L426.76 118.44 L427.50 118.44 L427.50 118.44 L428.24 118.44 L428.24 118.44 L428.99 118.44 L428.99 119.45 L429.73 119.45 L429.73 119.45 L430.47 119.45 L430.47 119.45 L431.21 119.45 L431.21 119.45 L431.95 119.45 L431.95 120.45 L432.70 120.45 L432.70 120.45 L433.44 120.45 L433.44 120.45 L434.18 120.45 L434.18 120.45 L434.92 120.45 L434.92 120.45 L435.67 120.45 L435.67 120.45 L436.41 120.45 L436.41 120.45 L437.15 120.45 L437.15 120.45 L437.89 120.45 L437.89 120.45 L438.63 120.45 L438.63 120.45 L439.38 120.45 L439.38 120.45 L440.12 120.45 L440.12 120.45 L440.86 120.45 L440.86 121.45 L441.60 121.45 L441.60 121.45 L442.35 121.45 L442.35 121.45 L443.09 121.45 L443.09 121.45 L443.83 121.45 L443.83 121.45 L444.57 121.45 L444.57 121.45 L445.31 121.45 L445.31 121.45 L446.06 121.45 L446.06 121.45 L446.80 121.45 L446.80 121.45 L447.54 121.45 L447.54 121.45 L448.28 121.45 L448.28 121.45 L449.03 121.45 L449.03 121.45 L449.77 121.45 L449.77 121.45 L450.51 121.45 L450.51 121.45 L451.25 121.45 L451.25 121.45 L452.00 121.45 L452.00 121.45 L452.74 121.45 L452.74 121.45 L453.48 121.45 L453.48 121.45 L454.22 121.45 L454.22 121.45 L454.96 121.45 L454.96 121.45 L455.71 121.45 L455.71 121.45 L456.45 121.45 L456.45 121.45 L457.19 121.45 L457.19 121.45 L457.93 121.45 L457.93 121.45 L458.68 121.45 L458.68 121.45 L459.42 121.45 L459.42 121.45 L460.16 121.45 L460.16 121.45 L460.90 121.45 L460.90 121.45 L461.64 121.45 L461.64 121.45 L462.39 121.45 L462.39 121.45 L463.13 121.45 L463.13 121.45 L463.50 121.45 L463.50 131.49 L463.13 131.49 L463.13 131.49 L462.39 131.49 L462.39 131.49 L461.64 131.49 L461.64 131.49 L460.90 131.49 L460.90 131.49 L460.16 131.49 L460.16 131.49 L459.42 131.49 L459.42 131.49 L458.68 131.49 L458.68 131.49 L457.93 131.49 L457.93 131.49 L457.19 131.49 L457.19 131.49 L456.45 131.49 L456.45 131.49 L455.71 131.49 L455.71 131.49 L454.96 131.49 L454.96 131.49 L454.22 131.49 L454.22 131.49 L453.48 131.49 L453.48 131.49 L452.74 131.49 L452.74 131.49 L452.00 131.49 L452.00 131.49 L451.25 131.49 L451.25 131.49 L450.51 131.49 L450.51 131.49 L449.77 131.49 L449.77 131.49 L449.03 131.49 L449.03 131.49 L448.28 131.49 L448.28 131.49 L447.54 131.49 L447.54 131.49 L446.80 131.49 L446.80 131.49 L446.06 131.49 L446.06 131.49 L445.31 131.49 L445.31 131.49 L444.57 131.49 L444.57 131.49 L443.83 131.49 L443.83 131.49 L443.09 131.49 L443.09 131.49 L442.35 131.49 L442.35 131.49 L441.60 131.49 L441.60 131.49 L440.86 131.49 L440.86 131.49 L440.12 131.49 L440.12 131.49 L439.38 131.49 L439.38 131.49 L438.63 131.49 L438.63 131.49 L437.89 131.49 L437.89 131.49 L437.15 131.49 L437.15 131.49 L436.41 131.49 L436.41 131.49 L435.67 131.49 L435.67 131.49 L434.92 131.49 L434.92 131.49 L434.18 131.49 L434.18 131.49 L433.44 131.49 L433.44 131.49 L432.70 131.49 L432.70 131.49 L431.95 131.49 L431.95 131.49 L431.21 131.49 L431.21 131.49 L430.47 131.49 L430.47 130.49 L429.73 130.49 L429.73 130.49 L428.99 130.49 L428.99 130.49 L428.24 130.49 L428.24 130.49 L427.50 130.49 L427.50 130.49 L426.76 130.49 L426.76 130.49 L426.02 130.49 L426.02 129.48 L425.27 129.48 L425.27 129.48 L424.53 129.48 L424.53 129.48 L423.79 129.48 L423.79 128.48 L423.05 128.48 L423.05 128.48 L422.31 128.48 L422.31 128.48 L421.56 128.48 L421.56 127.47 L420.82 127.47 L420.82 127.47 L420.08 127.47 L420.08 126.47 L419.34 126.47 L419.34 126.47 L418.59 126.47 L418.59 125.47 L417.85 125.47 L417.85 124.46 L417.11 124.46 L417.11 124.46 L416.37 124.46 L416.37 123.46 L415.62 123.46 L415.62 122.46 L414.88 122.46 L414.88 121.45 L414.14 121.45 L414.14 120.45 L413.40 120.45 L413.40 119.45 L412.66 119.45 L412.66 118.44 L411.91 118.44 L411.91 117.44 L411.17 117.44 L411.17 115.43 L410.43 115.43 L410.43 114.43 L409.69 114.43 L409.69 113.42 L408.94 113.42 L408.94 112.42 L408.20 112.42 L408.20 110.41 L407.46 110.41 L407.46 109.41 L406.72 109.41 L406.72 107.40 L405.98 107.40 L405.98 106.40 L405.23 106.40 L405.23 104.39 L404.49 104.39 L404.49 103.39 L403.75 103.39 L403.75 101.38 L403.01 101.38 L403.01 99.38 L402.26 99.38 L402.26 98.37 L401.52 98.37 L401.52 96.36 L400.78 96.36 L400.78 95.36 L400.04 95.36 L400.04 94.36 L399.30 94.36 L399.30 92.35 L398.55 92.35 L398.55 91.35 L397.81 91.35 L397.81 89.34 L397.07 89.34 L397.07 88.34 L396.33 88.34 L396.33 87.33 L395.58 87.33 L395.58 86.33 L394.84 86.33 L394.84 85.32 L394.10 85.32 L394.10 84.32 L393.36 84.32 L393.36 84.32 L392.62 84.32 L392.62 83.32 L391.87 83.32 L391.87 83.32 L391.13 83.32 L391.13 82.31 L390.39 82.31 L390.39 82.31 L389.65 82.31 L389.65 82.31 L388.90 82.31 L388.90 82.31 L388.16 82.31 L388.16 82.31 L387.42 82.31 L387.42 83.32 L386.68 83.32 L386.68 83.32 L385.93 83.32 L385.93 84.32 L385.19 84.32 L385.19 84.32 L384.45 84.32 L384.45 85.32 L383.71 85.32 L383.71 86.33 L382.97 86.33 L382.97 87.33 L382.22 87.33 L382.22 88.34 L381.48 88.34 L381.48 89.34 L380.74 89.34 L380.74 91.35 L380.00 91.35 L380.00 92.35 L379.25 92.35 L379.25 94.36 L378.51 94.36 L378.51 95.36 L377.77 95.36 L377.77 96.36 L377.03 96.36 L377.03 98.37 L376.29 98.37 L376.29 99.38 L375.54 99.38 L375.54 101.38 L374.80 101.38 L374.80 103.39 L374.06 103.39 L374.06 104.39 L373.32 104.39 L373.32 106.40 L372.57 106.40 L372.57 107.40 L371.83 107.40 L371.83 109.41 L371.09 109.41 L371.09 110.41 L370.35 110.41 L370.35 112.42 L369.61 112.42 L369.61 113.42 L368.86 113.42 L368.86 114.43 L368.12 114.43 L368.12 115.43 L367.38 115.43 L367.38 117.44 L366.64 117.44 L366.64 118.44 L365.89 118.44 L365.89 119.45 L365.15 119.45 L365.15 120.45 L364.41 120.45 L364.41 121.45 L363.67 121.45 L363.67 122.46 L362.93 122.46 L362.93 123.46 L362.18 123.46 L362.18 124.46 L361.44 124.46 L361.44 124.46 L360.70 124.46 L360.70 125.47 L359.96 125.47 L359.96 126.47 L359.21 126.47 L359.21 126.47 L358.47 126.47 L358.47 127.47 L357.73 127.47 L357.73 127.47 L356.99 127.47 L356.99 128.48 L356.24 128.48 L356.24 128.48 L355.50 128.48 L355.50 128.48 L354.76 128.48 L354.76 129.48 L354.02 129.48 L354.02 129.48 L353.28 129.48 L353.28 129.48 L352.53 129.48 L352.53 130.49 L351.79 130.49 L351.79 130.49 L351.05 130.49 L351.05 130.49 L350.31 130.49 L350.31 130.49 L349.56 130.49 L349.56 130.49 L348.82 130.49 L348.82 130.49 L348.08 130.49 L348.08 131.49 L347.34 131.49 L347.34 131.49 L346.60 131.49 L346.60 131.49 L345.85 131.49 L345.85 131.49 L345.11 131.49 L345.11 131.49 L344.37 131.49 L344.37 131.49 L343.63 131.49 L343.63 131.49 L342.88 131.49 L342.88 131.49 L342.14 131.49 L342.14 131.49 L341.40 131.49 L341.40 131.49 L340.66 131.49 L340.66 131.49 L339.92 131.49 L339.92 131.49 L339.17 131.49 L339.17 131.49 L338.43 131.49 L338.43 131.49 L337.69 131.49 L337.69 131.49 L336.95 131.49 L336.95 131.49 L336.20 131.49 L336.20 131.49 L335.46 131.49 L335.46 131.49 L334.72 131.49 L334.72 131.49 L333.98 131.49 L333.98 131.49 L333.24 131.49 L333.24 131.49 L332.49 131.49 L332.49 131.49 L331.75 131.49 L331.75 131.49 L331.01 131.49 L331.01 131.49 L330.27 131.49 L330.27 131.49 L329.52 131.49 L329.52 131.49 L328.78 131.49 L328.78 131.49 L328.04 131.49 L328.04 131.49 L327.30 131.49 L327.30 131.49 L326.55 131.49 L326.55 131.49 L325.81 131.49 L325.81 131.49 L325.07 131.49 L325.07 131.49 L324.33 131.49 L324.33 131.49 L323.59 131.49 L323.59 131.49 L322.84 131.49 L322.84 131.49 L322.10 131.49 L322.10 131.49 L321.36 131.49 L321.36 131.49 L320.62 131.49 L320.62 131.49 L319.87 131.49 L319.87 131.49 L319.13 131.49 L319.13 131.49 L318.39 131.49 L318.39 131.49 L317.65 131.49 L317.65 131.49 L316.91 131.49 L316.91 131.49 L316.16 131.49 L316.16 131.49 L315.42 131.49 L315.42 131.49 L315.05 131.49 Z"/>
<path fill="#808080" d="M315.05 125.47 L315.42 125.47 L315.42 125.47 L316.16 125.47 L316.16 125.47 L316.91 125.47 L316.91 125.47 L317.65 125.47 L317.65 125.47 L318.39 125.47 L318.39 125.47 L319.13 125.47 L319.13 125.47 L319.87 125.47 L319.87 125.47 L320.62 125.47 L320.62 125.47 L321.36 125.47 L321.36 125.47 L322.10 125.47 L322.10 125.47 L322.84 125.47 L322.84 125.47 L323.59 125.47 L323.59 125.47 L324.33 125.47 L324.33 125.47 L325.07 125.47 L325.07 125.47 L325.81 125.47 L325.81 125.47 L326.55 125.47 L326.55 125.47 L327.30 125.47 L327.30 125.47 L328.04 125.47 L328.04 125.47 L328.78 125.47 L328.78 125.47 L329.52 125.47 L329.52 125.47 L330.27 125.47 L330.27 125.47 L331.01 125.47 L331.01 125.47 L331.75 125.47 L331.75 125.47 L332.49 125.47 L332.49 125.47 L333.24 125.47 L333.24 125.47 L333.98 125.47 L333.98 125.47 L334.72 125.47 L334.72 125.47 L335.46 125.47 L335.46 125.47 L336.20 125.47 L336.20 125.47 L336.95 125.47 L336.95 125.47 L337.69 125.47 L337.69 125.47 L338.43 125.47 L338.43 125.47 L339.17 125.47 L339.17 125.47 L339.92 125.47 L339.92 124.46 L340.66 124.46 L340.66 124.46 L341.40 124.46 L341.40 124.46 L342.14 124.46 L342.14 124.46 L342.88 124.46 L342.88 124.46 L343.63 124.46 L343.63 124.46 L344.37 124.46 L344.37 124.46 L345.11 124.46 L345.11 124.46 L345.85 124.46 L345.85 124.46 L346.60 124.46 L346.60 124.46 L347.34 124.46 L347.34 123.46 L348.08 123.46 L348.08 123.46 L348.82 123.46 L348.82 123.46 L349.56 123.46 L349.56 123.46 L350.31 123.46 L350.31 122.46 L351.05 122.46 L351.05 122.46 L351.79 122.46 L351.79 122.46 L352.53 122.46 L352.53 121.45 L353.28 121.45 L353.28 121.45 L354.02 121.45 L354.02 121.45 L354.76 121.45 L354.76 120.45 L355.50 120.45 L355.50 119.45 L356.24 119.45 L356.24 119.45 L356.99 119.45 L356.99 118.44 L357.73 118.44 L357.73 117.44 L358.47 117.44 L358.47 117.44 L359.21 117.44 L359.21 116.44 L359.96 116.44 L359.96 115.43 L360.70 115.43 L360.70 114.43 L361.44 114.43 L361.44 113.42 L362.18 113.42 L362.18 112.42 L362.93 112.42 L362.93 111.42 L363.67 111.42 L363.67 109.41 L364.41 109.41 L364.41 108.41 L365.15 108.41 L365.15 107.40 L365.89 107.40 L365.89 105.40 L366.64 105.40 L366.64 104.39 L367.38 104.39 L367.38 102.39 L368.12 102.39 L368.12 100.38 L368.86 100.38 L368.86 99.38 L369.61 99.38 L369.61 97.37 L370.35 97.37 L370.35 95.36 L371.09 95.36 L371.09 93.35 L371.83 93.35 L371.83 91.35 L372.57 91.35 L372.57 90.34 L373.32 90.34 L373.32 88.34 L374.06 88.34 L374.06 86.33 L374.80 86.33 L374.80 84.32 L375.54 84.32 L375.54 82.31 L376.29 82.31 L376.29 80.31 L377.03 80.31 L377.03 78.30 L377.77 78.30 L377.77 76.29 L378.51 76.29 L378.51 75.29 L379.25 75.29 L379.25 73.28 L380.00 73.28 L380.00 71.28 L380.74 71.28 L380.74 70.27 L381.48 70.27 L381.48 68.26 L382.22 68.26 L382.22 67.26 L382.97 67.26 L382.97 66.26 L383.71 66.26 L383.71 65.25 L384.45 65.25 L384.45 64.25 L385.19 64.25 L385.19 63.25 L385.93 63.25 L385.93 62.24 L386.68 62.24 L386.68 62.24 L387.42 62.24 L387.42 61.24 L388.16 61.24 L388.16 61.24 L388.90 61.24 L388.90 61.24 L389.65 61.24 L389.65 61.24 L390.39 61.24 L390.39 61.24 L391.13 61.24 L391.13 62.24 L391.87 62.24 L391.87 62.24 L392.62 62.24 L392.62 63.25 L393.36 63.25 L393.36 64.25 L394.10 64.25 L394.10 65.25 L394.84 65.25 L394.84 66.26 L395.58 66.26 L395.58 67.26 L396.33 67.26 L396.33 68.26 L397.07 68.26 L397.07 70.27 L397.81 70.27 L397.81 71.28 L398.55 71.28 L398.55 73.28 L399.30 73.28 L399.30 75.29 L400.04 75.29 L400.04 76.29 L400.78 76.29 L400.78 78.30 L401.52 78.30 L401.52 80.31 L402.26 80.31 L402.26 82.31 L403.01 82.31 L403.01 84.32 L403.75 84.32 L403.75 86.33 L404.49 86.33 L404.49 88.34 L405.23 88.34 L405.23 90.34 L405.98 90.34 L405.98 91.35 L406.72 91.35 L406.72 93.35 L407.46 93.35 L407.46 95.36 L408.20 95.36 L408.20 97.37 L408.94 97.37 L408.94 99.38 L409.69 99.38 L409.69 100.38 L410.43 100.38 L410.43 102.39 L411.17 102.39 L411.17 104.39 L411.91 104.39 L411.91 105.40 L412.66 105.40 L412.66 107.40 L413.40 107.40 L413.40 108.41 L414.14 108.41 L414.14 109.41 L414.88 109.41 L414.88 111.42 L415.62 111.42 L415.62 112.42 L416.37 112.42 L416.37 113.42 L417.11 113.42 L417.11 114.43 L417.85 114.43 L417.85 115.43 L418.59 115.43 L418.59 116.44 L419.34 116.44 L419.34 117.44 L420.08 117.44 L420.08 117.44 L420.82 117.44 L420.82 118.44 L421.56 118.44 L421.56 119.45 L422.31 119.45 L422.31 119.45 L423.05 119.45 L423.05 120.45 L423.79 120.45 L423.79 121.45 L424.53 121.45 L424.53 121.45 L425.27 121.45 L425.27 121.45 L426.02 121.45 L426.02 122.46 L426.76 122.46 L426.76 122.46 L427.50 122.46 L427.50 122.46 L428.24 122.46 L428.24 123.46 L428.99 123.46 L428.99 123.46 L429.73 123.46 L429.73 123.46 L430.47 123.46 L430.47 123.46 L431.21 123.46 L431.21 124.46 L431.95 124.46 L431.95 124.46 L432.70 124.46 L432.70 124.46 L433.44 124.46 L433.44 124.46 L434.18 124.46 L434.18 124.46 L434.92 124.46 L434.92 124.46 L435.67 124.46 L435.67 124.46 L436.41 124.46 L436.41 124.46 L437.15 124.46 L437.15 124.46 L437.89 124.46 L437.89 124.46 L438.63 124.46 L438.63 125.47 L439.38 125.47 L439.38 125.47 L440.12 125.47 L440.12 125.47 L440.86 125.47 L440.86 125.47 L441.60 125.47 L441.60 125.47 L442.35 125.47 L442.35 125.47 L443.09 125.47 L443.09 125.47 L443.83 125.47 L443.83 125.47 L444.57 125.47 L444.57 125.47 L445.31 125.47 L445.31 125.47 L446.06 125.47 L446.06 125.47 L446.80 125.47 L446.80 125.47 L447.54 125.47 L447.54 125.47 L448.28 125.47 L448.28 125.47 L449.03 125.47 L449.03 125.47 L449.77 125.47 L449.77 125.47 L450.51 125.47 L450.51 125.47 L451.25 125.47 L451.25 125.47 L452.00 125.47 L452.00 125.47 L452.74 125.47 L452.74 125.47 L453.48 125.47 L453.48 125.47 L454.22 125.47 L454.22 125.47 L454.96 125.47 L454.96 125.47 L455.71 125.47 L455.71 125.47 L456.45 125.47 L456.45 125.47 L457.19 125.47 L457.19 125.47 L457.93 125.47 L457.93 125.47 L458.68 125.47 L458.68 125.47 L459.42 125.47 L459.42 125.47 L460.16 125.47 L460.16 125.47 L460.90 125.47 L460.90 125.47 L461.64 125.47 L461.64 125.47 L462.39 125.47 L462.39 125.47 L463.13 125.47 L463.13 125.47 L463.50 125.47 L463.50 128.48 L463.13 128.48 L463.13 128.48 L462.39 128.48 L462.39 128.48 L461.64 128.48 L461.64 128.48 L460.90 128.48 L460.90 128.48 L460.16 128.48 L460.16 128.48 L459.42 128.48 L459.42 128.48 L458.68 128.48 L458.68 128.48 L457.93 128.48 L457.93 128.48 L457.19 128.48 L457.19 128.48 L456.45 128.48 L456.45 128.48 L455.71 128.48 L455.71 128.48 L454.96 128.48 L454.96 128.48 L454.22 128.48 L454.22 128.48 L453.48 128.48 L453.48 128.48 L452.74 128.48 L452.74 128.48 L452.00 128.48 L452.00 128.48 L451.25 128.48 L451.25 128.48 L450.51 128.48 L450.51 128.48 L449.77 128.48 L449.77 128.48 L449.03 128.48 L449.03 128.48 L448.28 128.48 L448.28 128.48 L447.54 128.48 L447.54 128.48 L446.80 128.48 L446.80 128.48 L446.06 128.48 L446.06 128.48 L445.31 128.48 L445.31 128.48 L444.57 128.48 L444.57 128.48 L443.83 128.48 L443.83 128.48 L443.09 128.48 L443.09 128.48 L442.35 128.48 L442.35 128.48 L441.60 128.48 L441.60 128.48 L440.86 128.48 L440.86 128.48 L440.12 128.48 L440.12 128.48 L439.38 128.48 L439.38 128.48 L438.63 128.48 L438.63 128.48 L437.89 128.48 L437.89 128.48 L437.15 128.48 L437.15 128.48 L436.41 128.48 L436.41 128.48 L435.67 128.48 L435.67 128.48 L434.92 128.48 L434.92 128.48 L434.18 128.48 L434.18 128.48 L433.44 128.48 L433.44 128.48 L432.70 128.48 L432.70 128.48 L431.95 128.48 L431.95 128.48 L431.21 128.48 L431.21 127.47 L430.47 127.47 L430.47 127.47 L429.73 127.47 L429.73 127.47 L428.99 127.47 L428.99 127.47 L428.24 127.47 L428.24 127.47 L427.50 127.47 L427.50 126.47 L426.76 126.47 L426.76 126.47 L426.02 126.47 L426.02 126.47 L425.27 126.47 L425.27 125.47 L424.53 125.47 L424.53 125.47 L423.79 125.47 L423.79 125.47 L423.05 125.47 L423.05 124.46 L422.31 124.46 L422.31 124.46 L421.56 124.46 L421.56 123.46 L420.82 123.46 L420.82 123.46 L420.08 123.46 L420.08 122.46 L419.34 122.46 L419.34 121.45 L418.59 121.45 L418.59 120.45 L417.85 120.45 L417.85 120.45 L417.11 120.45 L417.11 119.45 L416.37 119.45 L416.37 118.44 L415.62 118.44 L415.62 117.44 L414.88 117.44 L414.88 116.44 L414.14 116.44 L414.14 114.43 L413.40 114.43 L413.40 113.42 L412.66 113.42 L412.66 112.42 L411.91 112.42 L411.91 111.42 L411.17 111.42 L411.17 109.41 L410.43 109.41 L410.43 108.41 L409.69 108.41 L409.69 106.40 L408.94 106.40 L408.94 105.40 L408.20 105.40 L408.20 103.39 L407.46 103.39 L407.46 101.38 L406.72 101.38 L406.72 100.38 L405.98 100.38 L405.98 98.37 L405.23 98.37 L405.23 96.36 L404.49 96.36 L404.49 95.36 L403.75 95.36 L403.75 93.35 L403.01 93.35 L403.01 91.35 L402.26 91.35 L402.26 90.34 L401.52 90.34 L401.52 88.34 L400.78 88.34 L400.78 86.33 L400.04 86.33 L400.04 85.32 L399.30 85.32 L399.30 83.32 L398.55 83.32 L398.55 82.31 L397.81 82.31 L397.81 80.31 L397.07 80.31 L397.07 79.30 L396.33 79.30 L396.33 78.30 L395.58 78.30 L395.58 77.30 L394.84 77.30 L394.84 76.29 L394.10 76.29 L394.10 75.29 L393.36 75.29 L393.36 74.29 L392.62 74.29 L392.62 73.28 L391.87 73.28 L391.87 73.28 L391.13 73.28 L391.13 72.28 L390.39 72.28 L390.39 72.28 L389.65 72.28 L389.65 72.28 L388.90 72.28 L388.90 72.28 L388.16 72.28 L388.16 72.28 L387.42 72.28 L387.42 73.28 L386.68 73.28 L386.68 73.28 L385.93 73.28 L385.93 74.29 L385.19 74.29 L385.19 75.29 L384.45 75.29 L384.45 76.29 L383.71 76.29 L383.71 77.30 L382.97 77.30 L382.97 78.30 L382.22 78.30 L382.22 79.30 L381.48 79.30 L381.48 80.31 L380.74 80.31 L380.74 82.31 L380.00 82.31 L380.00 83.32 L379.25 83.32 L379.25 85.32 L378.51 85.32 L378.51 86.33 L377.77 86.33 L377.77 88.34 L377.03 88.34 L377.03 90.34 L376.29 90.34 L376.29 91.35 L375.54 91.35 L375.54 93.35 L374.80 93.35 L374.80 95.36 L374.06 95.36 L374.06 96.36 L373.32 96.36 L373.32 98.37 L372.57 98.37 L372.57 100.38 L371.83 100.38 L371.83 101.38 L371.09 101.38 L371.09 103.39 L370.35 103.39 L370.35 105.40 L369.61 105.40 L369.61 106.40 L368.86 106.40 L368.86 108.41 L368.12 108.41 L368.12 109.41 L367.38 109.41 L367.38 111.42 L366.64 111.42 L366.64 112.42 L365.89 112.42 L365.89 113.42 L365.15 113.42 L365.15 114.43 L364.41 114.43 L364.41 116.44 L363.67 116.44 L363.67 117.44 L362.93 117.44 L362.93 118.44 L362.18 118.44 L362.18 119.45 L361.44 119.45 L361.44 120.45 L360.70 120.45 L360.70 120.45 L359.96 120.45 L359.96 121.45 L359.21 121.45 L359.21 122.46 L358.47 122.46 L358.47 123.46 L357.73 123.46 L357.73 123.46 L356.99 123.46 L356.99 124.46 L356.24 124.46 L356.24 124.46 L355.50 124.46 L355.50 125.47 L354.76 125.47 L354.76 125.47 L354.02 125.47 L354.02 125.47 L353.28 125.47 L353.28 126.47 L352.53 126.47 L352.53 126.47 L351.79 126.47 L351.79 126.47 L351.05 126.47 L351.05 127.47 L350.31 127.47 L350.31 127.47 L349.56 127.47 L349.56 127.47 L348.82 127.47 L348.82 127.47 L348.08 127.47 L348.08 127.47 L347.34 127.47 L347.34 128.48 L346.60 128.48 L346.60 128.48 L345.85 128.48 L345.85 128.48 L345.11 128.48 L345.11 128.48 L344.37 128.48 L344.37 128.48 L343.63 128.48 L343.63 128.48 L342.88 128.48 L342.88 128.48 L342.14 128.48 L342.14 128.48 L341.40 128.48 L341.40 128.48 L340.66 128.48 L340.66 128.48 L339.92 128.48 L339.92 128.48 L339.17 128.48 L339.17 128.48 L338.43 128.48 L338.43 128.48 L337.69 128.48 L337.69 128.48 L336.95 128.48 L336.95 128.48 L336.20 128.48 L336.20 128.48 L335.46 128.48 L335.46 128.48 L334.72 128.48 L334.72 128.48 L333.98 128.48 L333.98 128.48 L333.24 128.48 L333.24 128.48 L332.49 128.48 L332.49 128.48 L331.75 128.48 L331.75 128.48 L331.01 128.48 L331.01 128.48 L330.27 128.48 L330.27 128.48 L329.52 128.48 L329.52 128.48 L328.78 128.48 L328.78 128.48 L328.04 128.48 L328.04 128.48 L327.30 128.48 L327.30 128.48 L326.55 128.48 L326.55 128.48 L325.81 128.48 L325.81 128.48 L325.07 128.48 L325.07 128.48 L324.33 128.48 L324.33 128.48 L323.59 128.48 L323.59 128.48 L322.84 128.48 L322.84 128.48 L322.10 128.48 L322.10 128.48 L321.36 128.48 L321.36 128.48 L320.62 128.48 L320.62 128.48 L319.87 128.48 L319.87 128.48 L319.13 128.48 L319.13 128.48 L318.39 128.48 L318.39 128.48 L317.65 128.48 L317.65 128.48 L316.91 128.48 L316.91 128.48 L316.16 128.48 L316.16 128.48 L315.42 128.48 L315.42 128.48 L315.05 128.48 Z"/>
<path fill="none" stroke="#000" stroke-width="3.0" stroke-linejoin="round" d="M315.05 126.97 L315.79 126.97 L316.53 126.97 L317.28 126.97 L318.02 126.97 L318.76 126.97 L319.50 126.97 L320.25 126.97 L320.99 126.97 L321.73 126.97 L322.47 126.97 L323.21 126.97 L323.96 126.97 L324.70 126.97 L325.44 126.97 L326.18 126.97 L326.93 126.96 L327.67 126.96 L328.41 126.96 L329.15 126.96 L329.89 126.95 L330.64 126.95 L331.38 126.94 L332.12 126.94 L332.86 126.93 L333.61 126.92 L334.35 126.91 L335.09 126.90 L335.83 126.88 L336.58 126.86 L337.32 126.84 L338.06 126.82 L338.80 126.79 L339.54 126.75 L340.29 126.71 L341.03 126.67 L341.77 126.61 L342.51 126.55 L343.26 126.48 L344.00 126.40 L344.74 126.30 L345.48 126.20 L346.22 126.07 L346.97 125.94 L347.71 125.78 L348.45 125.60 L349.19 125.40 L349.94 125.18 L350.68 124.92 L351.42 124.64 L352.16 124.33 L352.90 123.98 L353.65 123.59 L354.39 123.17 L355.13 122.70 L355.87 122.18 L356.62 121.62 L357.36 121.00 L358.10 120.33 L358.84 119.61 L359.59 118.82 L360.33 117.98 L361.07 117.07 L361.81 116.10 L362.55 115.06 L363.30 113.95 L364.04 112.78 L364.78 111.54 L365.52 110.23 L366.27 108.86 L367.01 107.42 L367.75 105.93 L368.49 104.37 L369.23 102.77 L369.98 101.11 L370.72 99.41 L371.46 97.66 L372.20 95.89 L372.95 94.09 L373.69 92.28 L374.43 90.45 L375.17 88.63 L375.91 86.81 L376.66 85.02 L377.40 83.25 L378.14 81.52 L378.88 79.84 L379.63 78.23 L380.37 76.68 L381.11 75.21 L381.85 73.83 L382.59 72.56 L383.34 71.39 L384.08 70.34 L384.82 69.41 L385.56 68.61 L386.31 67.95 L387.05 67.43 L387.79 67.06 L388.53 66.83 L389.27 66.76 L390.02 66.83 L390.76 67.06 L391.50 67.43 L392.24 67.95 L392.99 68.61 L393.73 69.41 L394.47 70.34 L395.21 71.39 L395.96 72.56 L396.70 73.83 L397.44 75.21 L398.18 76.68 L398.92 78.23 L399.67 79.84 L400.41 81.52 L401.15 83.25 L401.89 85.02 L402.64 86.81 L403.38 88.63 L404.12 90.45 L404.86 92.28 L405.60 94.09 L406.35 95.89 L407.09 97.66 L407.83 99.41 L408.57 101.11 L409.32 102.77 L410.06 104.37 L410.80 105.93 L411.54 107.42 L412.28 108.86 L413.03 110.23 L413.77 111.54 L414.51 112.78 L415.25 113.95 L416.00 115.06 L416.74 116.10 L417.48 117.07 L418.22 117.98 L418.97 118.82 L419.71 119.61 L420.45 120.33 L421.19 121.00 L421.93 121.62 L422.68 122.18 L423.42 122.70 L424.16 123.17 L424.90 123.59 L425.65 123.98 L426.39 124.33 L427.13 124.64 L427.87 124.92 L428.61 125.18 L429.36 125.40 L430.10 125.60 L430.84 125.78 L431.58 125.94 L432.33 126.07 L433.07 126.20 L433.81 126.30 L434.55 126.40 L435.29 126.48 L436.04 126.55 L436.78 126.61 L437.52 126.67 L438.26 126.71 L439.01 126.75 L439.75 126.79 L440.49 126.82 L441.23 126.84 L441.97 126.86 L442.72 126.88 L443.46 126.90 L444.20 126.91 L444.94 126.92 L445.69 126.93 L446.43 126.94 L447.17 126.94 L447.91 126.95 L448.65 126.95 L449.40 126.96 L450.14 126.96 L450.88 126.96 L451.62 126.96 L452.37 126.97 L453.11 126.97 L453.85 126.97 L454.59 126.97 L455.34 126.97 L456.08 126.97 L456.82 126.97 L457.56 126.97 L458.30 126.97 L459.05 126.97 L459.79 126.97 L460.53 126.97 L461.27 126.97 L462.02 126.97 L462.76 126.97 L463.50 126.97"/>
<path fill="none" stroke="#262626" stroke-width="0.9" d="M315.05 50.20 V134.50 H463.50"/>
<text x="313.25" y="138.45" font-size="12.9" text-anchor="end">0</text>
<text x="313.25" y="118.38" font-size="12.9" text-anchor="end">20</text>
<text x="313.25" y="98.31" font-size="12.9" text-anchor="end">40</text>
<text x="313.25" y="78.24" font-size="12.9" text-anchor="end">60</text>
<text x="313.25" y="58.16" font-size="12.9" text-anchor="end">80</text>
<path stroke="#262626" stroke-width="0.9" d="M315.05 134.50h1.6 M315.05 114.43h1.6 M315.05 94.36h1.6 M315.05 74.29h1.6 M315.05 54.21h1.6 M389.27 134.50v-1.6"/>
<text x="320.65" y="64.20" font-size="14.0" text-anchor="start" font-weight="bold">B</text>
<path fill="#bfbfbf" d="M566.50 122.86 L566.87 122.86 L566.87 122.86 L567.62 122.86 L567.62 122.86 L568.36 122.86 L568.36 122.86 L569.10 122.86 L569.10 122.86 L569.85 122.86 L569.85 122.86 L570.59 122.86 L570.59 122.86 L571.34 122.86 L571.34 122.86 L572.08 122.86 L572.08 122.86 L572.82 122.86 L572.82 122.86 L573.57 122.86 L573.57 122.86 L574.31 122.86 L574.31 122.86 L575.06 122.86 L575.06 122.86 L575.80 122.86 L575.80 122.86 L576.54 122.86 L576.54 122.86 L577.29 122.86 L577.29 122.86 L578.03 122.86 L578.03 122.86 L578.78 122.86 L578.78 122.86 L579.52 122.86 L579.52 122.86 L580.26 122.86 L580.26 122.86 L581.01 122.86 L581.01 122.86 L581.75 122.86 L581.75 122.86 L582.50 122.86 L582.50 122.86 L583.24 122.86 L583.24 122.86 L583.98 122.86 L583.98 122.86 L584.73 122.86 L584.73 122.86 L585.47 122.86 L585.47 122.86 L586.22 122.86 L586.22 122.53 L586.96 122.53 L586.96 122.53 L587.70 122.53 L587.70 122.53 L588.45 122.53 L588.45 122.53 L589.19 122.53 L589.19 122.53 L589.94 122.53 L589.94 122.53 L590.68 122.53 L590.68 122.53 L591.42 122.53 L591.42 122.53 L592.17 122.53 L592.17 122.53 L592.91 122.53 L592.91 122.20 L593.66 122.20 L593.66 122.20 L594.40 122.20 L594.40 122.20 L595.14 122.20 L595.14 121.86 L595.89 121.86 L595.89 121.86 L596.63 121.86 L596.63 121.86 L597.38 121.86 L597.38 121.53 L598.12 121.53 L598.12 121.53 L598.86 121.53 L598.86 121.20 L599.61 121.20 L599.61 120.87 L600.35 120.87 L600.35 120.87 L601.10 120.87 L601.10 120.53 L601.84 120.53 L601.84 120.20 L602.58 120.20 L602.58 119.87 L603.33 119.87 L603.33 119.20 L604.07 119.20 L604.07 118.87 L604.82 118.87 L604.82 118.54 L605.56 118.54 L605.56 117.87 L606.30 117.87 L606.30 117.21 L607.05 117.21 L607.05 116.54 L607.79 116.54 L607.79 115.88 L608.54 115.88 L608.54 115.21 L609.28 115.21 L609.28 114.21 L610.02 114.21 L610.02 113.22 L610.77 113.22 L610.77 112.22 L611.51 112.22 L611.51 111.22 L612.26 111.22 L612.26 110.22 L613.00 110.22 L613.00 108.89 L613.74 108.89 L613.74 107.56 L614.49 107.56 L614.49 106.23 L615.23 106.23 L615.23 104.90 L615.98 104.90 L615.98 103.24 L616.72 103.24 L616.72 101.58 L617.46 101.58 L617.46 99.91 L618.21 99.91 L618.21 98.25 L618.95 98.25 L618.95 96.59 L619.70 96.59 L619.70 94.59 L620.44 94.59 L620.44 92.60 L621.18 92.60 L621.18 90.60 L621.93 90.60 L621.93 88.61 L622.67 88.61 L622.67 86.61 L623.42 86.61 L623.42 84.29 L624.16 84.29 L624.16 82.29 L624.90 82.29 L624.90 79.96 L625.65 79.96 L625.65 77.97 L626.39 77.97 L626.39 75.64 L627.14 75.64 L627.14 73.31 L627.88 73.31 L627.88 71.32 L628.62 71.32 L628.62 69.32 L629.37 69.32 L629.37 67.33 L630.11 67.33 L630.11 65.33 L630.86 65.33 L630.86 63.33 L631.60 63.33 L631.60 61.34 L632.34 61.34 L632.34 59.68 L633.09 59.68 L633.09 58.01 L633.83 58.01 L633.83 56.68 L634.58 56.68 L634.58 55.35 L635.32 55.35 L635.32 54.02 L636.06 54.02 L636.06 53.03 L636.81 53.03 L636.81 52.03 L637.55 52.03 L637.55 51.03 L638.30 51.03 L638.30 50.70 L639.04 50.70 L639.04 50.03 L639.78 50.03 L639.78 49.70 L640.53 49.70 L640.53 49.70 L641.27 49.70 L641.27 49.70 L642.02 49.70 L642.02 50.03 L642.76 50.03 L642.76 50.70 L643.50 50.70 L643.50 51.03 L644.25 51.03 L644.25 52.03 L644.99 52.03 L644.99 53.03 L645.74 53.03 L645.74 54.02 L646.48 54.02 L646.48 55.35 L647.22 55.35 L647.22 56.68 L647.97 56.68 L647.97 58.01 L648.71 58.01 L648.71 59.68 L649.46 59.68 L649.46 61.34 L650.20 61.34 L650.20 63.33 L650.94 63.33 L650.94 65.33 L651.69 65.33 L651.69 67.33 L652.43 67.33 L652.43 69.32 L653.18 69.32 L653.18 71.32 L653.92 71.32 L653.92 73.31 L654.66 73.31 L654.66 75.64 L655.41 75.64 L655.41 77.97 L656.15 77.97 L656.15 79.96 L656.90 79.96 L656.90 82.29 L657.64 82.29 L657.64 84.29 L658.38 84.29 L658.38 86.61 L659.13 86.61 L659.13 88.61 L659.87 88.61 L659.87 90.60 L660.62 90.60 L660.62 92.60 L661.36 92.60 L661.36 94.59 L662.10 94.59 L662.10 96.59 L662.85 96.59 L662.85 98.25 L663.59 98.25 L663.59 99.91 L664.34 99.91 L664.34 101.58 L665.08 101.58 L665.08 103.24 L665.82 103.24 L665.82 104.90 L666.57 104.90 L666.57 106.23 L667.31 106.23 L667.31 107.56 L668.06 107.56 L668.06 108.89 L668.80 108.89 L668.80 110.22 L669.54 110.22 L669.54 111.22 L670.29 111.22 L670.29 112.22 L671.03 112.22 L671.03 113.22 L671.78 113.22 L671.78 114.21 L672.52 114.21 L672.52 115.21 L673.26 115.21 L673.26 115.88 L674.01 115.88 L674.01 116.54 L674.75 116.54 L674.75 117.21 L675.50 117.21 L675.50 117.87 L676.24 117.87 L676.24 118.54 L676.98 118.54 L676.98 118.87 L677.73 118.87 L677.73 119.20 L678.47 119.20 L678.47 119.87 L679.22 119.87 L679.22 120.20 L679.96 120.20 L679.96 120.53 L680.70 120.53 L680.70 120.87 L681.45 120.87 L681.45 120.87 L682.19 120.87 L682.19 121.20 L682.94 121.20 L682.94 121.53 L683.68 121.53 L683.68 121.53 L684.42 121.53 L684.42 121.86 L685.17 121.86 L685.17 121.86 L685.91 121.86 L685.91 121.86 L686.66 121.86 L686.66 122.20 L687.40 122.20 L687.40 122.20 L688.14 122.20 L688.14 122.20 L688.89 122.20 L688.89 122.53 L689.63 122.53 L689.63 122.53 L690.38 122.53 L690.38 122.53 L691.12 122.53 L691.12 122.53 L691.86 122.53 L691.86 122.53 L692.61 122.53 L692.61 122.53 L693.35 122.53 L693.35 122.53 L694.10 122.53 L694.10 122.53 L694.84 122.53 L694.84 122.53 L695.58 122.53 L695.58 122.86 L696.33 122.86 L696.33 122.86 L697.07 122.86 L697.07 122.86 L697.82 122.86 L697.82 122.86 L698.56 122.86 L698.56 122.86 L699.30 122.86 L699.30 122.86 L700.05 122.86 L700.05 122.86 L700.79 122.86 L700.79 122.86 L701.54 122.86 L701.54 122.86 L702.28 122.86 L702.28 122.86 L703.02 122.86 L703.02 122.86 L703.77 122.86 L703.77 122.86 L704.51 122.86 L704.51 122.86 L705.26 122.86 L705.26 122.86 L706.00 122.86 L706.00 122.86 L706.74 122.86 L706.74 122.86 L707.49 122.86 L707.49 122.86 L708.23 122.86 L708.23 122.86 L708.98 122.86 L708.98 122.86 L709.72 122.86 L709.72 122.86 L710.46 122.86 L710.46 122.86 L711.21 122.86 L711.21 122.86 L711.95 122.86 L711.95 122.86 L712.70 122.86 L712.70 122.86 L713.44 122.86 L713.44 122.86 L714.18 122.86 L714.18 122.86 L714.93 122.86 L714.93 122.86 L715.30 122.86 L715.30 129.18 L714.93 129.18 L714.93 129.18 L714.18 129.18 L714.18 129.18 L713.44 129.18 L713.44 129.18 L712.70 129.18 L712.70 129.18 L711.95 129.18 L711.95 129.18 L711.21 129.18 L711.21 129.18 L710.46 129.18 L710.46 129.18 L709.72 129.18 L709.72 129.18 L708.98 129.18 L708.98 129.18 L708.23 129.18 L708.23 129.18 L707.49 129.18 L707.49 129.18 L706.74 129.18 L706.74 129.18 L706.00 129.18 L706.00 129.18 L705.26 129.18 L705.26 129.18 L704.51 129.18 L704.51 129.18 L703.77 129.18 L703.77 129.18 L703.02 129.18 L703.02 129.18 L702.28 129.18 L702.28 129.18 L701.54 129.18 L701.54 129.18 L700.79 129.18 L700.79 129.18 L700.05 129.18 L700.05 129.18 L699.30 129.18 L699.30 129.18 L698.56 129.18 L698.56 129.18 L697.82 129.18 L697.82 129.18 L697.07 129.18 L697.07 129.18 L696.33 129.18 L696.33 129.18 L695.58 129.18 L695.58 129.18 L694.84 129.18 L694.84 129.18 L694.10 129.18 L694.10 129.18 L693.35 129.18 L693.35 129.18 L692.61 129.18 L692.61 129.18 L691.86 129.18 L691.86 129.18 L691.12 129.18 L691.12 129.18 L690.38 129.18 L690.38 129.18 L689.63 129.18 L689.63 128.85 L688.89 128.85 L688.89 128.85 L688.14 128.85 L688.14 128.85 L687.40 128.85 L687.40 128.85 L686.66 128.85 L686.66 128.85 L685.91 128.85 L685.91 128.51 L685.17 128.51 L685.17 128.51 L684.42 128.51 L684.42 128.51 L683.68 128.51 L683.68 128.51 L682.94 128.51 L682.94 128.18 L682.19 128.18 L682.19 128.18 L681.45 128.18 L681.45 127.85 L680.70 127.85 L680.70 127.52 L679.96 127.52 L679.96 127.52 L679.22 127.52 L679.22 127.18 L678.47 127.18 L678.47 126.85 L677.73 126.85 L677.73 126.52 L676.98 126.52 L676.98 126.19 L676.24 126.19 L676.24 125.85 L675.50 125.85 L675.50 125.52 L674.75 125.52 L674.75 124.86 L674.01 124.86 L674.01 124.52 L673.26 124.52 L673.26 123.86 L672.52 123.86 L672.52 123.19 L671.78 123.19 L671.78 122.53 L671.03 122.53 L671.03 121.86 L670.29 121.86 L670.29 120.87 L669.54 120.87 L669.54 120.20 L668.80 120.20 L668.80 119.20 L668.06 119.20 L668.06 118.21 L667.31 118.21 L667.31 116.87 L666.57 116.87 L666.57 115.88 L665.82 115.88 L665.82 114.55 L665.08 114.55 L665.08 113.22 L664.34 113.22 L664.34 111.89 L663.59 111.89 L663.59 110.56 L662.85 110.56 L662.85 109.23 L662.10 109.23 L662.10 107.56 L661.36 107.56 L661.36 105.90 L660.62 105.90 L660.62 104.24 L659.87 104.24 L659.87 102.58 L659.13 102.58 L659.13 100.91 L658.38 100.91 L658.38 98.92 L657.64 98.92 L657.64 97.25 L656.90 97.25 L656.90 95.26 L656.15 95.26 L656.15 93.60 L655.41 93.60 L655.41 91.60 L654.66 91.60 L654.66 89.94 L653.92 89.94 L653.92 87.94 L653.18 87.94 L653.18 86.28 L652.43 86.28 L652.43 84.62 L651.69 84.62 L651.69 82.62 L650.94 82.62 L650.94 80.96 L650.20 80.96 L650.20 79.63 L649.46 79.63 L649.46 77.97 L648.71 77.97 L648.71 76.64 L647.97 76.64 L647.97 75.31 L647.22 75.31 L647.22 73.98 L646.48 73.98 L646.48 72.98 L645.74 72.98 L645.74 71.98 L644.99 71.98 L644.99 71.32 L644.25 71.32 L644.25 70.65 L643.50 70.65 L643.50 69.99 L642.76 69.99 L642.76 69.65 L642.02 69.65 L642.02 69.32 L641.27 69.32 L641.27 69.32 L640.53 69.32 L640.53 69.32 L639.78 69.32 L639.78 69.65 L639.04 69.65 L639.04 69.99 L638.30 69.99 L638.30 70.65 L637.55 70.65 L637.55 71.32 L636.81 71.32 L636.81 71.98 L636.06 71.98 L636.06 72.98 L635.32 72.98 L635.32 73.98 L634.58 73.98 L634.58 75.31 L633.83 75.31 L633.83 76.64 L633.09 76.64 L633.09 77.97 L632.34 77.97 L632.34 79.63 L631.60 79.63 L631.60 80.96 L630.86 80.96 L630.86 82.62 L630.11 82.62 L630.11 84.62 L629.37 84.62 L629.37 86.28 L628.62 86.28 L628.62 87.94 L627.88 87.94 L627.88 89.94 L627.14 89.94 L627.14 91.60 L626.39 91.60 L626.39 93.60 L625.65 93.60 L625.65 95.26 L624.90 95.26 L624.90 97.25 L624.16 97.25 L624.16 98.92 L623.42 98.92 L623.42 100.91 L622.67 100.91 L622.67 102.58 L621.93 102.58 L621.93 104.24 L621.18 104.24 L621.18 105.90 L620.44 105.90 L620.44 107.56 L619.70 107.56 L619.70 109.23 L618.95 109.23 L618.95 110.56 L618.21 110.56 L618.21 111.89 L617.46 111.89 L617.46 113.22 L616.72 113.22 L616.72 114.55 L615.98 114.55 L615.98 115.88 L615.23 115.88 L615.23 116.87 L614.49 116.87 L614.49 118.21 L613.74 118.21 L613.74 119.20 L613.00 119.20 L613.00 120.20 L612.26 120.20 L612.26 120.87 L611.51 120.87 L611.51 121.86 L610.77 121.86 L610.77 122.53 L610.02 122.53 L610.02 123.19 L609.28 123.19 L609.28 123.86 L608.54 123.86 L608.54 124.52 L607.79 124.52 L607.79 124.86 L607.05 124.86 L607.05 125.52 L606.30 125.52 L606.30 125.85 L605.56 125.85 L605.56 126.19 L604.82 126.19 L604.82 126.52 L604.07 126.52 L604.07 126.85 L603.33 126.85 L603.33 127.18 L602.58 127.18 L602.58 127.52 L601.84 127.52 L601.84 127.52 L601.10 127.52 L601.10 127.85 L600.35 127.85 L600.35 128.18 L599.61 128.18 L599.61 128.18 L598.86 128.18 L598.86 128.51 L598.12 128.51 L598.12 128.51 L597.38 128.51 L597.38 128.51 L596.63 128.51 L596.63 128.51 L595.89 128.51 L595.89 128.85 L595.14 128.85 L595.14 128.85 L594.40 128.85 L594.40 128.85 L593.66 128.85 L593.66 128.85 L592.91 128.85 L592.91 128.85 L592.17 128.85 L592.17 129.18 L591.42 129.18 L591.42 129.18 L590.68 129.18 L590.68 129.18 L589.94 129.18 L589.94 129.18 L589.19 129.18 L589.19 129.18 L588.45 129.18 L588.45 129.18 L587.70 129.18 L587.70 129.18 L586.96 129.18 L586.96 129.18 L586.22 129.18 L586.22 129.18 L585.47 129.18 L585.47 129.18 L584.73 129.18 L584.73 129.18 L583.98 129.18 L583.98 129.18 L583.24 129.18 L583.24 129.18 L582.50 129.18 L582.50 129.18 L581.75 129.18 L581.75 129.18 L581.01 129.18 L581.01 129.18 L580.26 129.18 L580.26 129.18 L579.52 129.18 L579.52 129.18 L578.78 129.18 L578.78 129.18 L578.03 129.18 L578.03 129.18 L577.29 129.18 L577.29 129.18 L576.54 129.18 L576.54 129.18 L575.80 129.18 L575.80 129.18 L575.06 129.18 L575.06 129.18 L574.31 129.18 L574.31 129.18 L573.57 129.18 L573.57 129.18 L572.82 129.18 L572.82 129.18 L572.08 129.18 L572.08 129.18 L571.34 129.18 L571.34 129.18 L570.59 129.18 L570.59 129.18 L569.85 129.18 L569.85 129.18 L569.10 129.18 L569.10 129.18 L568.36 129.18 L568.36 129.18 L567.62 129.18 L567.62 129.18 L566.87 129.18 L566.87 129.18 L566.50 129.18 Z"/>
<path fill="#808080" d="M566.50 125.19 L566.87 125.19 L566.87 125.19 L567.62 125.19 L567.62 125.19 L568.36 125.19 L568.36 125.19 L569.10 125.19 L569.10 125.19 L569.85 125.19 L569.85 125.19 L570.59 125.19 L570.59 125.19 L571.34 125.19 L571.34 125.19 L572.08 125.19 L572.08 125.19 L572.82 125.19 L572.82 125.19 L573.57 125.19 L573.57 125.19 L574.31 125.19 L574.31 125.19 L575.06 125.19 L575.06 125.19 L575.80 125.19 L575.80 125.19 L576.54 125.19 L576.54 125.19 L577.29 125.19 L577.29 125.19 L578.03 125.19 L578.03 125.19 L578.78 125.19 L578.78 125.19 L579.52 125.19 L579.52 125.19 L580.26 125.19 L580.26 125.19 L581.01 125.19 L581.01 125.19 L581.75 125.19 L581.75 125.19 L582.50 125.19 L582.50 125.19 L583.24 125.19 L583.24 125.19 L583.98 125.19 L583.98 125.19 L584.73 125.19 L584.73 125.19 L585.47 125.19 L585.47 124.86 L586.22 124.86 L586.22 124.86 L586.96 124.86 L586.96 124.86 L587.70 124.86 L587.70 124.86 L588.45 124.86 L588.45 124.86 L589.19 124.86 L589.19 124.86 L589.94 124.86 L589.94 124.86 L590.68 124.86 L590.68 124.86 L591.42 124.86 L591.42 124.86 L592.17 124.86 L592.17 124.86 L592.91 124.86 L592.91 124.52 L593.66 124.52 L593.66 124.52 L594.40 124.52 L594.40 124.52 L595.14 124.52 L595.14 124.52 L595.89 124.52 L595.89 124.19 L596.63 124.19 L596.63 124.19 L597.38 124.19 L597.38 124.19 L598.12 124.19 L598.12 123.86 L598.86 123.86 L598.86 123.53 L599.61 123.53 L599.61 123.53 L600.35 123.53 L600.35 123.19 L601.10 123.19 L601.10 122.86 L601.84 122.86 L601.84 122.53 L602.58 122.53 L602.58 122.20 L603.33 122.20 L603.33 121.86 L604.07 121.86 L604.07 121.53 L604.82 121.53 L604.82 121.20 L605.56 121.20 L605.56 120.53 L606.30 120.53 L606.30 120.20 L607.05 120.20 L607.05 119.54 L607.79 119.54 L607.79 118.87 L608.54 118.87 L608.54 118.21 L609.28 118.21 L609.28 117.21 L610.02 117.21 L610.02 116.54 L610.77 116.54 L610.77 115.54 L611.51 115.54 L611.51 114.55 L612.26 114.55 L612.26 113.55 L613.00 113.55 L613.00 112.55 L613.74 112.55 L613.74 111.22 L614.49 111.22 L614.49 109.89 L615.23 109.89 L615.23 108.56 L615.98 108.56 L615.98 107.23 L616.72 107.23 L616.72 105.57 L617.46 105.57 L617.46 104.24 L618.21 104.24 L618.21 102.58 L618.95 102.58 L618.95 100.91 L619.70 100.91 L619.70 98.92 L620.44 98.92 L620.44 97.25 L621.18 97.25 L621.18 95.26 L621.93 95.26 L621.93 93.26 L622.67 93.26 L622.67 91.27 L623.42 91.27 L623.42 89.27 L624.16 89.27 L624.16 87.28 L624.90 87.28 L624.90 85.28 L625.65 85.28 L625.65 83.29 L626.39 83.29 L626.39 80.96 L627.14 80.96 L627.14 78.96 L627.88 78.96 L627.88 76.97 L628.62 76.97 L628.62 74.97 L629.37 74.97 L629.37 72.98 L630.11 72.98 L630.11 70.98 L630.86 70.98 L630.86 69.32 L631.60 69.32 L631.60 67.66 L632.34 67.66 L632.34 65.99 L633.09 65.99 L633.09 64.33 L633.83 64.33 L633.83 63.00 L634.58 63.00 L634.58 61.67 L635.32 61.67 L635.32 60.34 L636.06 60.34 L636.06 59.34 L636.81 59.34 L636.81 58.35 L637.55 58.35 L637.55 57.68 L638.30 57.68 L638.30 57.02 L639.04 57.02 L639.04 56.68 L639.78 56.68 L639.78 56.35 L640.53 56.35 L640.53 56.35 L641.27 56.35 L641.27 56.35 L642.02 56.35 L642.02 56.68 L642.76 56.68 L642.76 57.02 L643.50 57.02 L643.50 57.68 L644.25 57.68 L644.25 58.35 L644.99 58.35 L644.99 59.34 L645.74 59.34 L645.74 60.34 L646.48 60.34 L646.48 61.67 L647.22 61.67 L647.22 63.00 L647.97 63.00 L647.97 64.33 L648.71 64.33 L648.71 65.99 L649.46 65.99 L649.46 67.66 L650.20 67.66 L650.20 69.32 L650.94 69.32 L650.94 70.98 L651.69 70.98 L651.69 72.98 L652.43 72.98 L652.43 74.97 L653.18 74.97 L653.18 76.97 L653.92 76.97 L653.92 78.96 L654.66 78.96 L654.66 80.96 L655.41 80.96 L655.41 83.29 L656.15 83.29 L656.15 85.28 L656.90 85.28 L656.90 87.28 L657.64 87.28 L657.64 89.27 L658.38 89.27 L658.38 91.27 L659.13 91.27 L659.13 93.26 L659.87 93.26 L659.87 95.26 L660.62 95.26 L660.62 97.25 L661.36 97.25 L661.36 98.92 L662.10 98.92 L662.10 100.91 L662.85 100.91 L662.85 102.58 L663.59 102.58 L663.59 104.24 L664.34 104.24 L664.34 105.57 L665.08 105.57 L665.08 107.23 L665.82 107.23 L665.82 108.56 L666.57 108.56 L666.57 109.89 L667.31 109.89 L667.31 111.22 L668.06 111.22 L668.06 112.55 L668.80 112.55 L668.80 113.55 L669.54 113.55 L669.54 114.55 L670.29 114.55 L670.29 115.54 L671.03 115.54 L671.03 116.54 L671.78 116.54 L671.78 117.21 L672.52 117.21 L672.52 118.21 L673.26 118.21 L673.26 118.87 L674.01 118.87 L674.01 119.54 L674.75 119.54 L674.75 120.20 L675.50 120.20 L675.50 120.53 L676.24 120.53 L676.24 121.20 L676.98 121.20 L676.98 121.53 L677.73 121.53 L677.73 121.86 L678.47 121.86 L678.47 122.20 L679.22 122.20 L679.22 122.53 L679.96 122.53 L679.96 122.86 L680.70 122.86 L680.70 123.19 L681.45 123.19 L681.45 123.53 L682.19 123.53 L682.19 123.53 L682.94 123.53 L682.94 123.86 L683.68 123.86 L683.68 124.19 L684.42 124.19 L684.42 124.19 L685.17 124.19 L685.17 124.19 L685.91 124.19 L685.91 124.52 L686.66 124.52 L686.66 124.52 L687.40 124.52 L687.40 124.52 L688.14 124.52 L688.14 124.52 L688.89 124.52 L688.89 124.86 L689.63 124.86 L689.63 124.86 L690.38 124.86 L690.38 124.86 L691.12 124.86 L691.12 124.86 L691.86 124.86 L691.86 124.86 L692.61 124.86 L692.61 124.86 L693.35 124.86 L693.35 124.86 L694.10 124.86 L694.10 124.86 L694.84 124.86 L694.84 124.86 L695.58 124.86 L695.58 124.86 L696.33 124.86 L696.33 125.19 L697.07 125.19 L697.07 125.19 L697.82 125.19 L697.82 125.19 L698.56 125.19 L698.56 125.19 L699.30 125.19 L699.30 125.19 L700.05 125.19 L700.05 125.19 L700.79 125.19 L700.79 125.19 L701.54 125.19 L701.54 125.19 L702.28 125.19 L702.28 125.19 L703.02 125.19 L703.02 125.19 L703.77 125.19 L703.77 125.19 L704.51 125.19 L704.51 125.19 L705.26 125.19 L705.26 125.19 L706.00 125.19 L706.00 125.19 L706.74 125.19 L706.74 125.19 L707.49 125.19 L707.49 125.19 L708.23 125.19 L708.23 125.19 L708.98 125.19 L708.98 125.19 L709.72 125.19 L709.72 125.19 L710.46 125.19 L710.46 125.19 L711.21 125.19 L711.21 125.19 L711.95 125.19 L711.95 125.19 L712.70 125.19 L712.70 125.19 L713.44 125.19 L713.44 125.19 L714.18 125.19 L714.18 125.19 L714.93 125.19 L714.93 125.19 L715.30 125.19 L715.30 127.18 L714.93 127.18 L714.93 127.18 L714.18 127.18 L714.18 127.18 L713.44 127.18 L713.44 127.18 L712.70 127.18 L712.70 127.18 L711.95 127.18 L711.95 127.18 L711.21 127.18 L711.21 127.18 L710.46 127.18 L710.46 127.18 L709.72 127.18 L709.72 127.18 L708.98 127.18 L708.98 127.18 L708.23 127.18 L708.23 127.18 L707.49 127.18 L707.49 127.18 L706.74 127.18 L706.74 127.18 L706.00 127.18 L706.00 127.18 L705.26 127.18 L705.26 127.18 L704.51 127.18 L704.51 127.18 L703.77 127.18 L703.77 127.18 L703.02 127.18 L703.02 127.18 L702.28 127.18 L702.28 127.18 L701.54 127.18 L701.54 127.18 L700.79 127.18 L700.79 127.18 L700.05 127.18 L700.05 127.18 L699.30 127.18 L699.30 127.18 L698.56 127.18 L698.56 127.18 L697.82 127.18 L697.82 127.18 L697.07 127.18 L697.07 127.18 L696.33 127.18 L696.33 127.18 L695.58 127.18 L695.58 127.18 L694.84 127.18 L694.84 127.18 L694.10 127.18 L694.10 127.18 L693.35 127.18 L693.35 127.18 L692.61 127.18 L692.61 127.18 L691.86 127.18 L691.86 127.18 L691.12 127.18 L691.12 127.18 L690.38 127.18 L690.38 127.18 L689.63 127.18 L689.63 127.18 L688.89 127.18 L688.89 126.85 L688.14 126.85 L688.14 126.85 L687.40 126.85 L687.40 126.85 L686.66 126.85 L686.66 126.85 L685.91 126.85 L685.91 126.52 L685.17 126.52 L685.17 126.52 L684.42 126.52 L684.42 126.52 L683.68 126.52 L683.68 126.19 L682.94 126.19 L682.94 126.19 L682.19 126.19 L682.19 125.85 L681.45 125.85 L681.45 125.85 L680.70 125.85 L680.70 125.52 L679.96 125.52 L679.96 125.19 L679.22 125.19 L679.22 124.86 L678.47 124.86 L678.47 124.52 L677.73 124.52 L677.73 124.19 L676.98 124.19 L676.98 123.86 L676.24 123.86 L676.24 123.53 L675.50 123.53 L675.50 122.86 L674.75 122.86 L674.75 122.20 L674.01 122.20 L674.01 121.86 L673.26 121.86 L673.26 121.20 L672.52 121.20 L672.52 120.53 L671.78 120.53 L671.78 119.54 L671.03 119.54 L671.03 118.87 L670.29 118.87 L670.29 117.87 L669.54 117.87 L669.54 116.87 L668.80 116.87 L668.80 115.88 L668.06 115.88 L668.06 114.88 L667.31 114.88 L667.31 113.55 L666.57 113.55 L666.57 112.55 L665.82 112.55 L665.82 111.22 L665.08 111.22 L665.08 109.89 L664.34 109.89 L664.34 108.23 L663.59 108.23 L663.59 106.90 L662.85 106.90 L662.85 105.24 L662.10 105.24 L662.10 103.57 L661.36 103.57 L661.36 101.91 L660.62 101.91 L660.62 99.91 L659.87 99.91 L659.87 98.25 L659.13 98.25 L659.13 96.26 L658.38 96.26 L658.38 94.26 L657.64 94.26 L657.64 92.60 L656.90 92.60 L656.90 90.60 L656.15 90.60 L656.15 88.61 L655.41 88.61 L655.41 86.61 L654.66 86.61 L654.66 84.62 L653.92 84.62 L653.92 82.62 L653.18 82.62 L653.18 80.96 L652.43 80.96 L652.43 78.96 L651.69 78.96 L651.69 77.30 L650.94 77.30 L650.94 75.31 L650.20 75.31 L650.20 73.64 L649.46 73.64 L649.46 72.31 L648.71 72.31 L648.71 70.65 L647.97 70.65 L647.97 69.32 L647.22 69.32 L647.22 67.99 L646.48 67.99 L646.48 66.99 L645.74 66.99 L645.74 65.99 L644.99 65.99 L644.99 65.00 L644.25 65.00 L644.25 64.33 L643.50 64.33 L643.50 63.67 L642.76 63.67 L642.76 63.33 L642.02 63.33 L642.02 63.00 L641.27 63.00 L641.27 63.00 L640.53 63.00 L640.53 63.00 L639.78 63.00 L639.78 63.33 L639.04 63.33 L639.04 63.67 L638.30 63.67 L638.30 64.33 L637.55 64.33 L637.55 65.00 L636.81 65.00 L636.81 65.99 L636.06 65.99 L636.06 66.99 L635.32 66.99 L635.32 67.99 L634.58 67.99 L634.58 69.32 L633.83 69.32 L633.83 70.65 L633.09 70.65 L633.09 72.31 L632.34 72.31 L632.34 73.64 L631.60 73.64 L631.60 75.31 L630.86 75.31 L630.86 77.30 L630.11 77.30 L630.11 78.96 L629.37 78.96 L629.37 80.96 L628.62 80.96 L628.62 82.62 L627.88 82.62 L627.88 84.62 L627.14 84.62 L627.14 86.61 L626.39 86.61 L626.39 88.61 L625.65 88.61 L625.65 90.60 L624.90 90.60 L624.90 92.60 L624.16 92.60 L624.16 94.26 L623.42 94.26 L623.42 96.26 L622.67 96.26 L622.67 98.25 L621.93 98.25 L621.93 99.91 L621.18 99.91 L621.18 101.91 L620.44 101.91 L620.44 103.57 L619.70 103.57 L619.70 105.24 L618.95 105.24 L618.95 106.90 L618.21 106.90 L618.21 108.23 L617.46 108.23 L617.46 109.89 L616.72 109.89 L616.72 111.22 L615.98 111.22 L615.98 112.55 L615.23 112.55 L615.23 113.55 L614.49 113.55 L614.49 114.88 L613.74 114.88 L613.74 115.88 L613.00 115.88 L613.00 116.87 L612.26 116.87 L612.26 117.87 L611.51 117.87 L611.51 118.87 L610.77 118.87 L610.77 119.54 L610.02 119.54 L610.02 120.53 L609.28 120.53 L609.28 121.20 L608.54 121.20 L608.54 121.86 L607.79 121.86 L607.79 122.20 L607.05 122.20 L607.05 122.86 L606.30 122.86 L606.30 123.53 L605.56 123.53 L605.56 123.86 L604.82 123.86 L604.82 124.19 L604.07 124.19 L604.07 124.52 L603.33 124.52 L603.33 124.86 L602.58 124.86 L602.58 125.19 L601.84 125.19 L601.84 125.52 L601.10 125.52 L601.10 125.85 L600.35 125.85 L600.35 125.85 L599.61 125.85 L599.61 126.19 L598.86 126.19 L598.86 126.19 L598.12 126.19 L598.12 126.52 L597.38 126.52 L597.38 126.52 L596.63 126.52 L596.63 126.52 L595.89 126.52 L595.89 126.85 L595.14 126.85 L595.14 126.85 L594.40 126.85 L594.40 126.85 L593.66 126.85 L593.66 126.85 L592.91 126.85 L592.91 127.18 L592.17 127.18 L592.17 127.18 L591.42 127.18 L591.42 127.18 L590.68 127.18 L590.68 127.18 L589.94 127.18 L589.94 127.18 L589.19 127.18 L589.19 127.18 L588.45 127.18 L588.45 127.18 L587.70 127.18 L587.70 127.18 L586.96 127.18 L586.96 127.18 L586.22 127.18 L586.22 127.18 L585.47 127.18 L585.47 127.18 L584.73 127.18 L584.73 127.18 L583.98 127.18 L583.98 127.18 L583.24 127.18 L583.24 127.18 L582.50 127.18 L582.50 127.18 L581.75 127.18 L581.75 127.18 L581.01 127.18 L581.01 127.18 L580.26 127.18 L580.26 127.18 L579.52 127.18 L579.52 127.18 L578.78 127.18 L578.78 127.18 L578.03 127.18 L578.03 127.18 L577.29 127.18 L577.29 127.18 L576.54 127.18 L576.54 127.18 L575.80 127.18 L575.80 127.18 L575.06 127.18 L575.06 127.18 L574.31 127.18 L574.31 127.18 L573.57 127.18 L573.57 127.18 L572.82 127.18 L572.82 127.18 L572.08 127.18 L572.08 127.18 L571.34 127.18 L571.34 127.18 L570.59 127.18 L570.59 127.18 L569.85 127.18 L569.85 127.18 L569.10 127.18 L569.10 127.18 L568.36 127.18 L568.36 127.18 L567.62 127.18 L567.62 127.18 L566.87 127.18 L566.87 127.18 L566.50 127.18 Z"/>
<path fill="none" stroke="#000" stroke-width="3.0" stroke-linejoin="round" d="M566.50 126.19 L567.24 126.19 L567.99 126.19 L568.73 126.19 L569.48 126.19 L570.22 126.19 L570.96 126.19 L571.71 126.18 L572.45 126.18 L573.20 126.18 L573.94 126.18 L574.68 126.18 L575.43 126.18 L576.17 126.18 L576.92 126.18 L577.66 126.18 L578.40 126.18 L579.15 126.17 L579.89 126.17 L580.64 126.17 L581.38 126.16 L582.12 126.16 L582.87 126.15 L583.61 126.15 L584.36 126.14 L585.10 126.13 L585.84 126.12 L586.59 126.10 L587.33 126.08 L588.08 126.06 L588.82 126.04 L589.56 126.01 L590.31 125.98 L591.05 125.94 L591.80 125.90 L592.54 125.85 L593.28 125.79 L594.03 125.72 L594.77 125.64 L595.52 125.55 L596.26 125.45 L597.00 125.33 L597.75 125.19 L598.49 125.04 L599.24 124.87 L599.98 124.67 L600.72 124.45 L601.47 124.20 L602.21 123.92 L602.96 123.61 L603.70 123.26 L604.44 122.88 L605.19 122.45 L605.93 121.98 L606.68 121.46 L607.42 120.89 L608.16 120.27 L608.91 119.59 L609.65 118.85 L610.40 118.05 L611.14 117.19 L611.88 116.25 L612.63 115.25 L613.37 114.17 L614.12 113.02 L614.86 111.80 L615.60 110.51 L616.35 109.14 L617.09 107.69 L617.84 106.18 L618.58 104.59 L619.32 102.94 L620.07 101.22 L620.81 99.45 L621.56 97.62 L622.30 95.74 L623.04 93.81 L623.79 91.85 L624.53 89.87 L625.28 87.86 L626.02 85.85 L626.76 83.83 L627.51 81.83 L628.25 79.84 L629.00 77.89 L629.74 75.98 L630.48 74.13 L631.23 72.34 L631.97 70.63 L632.72 69.01 L633.46 67.49 L634.20 66.08 L634.95 64.79 L635.69 63.63 L636.44 62.60 L637.18 61.72 L637.92 60.99 L638.67 60.42 L639.41 60.01 L640.16 59.76 L640.90 59.68 L641.64 59.76 L642.39 60.01 L643.13 60.42 L643.88 60.99 L644.62 61.72 L645.36 62.60 L646.11 63.63 L646.85 64.79 L647.60 66.08 L648.34 67.49 L649.08 69.01 L649.83 70.63 L650.57 72.34 L651.32 74.13 L652.06 75.98 L652.80 77.89 L653.55 79.84 L654.29 81.83 L655.04 83.83 L655.78 85.85 L656.52 87.86 L657.27 89.87 L658.01 91.85 L658.76 93.81 L659.50 95.74 L660.24 97.62 L660.99 99.45 L661.73 101.22 L662.48 102.94 L663.22 104.59 L663.96 106.18 L664.71 107.69 L665.45 109.14 L666.20 110.51 L666.94 111.80 L667.68 113.02 L668.43 114.17 L669.17 115.25 L669.92 116.25 L670.66 117.19 L671.40 118.05 L672.15 118.85 L672.89 119.59 L673.64 120.27 L674.38 120.89 L675.12 121.46 L675.87 121.98 L676.61 122.45 L677.36 122.88 L678.10 123.26 L678.84 123.61 L679.59 123.92 L680.33 124.20 L681.08 124.45 L681.82 124.67 L682.56 124.87 L683.31 125.04 L684.05 125.19 L684.80 125.33 L685.54 125.45 L686.28 125.55 L687.03 125.64 L687.77 125.72 L688.52 125.79 L689.26 125.85 L690.00 125.90 L690.75 125.94 L691.49 125.98 L692.24 126.01 L692.98 126.04 L693.72 126.06 L694.47 126.08 L695.21 126.10 L695.96 126.12 L696.70 126.13 L697.44 126.14 L698.19 126.15 L698.93 126.15 L699.68 126.16 L700.42 126.16 L701.16 126.17 L701.91 126.17 L702.65 126.17 L703.40 126.18 L704.14 126.18 L704.88 126.18 L705.63 126.18 L706.37 126.18 L707.12 126.18 L707.86 126.18 L708.60 126.18 L709.35 126.18 L710.09 126.18 L710.84 126.19 L711.58 126.19 L712.32 126.19 L713.07 126.19 L713.81 126.19 L714.56 126.19 L715.30 126.19"/>
<path fill="none" stroke="#262626" stroke-width="0.9" d="M566.50 49.70 V134.50 H715.30"/>
<text x="564.70" y="138.45" font-size="12.9" text-anchor="end">0</text>
<text x="564.70" y="121.82" font-size="12.9" text-anchor="end">50</text>
<text x="564.70" y="105.20" font-size="12.9" text-anchor="end">100</text>
<text x="564.70" y="88.57" font-size="12.9" text-anchor="end">150</text>
<text x="564.70" y="71.94" font-size="12.9" text-anchor="end">200</text>
<text x="564.70" y="55.31" font-size="12.9" text-anchor="end">250</text>
<path stroke="#262626" stroke-width="0.9" d="M566.50 134.50h1.6 M566.50 117.87h1.6 M566.50 101.25h1.6 M566.50 84.62h1.6 M566.50 67.99h1.6 M566.50 51.36h1.6 M640.90 134.50v-1.6"/>
<text x="573.10" y="64.20" font-size="14.0" text-anchor="start" font-weight="bold">C</text>
<path stroke="#000" stroke-width="3.6" d="M667.3 58.7H683"/>
<rect x="667.3" y="68.7" width="15.7" height="15.7" fill="#bfbfbf"/>
<rect x="667.3" y="86.6" width="15.7" height="15.6" fill="#808080"/>
<text x="687.00" y="62.20" font-size="12.9" text-anchor="start">Mean</text>
<text x="687.00" y="80.60" font-size="12.9" text-anchor="start">95%</text>
<text x="687.00" y="98.30" font-size="12.9" text-anchor="start">50%</text>
<path fill="none" stroke="#262626" stroke-width="1" d="M65.50 147.50 H214.00 V296.50 H65.50 Z"/>
<path stroke="#262626" stroke-width="0.9" d="M139.75 147.50v1.6 M139.75 296.50v-1.6 M65.50 222.00h1.6 M214.00 222.00h-1.6"/>
<path stroke="#0000dc" stroke-width="3.1" stroke-dasharray="5.6 3.975" stroke-dashoffset="3.0" fill="none" d="M65.50 296.50 L214.00 147.50"/>
<text x="70.70" y="164.00" font-size="14.0" text-anchor="start" font-weight="bold">D</text>
<text x="63.70" y="151.45" font-size="12.9" text-anchor="end">0.5</text>
<text x="63.70" y="225.95" font-size="12.9" text-anchor="end">0</text>
<text x="63.70" y="300.45" font-size="12.9" text-anchor="end">−0.5</text>
<path fill="none" stroke="#262626" stroke-width="1" d="M315.05 147.50 H463.50 V296.50 H315.05 Z"/>
<path stroke="#262626" stroke-width="0.9" d="M389.27 147.50v1.6 M389.27 296.50v-1.6 M315.05 222.00h1.6 M463.50 222.00h-1.6"/>
<path stroke="#0000dc" stroke-width="3.1" stroke-dasharray="5.6 3.975" stroke-dashoffset="3.0" fill="none" d="M315.05 296.50 L463.50 147.50"/>
<text x="320.65" y="164.00" font-size="14.0" text-anchor="start" font-weight="bold">E</text>
<path fill="none" stroke="#262626" stroke-width="1" d="M566.50 147.50 H715.30 V296.50 H566.50 Z"/>
<path stroke="#262626" stroke-width="0.9" d="M640.90 147.50v1.6 M640.90 296.50v-1.6 M566.50 222.00h1.6 M715.30 222.00h-1.6"/>
<path stroke="#0000dc" stroke-width="3.1" stroke-dasharray="5.6 3.975" stroke-dashoffset="3.0" fill="none" d="M566.50 296.50 L715.30 147.50"/>
<text x="573.10" y="164.00" font-size="14.0" text-anchor="start" font-weight="bold">F</text>
<path fill="none" stroke="#0000dc" stroke-width="3.4" stroke-linejoin="round" d="M65.50 445.97 L66.24 445.97 L66.98 445.97 L67.73 445.97 L68.47 445.97 L69.21 445.97 L69.95 445.97 L70.70 445.97 L71.44 445.97 L72.18 445.97 L72.92 445.97 L73.67 445.97 L74.41 445.97 L75.15 445.97 L75.89 445.97 L76.64 445.97 L77.38 445.97 L78.12 445.97 L78.86 445.97 L79.61 445.97 L80.35 445.98 L81.09 445.98 L81.83 445.98 L82.58 445.98 L83.32 445.99 L84.06 445.99 L84.81 445.99 L85.55 446.00 L86.29 446.00 L87.03 446.01 L87.78 446.02 L88.52 446.03 L89.26 446.04 L90.00 446.05 L90.75 446.06 L91.49 446.08 L92.23 446.10 L92.97 446.12 L93.72 446.15 L94.46 446.17 L95.20 446.21 L95.94 446.24 L96.69 446.28 L97.43 446.32 L98.17 446.37 L98.91 446.42 L99.66 446.48 L100.40 446.54 L101.14 446.60 L101.88 446.66 L102.62 446.72 L103.37 446.79 L104.11 446.84 L104.85 446.90 L105.59 446.94 L106.34 446.97 L107.08 446.97 L107.82 446.95 L108.56 446.90 L109.31 446.81 L110.05 446.66 L110.79 446.46 L111.53 446.18 L112.28 445.83 L113.02 445.39 L113.76 444.85 L114.50 444.20 L115.25 443.44 L115.99 442.57 L116.73 441.58 L117.47 440.46 L118.22 439.24 L118.96 437.91 L119.70 436.48 L120.44 434.96 L121.19 433.37 L121.93 431.73 L122.67 430.04 L123.41 428.33 L124.16 426.61 L124.90 424.90 L125.64 423.22 L126.39 421.57 L127.13 419.97 L127.87 418.43 L128.61 416.96 L129.35 415.56 L130.10 414.24 L130.84 413.02 L131.58 411.88 L132.32 410.83 L133.07 409.88 L133.81 409.03 L134.55 408.27 L135.30 407.62 L136.04 407.06 L136.78 406.61 L137.52 406.25 L138.26 406.00 L139.01 405.85 L139.75 405.80 L140.49 405.85 L141.24 406.00 L141.98 406.25 L142.72 406.61 L143.46 407.06 L144.20 407.62 L144.95 408.27 L145.69 409.03 L146.43 409.88 L147.18 410.83 L147.92 411.88 L148.66 413.02 L149.40 414.24 L150.15 415.56 L150.89 416.96 L151.63 418.43 L152.37 419.97 L153.12 421.57 L153.86 423.22 L154.60 424.90 L155.34 426.61 L156.08 428.33 L156.83 430.04 L157.57 431.73 L158.31 433.37 L159.06 434.96 L159.80 436.48 L160.54 437.91 L161.28 439.24 L162.03 440.46 L162.77 441.58 L163.51 442.57 L164.25 443.44 L165.00 444.20 L165.74 444.85 L166.48 445.39 L167.22 445.83 L167.97 446.18 L168.71 446.46 L169.45 446.66 L170.19 446.81 L170.94 446.90 L171.68 446.95 L172.42 446.97 L173.16 446.97 L173.91 446.94 L174.65 446.90 L175.39 446.84 L176.13 446.79 L176.88 446.72 L177.62 446.66 L178.36 446.60 L179.10 446.54 L179.84 446.48 L180.59 446.42 L181.33 446.37 L182.07 446.32 L182.81 446.28 L183.56 446.24 L184.30 446.21 L185.04 446.17 L185.79 446.15 L186.53 446.12 L187.27 446.10 L188.01 446.08 L188.75 446.06 L189.50 446.05 L190.24 446.04 L190.98 446.03 L191.72 446.02 L192.47 446.01 L193.21 446.00 L193.95 446.00 L194.69 445.99 L195.44 445.99 L196.18 445.99 L196.92 445.98 L197.66 445.98 L198.41 445.98 L199.15 445.98 L199.89 445.97 L200.63 445.97 L201.38 445.97 L202.12 445.97 L202.86 445.97 L203.61 445.97 L204.35 445.97 L205.09 445.97 L205.83 445.97 L206.58 445.97 L207.32 445.97 L208.06 445.97 L208.80 445.97 L209.54 445.97 L210.29 445.97 L211.03 445.97 L211.77 445.97 L212.51 445.97 L213.26 445.97 L214.00 445.97"/>
<path fill="none" stroke="#262626" stroke-width="1" d="M65.50 311.50 H214.00 V459.70 H65.50 Z"/>
<path stroke="#262626" stroke-width="0.9" d="M139.75 311.50v1.6 M139.75 459.70v-1.6 M65.50 430.06h1.6 M214.00 430.06h-1.6 M65.50 400.42h1.6 M214.00 400.42h-1.6 M65.50 370.78h1.6 M214.00 370.78h-1.6 M65.50 341.14h1.6 M214.00 341.14h-1.6"/>
<text x="70.70" y="328.50" font-size="14.0" text-anchor="start" font-weight="bold">G</text>
<text x="63.70" y="463.65" font-size="12.9" text-anchor="end">0</text>
<text x="63.70" y="434.01" font-size="12.9" text-anchor="end">1</text>
<text x="63.70" y="404.37" font-size="12.9" text-anchor="end">2</text>
<text x="63.70" y="374.73" font-size="12.9" text-anchor="end">3</text>
<text x="63.70" y="345.09" font-size="12.9" text-anchor="end">4</text>
<text x="63.70" y="315.45" font-size="12.9" text-anchor="end">5</text>
<text x="66.20" y="474.60" font-size="12.9" text-anchor="middle">−0.5</text>
<text x="139.75" y="474.60" font-size="12.9" text-anchor="middle">0</text>
<text x="214.00" y="474.60" font-size="12.9" text-anchor="middle">0.5</text>
<path fill="none" stroke="#0000dc" stroke-width="1.7" d="M315.05 435.14 L315.79 435.14 L316.53 435.14 L317.28 435.14 L318.02 435.14 L318.76 435.14 L319.50 435.14 L320.25 435.14 L320.99 435.14 L321.73 435.14 L322.47 435.14 L323.21 435.14 L323.96 435.14 L324.70 435.14 L325.44 435.14 L326.18 435.14 L326.93 435.14 L327.67 435.14 L328.41 435.14 L329.15 435.15 L329.89 435.15 L330.64 435.15 L331.38 435.15 L332.12 435.16 L332.86 435.16 L333.61 435.16 L334.35 435.17 L335.09 435.18 L335.83 435.18 L336.58 435.19 L337.32 435.20 L338.06 435.21 L338.80 435.23 L339.54 435.24 L340.29 435.26 L341.03 435.27 L341.77 435.29 L342.51 435.31 L343.26 435.33 L344.00 435.35 L344.74 435.36 L345.48 435.37 L346.22 435.37 L346.97 435.36 L347.71 435.33 L348.45 435.28 L349.19 435.18 L349.94 435.04 L350.68 434.82"/>
<path fill="none" stroke="#0000dc" stroke-width="3.4" stroke-linejoin="round" d="M350.68 434.82 L351.42 434.52 L352.16 434.09 L352.90 433.51 L353.65 432.74 L354.39 431.72 L355.13 430.42 L355.87 428.77 L356.62 426.74 L357.36 424.29 L358.10 421.39 L358.84 418.07 L359.59 414.37 L360.33 410.37 L361.07 406.20 L361.81 401.99 L362.55 397.91 L363.30 394.10 L364.04 390.68 L364.78 387.72 L365.52 385.26 L366.27 383.30 L367.01 381.79 L367.75 380.69 L368.49 379.96 L369.23 379.55 L369.98 379.45 L370.72 379.63 L371.46 380.06 L372.20 380.73 L372.95 381.60 L373.69 382.61 L374.43 383.69 L375.17 384.76 L375.91 385.72 L376.66 386.49 L377.40 387.01 L378.14 387.23 L378.88 387.15 L379.63 386.80 L380.37 386.20 L381.11 385.41 L381.85 384.50 L382.59 383.51 L383.34 382.51 L384.08 381.54 L384.82 380.64 L385.56 379.83 L386.31 379.14 L387.05 378.60 L387.79 378.20 L388.53 377.96 L389.27 377.87 L390.02 377.96 L390.76 378.20 L391.50 378.60 L392.24 379.14 L392.99 379.83 L393.73 380.64 L394.47 381.54 L395.21 382.51 L395.96 383.51 L396.70 384.50 L397.44 385.41 L398.18 386.20 L398.92 386.80 L399.67 387.15 L400.41 387.23 L401.15 387.01 L401.89 386.49 L402.64 385.72 L403.38 384.76 L404.12 383.69 L404.86 382.61 L405.60 381.60 L406.35 380.73 L407.09 380.06 L407.83 379.63 L408.57 379.45 L409.32 379.55 L410.06 379.96 L410.80 380.69 L411.54 381.79 L412.28 383.30 L413.03 385.26 L413.77 387.72 L414.51 390.68 L415.25 394.10 L416.00 397.91 L416.74 401.99 L417.48 406.20 L418.22 410.37 L418.97 414.37 L419.71 418.07 L420.45 421.39 L421.19 424.29 L421.93 426.74 L422.68 428.77 L423.42 430.42 L424.16 431.72 L424.90 432.74 L425.65 433.51 L426.39 434.09 L427.13 434.52 L427.87 434.82 L428.61 435.04 L429.36 435.18 L430.10 435.28 L430.84 435.33 L431.58 435.36 L432.33 435.37 L433.07 435.37 L433.81 435.36 L434.55 435.35 L435.29 435.33 L436.04 435.31 L436.78 435.29 L437.52 435.27 L438.26 435.26 L439.01 435.24 L439.75 435.23 L440.49 435.21 L441.23 435.20 L441.97 435.19 L442.72 435.18 L443.46 435.18 L444.20 435.17 L444.94 435.16 L445.69 435.16 L446.43 435.16 L447.17 435.15 L447.91 435.15 L448.65 435.15 L449.40 435.15 L450.14 435.14 L450.88 435.14 L451.62 435.14 L452.37 435.14 L453.11 435.14 L453.85 435.14 L454.59 435.14 L455.34 435.14 L456.08 435.14 L456.82 435.14 L457.56 435.14 L458.30 435.14 L459.05 435.14 L459.79 435.14 L460.53 435.14 L461.27 435.14 L462.02 435.14 L462.76 435.14 L463.50 435.14"/>
<path fill="none" stroke="#262626" stroke-width="1" d="M315.05 311.50 H463.50 V459.70 H315.05 Z"/>
<path stroke="#262626" stroke-width="0.9" d="M389.27 311.50v1.6 M389.27 459.70v-1.6 M315.05 430.06h1.6 M463.50 430.06h-1.6 M315.05 400.42h1.6 M463.50 400.42h-1.6 M315.05 370.78h1.6 M463.50 370.78h-1.6 M315.05 341.14h1.6 M463.50 341.14h-1.6"/>
<text x="320.65" y="328.50" font-size="14.0" text-anchor="start" font-weight="bold">H</text>
<text x="315.75" y="474.60" font-size="12.9" text-anchor="middle">−0.5</text>
<text x="389.27" y="474.60" font-size="12.9" text-anchor="middle">0</text>
<text x="463.50" y="474.60" font-size="12.9" text-anchor="middle">0.5</text>
<path fill="none" stroke="#0000dc" stroke-width="3.4" stroke-linejoin="round" d="M566.50 430.27 L567.24 430.27 L567.99 430.27 L568.73 430.27 L569.48 430.27 L570.22 430.27 L570.96 430.27 L571.71 430.27 L572.45 430.27 L573.20 430.27 L573.94 430.27 L574.68 430.27 L575.43 430.27 L576.17 430.27 L576.92 430.27 L577.66 430.28 L578.40 430.28 L579.15 430.28 L579.89 430.28 L580.64 430.28 L581.38 430.29 L582.12 430.29 L582.87 430.29 L583.61 430.30 L584.36 430.31 L585.10 430.31 L585.84 430.32 L586.59 430.33 L587.33 430.34 L588.08 430.35 L588.82 430.37 L589.56 430.38 L590.31 430.40 L591.05 430.41 L591.80 430.43 L592.54 430.44 L593.28 430.45 L594.03 430.45 L594.77 430.44 L595.52 430.42 L596.26 430.36 L597.00 430.27 L597.75 430.13 L598.49 429.91 L599.24 429.58 L599.98 429.10 L600.72 428.42 L601.47 427.48 L602.21 426.18 L602.96 424.45 L603.70 422.16 L604.44 419.21 L605.19 415.53 L605.93 411.08 L606.68 405.88 L607.42 400.08 L608.16 393.91 L608.91 387.68 L609.65 381.74 L610.40 376.36 L611.14 371.74 L611.88 367.89 L612.63 364.76 L613.37 362.20 L614.12 360.08 L614.86 358.29 L615.60 356.76 L616.35 355.45 L617.09 354.33 L617.84 353.38 L618.58 352.61 L619.32 352.00 L620.07 351.56 L620.81 351.27 L621.56 351.15 L622.30 351.20 L623.04 351.42 L623.79 351.82 L624.53 352.41 L625.28 353.22 L626.02 354.28 L626.76 355.62 L627.51 357.31 L628.25 359.35 L629.00 361.73 L629.74 364.31 L630.48 366.87 L631.23 369.12 L631.97 370.82 L632.72 371.81 L633.46 372.09 L634.20 371.74 L634.95 370.92 L635.69 369.82 L636.44 368.59 L637.18 367.39 L637.92 366.30 L638.67 365.40 L639.41 364.73 L640.16 364.31 L640.90 364.18 L641.64 364.31 L642.39 364.73 L643.13 365.40 L643.88 366.30 L644.62 367.39 L645.36 368.59 L646.11 369.82 L646.85 370.92 L647.60 371.74 L648.34 372.09 L649.08 371.81 L649.83 370.82 L650.57 369.12 L651.32 366.87 L652.06 364.31 L652.80 361.73 L653.55 359.35 L654.29 357.31 L655.04 355.62 L655.78 354.28 L656.52 353.22 L657.27 352.41 L658.01 351.82 L658.76 351.42 L659.50 351.20 L660.24 351.15 L660.99 351.27 L661.73 351.56 L662.48 352.00 L663.22 352.61 L663.96 353.38 L664.71 354.33 L665.45 355.45 L666.20 356.76 L666.94 358.29 L667.68 360.08 L668.43 362.20 L669.17 364.76 L669.92 367.89 L670.66 371.74 L671.40 376.36 L672.15 381.74 L672.89 387.68 L673.64 393.91 L674.38 400.08 L675.12 405.88 L675.87 411.08 L676.61 415.53 L677.36 419.21 L678.10 422.16 L678.84 424.45 L679.59 426.18 L680.33 427.48 L681.08 428.42 L681.82 429.10 L682.56 429.58 L683.31 429.91 L684.05 430.13 L684.80 430.27 L685.54 430.36 L686.28 430.42 L687.03 430.44 L687.77 430.45 L688.52 430.45 L689.26 430.44 L690.00 430.43 L690.75 430.41 L691.49 430.40 L692.24 430.38 L692.98 430.37 L693.72 430.35 L694.47 430.34 L695.21 430.33 L695.96 430.32 L696.70 430.31 L697.44 430.31 L698.19 430.30 L698.93 430.29 L699.68 430.29 L700.42 430.29 L701.16 430.28 L701.91 430.28 L702.65 430.28 L703.40 430.28 L704.14 430.28 L704.88 430.27 L705.63 430.27 L706.37 430.27 L707.12 430.27 L707.86 430.27 L708.60 430.27 L709.35 430.27 L710.09 430.27 L710.84 430.27 L711.58 430.27 L712.32 430.27 L713.07 430.27 L713.81 430.27 L714.56 430.27 L715.30 430.27"/>
<path fill="none" stroke="#262626" stroke-width="1" d="M566.50 311.50 H715.30 V459.70 H566.50 Z"/>
<path stroke="#262626" stroke-width="0.9" d="M640.90 311.50v1.6 M640.90 459.70v-1.6 M566.50 430.06h1.6 M715.30 430.06h-1.6 M566.50 400.42h1.6 M715.30 400.42h-1.6 M566.50 370.78h1.6 M715.30 370.78h-1.6 M566.50 341.14h1.6 M715.30 341.14h-1.6"/>
<text x="573.10" y="328.50" font-size="14.0" text-anchor="start" font-weight="bold">I</text>
<text x="567.20" y="474.60" font-size="12.9" text-anchor="middle">−0.5</text>
<text x="640.90" y="474.60" font-size="12.9" text-anchor="middle">0</text>
<text x="715.30" y="474.60" font-size="12.9" text-anchor="middle">0.5</text>
</svg></div></body></html>
